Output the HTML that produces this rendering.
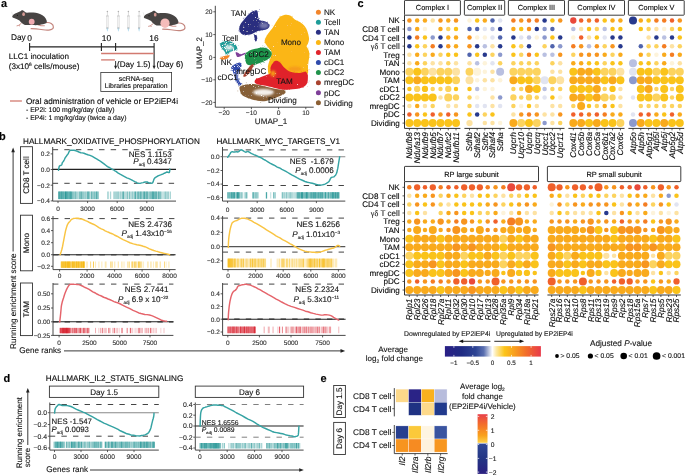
<!DOCTYPE html>
<html><head><meta charset="utf-8"><title>Figure</title>
<style>
html,body{margin:0;padding:0;background:#fff;width:685px;height:475px;overflow:hidden}
svg{display:block;will-change:transform}
text{font-family:"Liberation Sans",sans-serif;text-rendering:geometricPrecision;stroke:#222;stroke-width:0.12px}
</style></head><body>
<svg width="685" height="475" viewBox="0 0 685 475">
<rect width="685" height="475" fill="#fff"/>
<text x="1" y="6.8" font-size="11" font-weight="bold" fill="#000">a</text>
<g transform="translate(0 0)"><path d="M46 22.6 C50 22 53.6 24 53.4 27.2 C53.2 30.2 48 30.5 43 29.8 C38 29.1 33.5 28.6 30.6 28.7" fill="none" stroke="#c4867e" stroke-width="1.15"/><path d="M21.5 23.2 L18.6 25.4 L16.6 25.9 M18.6 25.4 L20 26" fill="none" stroke="#d1978f" stroke-width="1"/><path d="M37.5 24.6 L41 25.6 L44.8 25.8" fill="none" stroke="#d1978f" stroke-width="1.1"/><path d="M12.4 15.9 C13 14.6 14.6 13.6 16.5 12.9 C18 12.2 19.5 11.6 20.5 11.2 C21.3 10.2 22.6 10.1 23.5 10.8 C24.5 11.6 25.5 12.6 27 12.8 C31 12.3 36 12.4 40 14.1 C43.5 15.5 46 18 46.8 21 C47.3 22.8 45.5 23.8 43 24.3 C40 25 37 25.3 33 25.1 C29 25 27 25.3 25 24.9 C23 24.3 21 22.6 19.5 20.6 C17.5 19.4 15.5 18.7 14 18.1 C12.6 17.5 11.8 16.8 12.4 15.9 Z" fill="#474443"/><ellipse cx="23.6" cy="14.2" rx="1.35" ry="1.9" fill="#d49a94"/><circle cx="17.4" cy="15.2" r="0.55" fill="#111"/><ellipse cx="31.7" cy="21.7" rx="2.9" ry="3.0" fill="#efaab0"/><path d="M11.6 11.8 L12.6 15.2" stroke="#cfcfcf" stroke-width="0.4"/></g>
<g transform="translate(131.6 0.5)"><path d="M46 22.6 C50 22 53.6 24 53.4 27.2 C53.2 30.2 48 30.5 43 29.8 C38 29.1 33.5 28.6 30.6 28.7" fill="none" stroke="#c4867e" stroke-width="1.15"/><path d="M21.5 23.2 L18.6 25.4 L16.6 25.9 M18.6 25.4 L20 26" fill="none" stroke="#d1978f" stroke-width="1"/><path d="M37.5 24.6 L41 25.6 L44.8 25.8" fill="none" stroke="#d1978f" stroke-width="1.1"/><path d="M12.4 15.9 C13 14.6 14.6 13.6 16.5 12.9 C18 12.2 19.5 11.6 20.5 11.2 C21.3 10.2 22.6 10.1 23.5 10.8 C24.5 11.6 25.5 12.6 27 12.8 C31 12.3 36 12.4 40 14.1 C43.5 15.5 46 18 46.8 21 C47.3 22.8 45.5 23.8 43 24.3 C40 25 37 25.3 33 25.1 C29 25 27 25.3 25 24.9 C23 24.3 21 22.6 19.5 20.6 C17.5 19.4 15.5 18.7 14 18.1 C12.6 17.5 11.8 16.8 12.4 15.9 Z" fill="#474443"/><ellipse cx="23.6" cy="14.2" rx="1.35" ry="1.9" fill="#d49a94"/><circle cx="17.4" cy="15.2" r="0.55" fill="#111"/><ellipse cx="33.4" cy="22.7" rx="4.6" ry="4.8" fill="#f5bcba"/><path d="M11.6 11.8 L12.6 15.2" stroke="#cfcfcf" stroke-width="0.4"/></g>
<line x1="107.4" y1="11.5" x2="107.4" y2="16" stroke="#b8b8b8" stroke-width="0.5"/>
<circle cx="107.4" cy="11.6" r="0.75" fill="#b0b0b0"/>
<line x1="106" y1="16" x2="108.8" y2="16" stroke="#bdbdbd" stroke-width="0.8"/>
<rect x="106.5" y="16.4" width="1.8" height="11.6" fill="#f1f1f1" stroke="#cdcdcd" stroke-width="0.4"/>
<rect x="106.5" y="27.7" width="1.8" height="0.9" fill="#7d8a92" stroke="none" stroke-width="0"/>
<path d="M106.5 28.6 L108.3 28.6 L107.75 31 L107.4 31.8 L107.05 31 Z" fill="#b8def0" stroke="none" stroke-width="1"/>
<line x1="118.4" y1="11.5" x2="118.4" y2="16" stroke="#b8b8b8" stroke-width="0.5"/>
<circle cx="118.4" cy="11.6" r="0.75" fill="#b0b0b0"/>
<line x1="117" y1="16" x2="119.8" y2="16" stroke="#bdbdbd" stroke-width="0.8"/>
<rect x="117.5" y="16.4" width="1.8" height="11.6" fill="#f1f1f1" stroke="#cdcdcd" stroke-width="0.4"/>
<rect x="117.5" y="27.7" width="1.8" height="0.9" fill="#7d8a92" stroke="none" stroke-width="0"/>
<path d="M117.5 28.6 L119.3 28.6 L118.75 31 L118.4 31.8 L118.05 31 Z" fill="#b8def0" stroke="none" stroke-width="1"/>
<line x1="128.4" y1="11.5" x2="128.4" y2="16" stroke="#b8b8b8" stroke-width="0.5"/>
<circle cx="128.4" cy="11.6" r="0.75" fill="#b0b0b0"/>
<line x1="127" y1="16" x2="129.8" y2="16" stroke="#bdbdbd" stroke-width="0.8"/>
<rect x="127.5" y="16.4" width="1.8" height="11.6" fill="#f1f1f1" stroke="#cdcdcd" stroke-width="0.4"/>
<rect x="127.5" y="27.7" width="1.8" height="0.9" fill="#7d8a92" stroke="none" stroke-width="0"/>
<path d="M127.5 28.6 L129.3 28.6 L128.75 31 L128.4 31.8 L128.05 31 Z" fill="#b8def0" stroke="none" stroke-width="1"/>
<line x1="139.1" y1="11.5" x2="139.1" y2="16" stroke="#b8b8b8" stroke-width="0.5"/>
<circle cx="139.1" cy="11.6" r="0.75" fill="#b0b0b0"/>
<line x1="137.7" y1="16" x2="140.5" y2="16" stroke="#bdbdbd" stroke-width="0.8"/>
<rect x="138.2" y="16.4" width="1.8" height="11.6" fill="#f1f1f1" stroke="#cdcdcd" stroke-width="0.4"/>
<rect x="138.2" y="27.7" width="1.8" height="0.9" fill="#7d8a92" stroke="none" stroke-width="0"/>
<path d="M138.2 28.6 L140 28.6 L139.45 31 L139.1 31.8 L138.75 31 Z" fill="#b8def0" stroke="none" stroke-width="1"/>
<text x="11" y="40.2" font-size="8.3">Day</text>
<text x="29.7" y="41" font-size="8.4" text-anchor="middle">0</text>
<text x="106.4" y="41" font-size="8.4" text-anchor="middle">10</text>
<text x="153.9" y="41" font-size="8.4" text-anchor="middle">16</text>
<line x1="29.3" y1="46.9" x2="154.1" y2="46.9" stroke="#222" stroke-width="1.2"/>
<line x1="29.6" y1="43.1" x2="29.6" y2="51" stroke="#222" stroke-width="1.1"/>
<line x1="101.4" y1="43.1" x2="101.4" y2="51" stroke="#222" stroke-width="1.1"/>
<line x1="115.6" y1="43.1" x2="115.6" y2="51" stroke="#222" stroke-width="1.1"/>
<line x1="154.1" y1="43.1" x2="154.1" y2="66.5" stroke="#222" stroke-width="1.1"/>
<line x1="115.6" y1="61" x2="115.6" y2="66.5" stroke="#222" stroke-width="0.9"/>
<path d="M114.1 65.8 L117.1 65.8 L115.6 69.3 Z" fill="#222" stroke="none" stroke-width="1"/>
<path d="M152.6 65.8 L155.6 65.8 L154.1 69.3 Z" fill="#222" stroke="none" stroke-width="1"/>
<line x1="101.1" y1="53.5" x2="153.8" y2="53.5" stroke="#d27a70" stroke-width="1.3"/>
<line x1="101.1" y1="59.9" x2="114.9" y2="59.9" stroke="#d27a70" stroke-width="1.3"/>
<text x="117" y="66.8" font-size="8.15">(Day 1.5)</text>
<text x="156.5" y="66.8" font-size="8.15">(Day 6)</text>
<text x="8.8" y="59.1" font-size="8.1">LLC1 inoculation</text>
<text x="8.8" y="68.8" font-size="8.1">(3x10<tspan font-size="4.8" dy="-2.8">6</tspan><tspan dy="2.8"> cells/mouse)</tspan></text>
<rect x="100.8" y="72.5" width="70.8" height="18.9" fill="none" stroke="#333" stroke-width="0.8"/>
<text x="136.2" y="80.7" font-size="6.9" text-anchor="middle">scRNA-seq</text>
<text x="136.2" y="88.1" font-size="6.85" text-anchor="middle">Libraries preparation</text>
<line x1="10" y1="101" x2="21.9" y2="101" stroke="#d27a70" stroke-width="1.3"/>
<text x="26" y="104.1" font-size="8.2">Oral administration of vehicle or EP2iEP4i</text>
<text x="26" y="112.3" font-size="6.9">- EP2i: 100 mg/kg/day (daily)</text>
<text x="26" y="120.1" font-size="6.85">- EP4i: 1 mg/kg/day (twice a day)</text>
<line x1="215.3" y1="5.8" x2="215.3" y2="107.2" stroke="#333" stroke-width="0.9"/>
<line x1="215.3" y1="107.2" x2="313.7" y2="107.2" stroke="#333" stroke-width="0.9"/>
<line x1="213.3" y1="11.8" x2="215.3" y2="11.8" stroke="#333" stroke-width="0.8"/>
<text x="212.5" y="14.2" font-size="6.6" text-anchor="end" fill="#333">20</text>
<line x1="213.3" y1="34.6" x2="215.3" y2="34.6" stroke="#333" stroke-width="0.8"/>
<text x="212.5" y="37" font-size="6.6" text-anchor="end" fill="#333">10</text>
<line x1="213.3" y1="57.4" x2="215.3" y2="57.4" stroke="#333" stroke-width="0.8"/>
<text x="212.5" y="59.8" font-size="6.6" text-anchor="end" fill="#333">0</text>
<line x1="213.3" y1="79.8" x2="215.3" y2="79.8" stroke="#333" stroke-width="0.8"/>
<text x="212.5" y="82.2" font-size="6.6" text-anchor="end" fill="#333">−10</text>
<line x1="213.3" y1="102.4" x2="215.3" y2="102.4" stroke="#333" stroke-width="0.8"/>
<text x="212.5" y="104.8" font-size="6.6" text-anchor="end" fill="#333">−20</text>
<line x1="224.2" y1="107.2" x2="224.2" y2="109.2" stroke="#333" stroke-width="0.8"/>
<text x="224.2" y="114.8" font-size="6.6" text-anchor="middle" fill="#333">−20</text>
<line x1="251.4" y1="107.2" x2="251.4" y2="109.2" stroke="#333" stroke-width="0.8"/>
<text x="251.4" y="114.8" font-size="6.6" text-anchor="middle" fill="#333">−10</text>
<line x1="278.6" y1="107.2" x2="278.6" y2="109.2" stroke="#333" stroke-width="0.8"/>
<text x="278.6" y="114.8" font-size="6.6" text-anchor="middle" fill="#333">0</text>
<line x1="305.8" y1="107.2" x2="305.8" y2="109.2" stroke="#333" stroke-width="0.8"/>
<text x="305.8" y="114.8" font-size="6.6" text-anchor="middle" fill="#333">10</text>
<text x="271" y="124" font-size="8.1" text-anchor="middle" fill="#222">UMAP_1</text>
<text x="201.8" y="52.9" font-size="7.95" text-anchor="middle" fill="#222" transform="rotate(-90 201.8 52.9)">UMAP_2</text>
<defs><filter id="fz" x="-10%" y="-10%" width="120%" height="120%"><feGaussianBlur stdDeviation="0.3"/></filter><filter id="fz2" x="-50%" y="-50%" width="200%" height="200%"><feGaussianBlur stdDeviation="1.3"/></filter><filter id="spA" x="0" y="0" width="100%" height="100%"><feTurbulence type="fractalNoise" baseFrequency="0.9" numOctaves="2" seed="4" result="n"/><feColorMatrix in="n" type="matrix" values="0 0 0 0 1  0 0 0 0 1  0 0 0 0 1  6 0 0 0 -4.1" result="w"/><feComposite in="w" in2="SourceGraphic" operator="in" result="ws"/><feMerge><feMergeNode in="SourceGraphic"/><feMergeNode in="ws"/></feMerge></filter><filter id="spM" x="0" y="0" width="100%" height="100%"><feTurbulence type="fractalNoise" baseFrequency="0.9" numOctaves="2" seed="5" result="n"/><feColorMatrix in="n" type="matrix" values="0 0 0 0 1  0 0 0 0 1  0 0 0 0 1  6 0 0 0 -4.6" result="w"/><feComposite in="w" in2="SourceGraphic" operator="in" result="ws"/><feMerge><feMergeNode in="SourceGraphic"/><feMergeNode in="ws"/></feMerge></filter><filter id="spB" x="0" y="0" width="100%" height="100%"><feTurbulence type="fractalNoise" baseFrequency="0.9" numOctaves="2" seed="6" result="n"/><feColorMatrix in="n" type="matrix" values="0 0 0 0 1  0 0 0 0 1  0 0 0 0 1  6 0 0 0 -3.4" result="w"/><feComposite in="w" in2="SourceGraphic" operator="in" result="ws"/><feMerge><feMergeNode in="SourceGraphic"/><feMergeNode in="ws"/></feMerge></filter><filter id="spC" x="0" y="0" width="100%" height="100%"><feTurbulence type="fractalNoise" baseFrequency="0.9" numOctaves="2" seed="7" result="n"/><feColorMatrix in="n" type="matrix" values="0 0 0 0 1  0 0 0 0 1  0 0 0 0 1  6 0 0 0 -2.8" result="w"/><feComposite in="w" in2="SourceGraphic" operator="in" result="ws"/><feMerge><feMergeNode in="SourceGraphic"/><feMergeNode in="ws"/></feMerge></filter></defs>
<g filter="url(#fz)">
<g filter="url(#spA)">
<path d="M256.9 10.5 L257.07 10.83 L257.32 11.29 L257.59 11.88 L257.8 12.6 L257.91 13.52 L257.98 14.62 L258.05 15.76 L258.2 16.8 L258.39 17.77 L258.61 18.71 L258.95 19.55 L259.5 20.2 L260.35 20.56 L261.42 20.71 L262.58 20.8 L263.7 21 L264.81 21.34 L265.96 21.74 L267.03 22.2 L267.9 22.7 L268.56 23.27 L269.07 23.9 L269.42 24.56 L269.6 25.2 L269.6 25.84 L269.41 26.5 L269.1 27.13 L268.7 27.7 L268.23 28.2 L267.66 28.65 L266.98 29.05 L266.2 29.4 L265.27 29.68 L264.21 29.91 L263.09 30.1 L262 30.3 L260.93 30.49 L259.85 30.65 L258.79 30.84 L257.8 31.1 L256.91 31.46 L256.1 31.89 L255.29 32.35 L254.4 32.8 L253.42 33.26 L252.4 33.73 L251.33 34.17 L250.2 34.5 L248.97 34.72 L247.65 34.86 L246.36 34.92 L245.2 34.9 L244.21 34.81 L243.32 34.66 L242.52 34.4 L241.8 34 L241.14 33.43 L240.56 32.71 L240.08 31.91 L239.7 31.1 L239.43 30.3 L239.27 29.48 L239.22 28.62 L239.3 27.7 L239.52 26.71 L239.86 25.65 L240.33 24.57 L240.9 23.5 L241.6 22.47 L242.44 21.45 L243.35 20.41 L244.3 19.3 L245.31 18.05 L246.4 16.7 L247.49 15.4 L248.5 14.3 L249.41 13.45 L250.25 12.76 L251.07 12.2 L251.9 11.7 L252.79 11.27 L253.71 10.94 L254.58 10.68 L255.3 10.5 L255.84 10.37 L256.26 10.29 L256.59 10.32 L256.9 10.5 L257.2 10.93 L257.45 11.55 L257.65 12.17 L257.8 12.6 Z" fill="#2b2f7f" stroke="none" stroke-width="1"/>
</g>
<circle cx="267.26" cy="28.39" r="0.43" fill="#2b2f7f"/>
<circle cx="239.47" cy="30.86" r="0.25" fill="#2b2f7f"/>
<circle cx="239.66" cy="31.76" r="0.45" fill="#2b2f7f"/>
<circle cx="238.6" cy="30.81" r="0.33" fill="#2b2f7f"/>
<circle cx="267.08" cy="22.71" r="0.44" fill="#2b2f7f"/>
<circle cx="248.89" cy="33.38" r="0.26" fill="#2b2f7f"/>
<circle cx="249" cy="15.82" r="0.41" fill="#2b2f7f"/>
<circle cx="262.79" cy="30.15" r="0.43" fill="#2b2f7f"/>
<circle cx="257.88" cy="11.25" r="0.4" fill="#2b2f7f"/>
<circle cx="243.33" cy="18.77" r="0.43" fill="#2b2f7f"/>
<circle cx="260.53" cy="20.44" r="0.3" fill="#2b2f7f"/>
<circle cx="255.09" cy="10.79" r="0.31" fill="#2b2f7f"/>
<circle cx="239.89" cy="26.68" r="0.36" fill="#2b2f7f"/>
<circle cx="243.52" cy="33.92" r="0.39" fill="#2b2f7f"/>
<circle cx="259.3" cy="9.71" r="0.38" fill="#2b2f7f"/>
<circle cx="267.65" cy="21.94" r="0.36" fill="#2b2f7f"/>
<circle cx="244.02" cy="17.45" r="0.29" fill="#2b2f7f"/>
<circle cx="245.26" cy="18.51" r="0.35" fill="#2b2f7f"/>
<circle cx="253.18" cy="11.25" r="0.41" fill="#2b2f7f"/>
<circle cx="245.34" cy="34.79" r="0.34" fill="#2b2f7f"/>
<circle cx="244.4" cy="34.62" r="0.37" fill="#2b2f7f"/>
<circle cx="257.05" cy="14.35" r="0.36" fill="#2b2f7f"/>
<circle cx="259.84" cy="29.99" r="0.31" fill="#2b2f7f"/>
<circle cx="259.26" cy="18.47" r="0.44" fill="#2b2f7f"/>
<circle cx="245.02" cy="35.58" r="0.39" fill="#2b2f7f"/>
<circle cx="254.4" cy="34.45" r="0.43" fill="#2b2f7f"/>
<circle cx="248.9" cy="35.77" r="0.33" fill="#2b2f7f"/>
<circle cx="248.32" cy="13.92" r="0.44" fill="#2b2f7f"/>
<circle cx="239.13" cy="28.97" r="0.39" fill="#2b2f7f"/>
<circle cx="259.21" cy="30.92" r="0.31" fill="#2b2f7f"/>
<circle cx="256.22" cy="32.42" r="0.37" fill="#2b2f7f"/>
<circle cx="256.47" cy="12.13" r="0.28" fill="#2b2f7f"/>
<circle cx="252.09" cy="10.55" r="0.39" fill="#2b2f7f"/>
<circle cx="252.86" cy="32.8" r="0.35" fill="#2b2f7f"/>
<circle cx="248.74" cy="15.9" r="0.44" fill="#2b2f7f"/>
<circle cx="265.67" cy="28.85" r="0.37" fill="#2b2f7f"/>
<circle cx="268.56" cy="24.49" r="0.32" fill="#2b2f7f"/>
<circle cx="248.36" cy="15.88" r="0.27" fill="#2b2f7f"/>
<circle cx="258.93" cy="11.63" r="0.28" fill="#2b2f7f"/>
<circle cx="239.58" cy="29.3" r="0.3" fill="#2b2f7f"/>
<path d="M254.2 35 L254.66 34.97 L255.32 34.92 L256 34.96 L256.5 35.2 L256.78 35.71 L256.93 36.43 L256.99 37.23 L257 38 L256.96 38.8 L256.86 39.66 L256.7 40.44 L256.5 41 L256.24 41.33 L255.92 41.49 L255.59 41.45 L255.3 41.2 L255.06 40.63 L254.84 39.8 L254.66 38.87 L254.5 38 L254.33 37.16 L254.16 36.29 L254.08 35.52 L254.2 35 L254.65 34.83 L255.33 34.91 L256.03 35.09 L256.5 35.2 Z" fill="#2b2f7f" stroke="none" stroke-width="1"/>
<circle cx="256.4" cy="34.93" r="0.27" fill="#2b2f7f"/>
<circle cx="254.42" cy="39.35" r="0.42" fill="#2b2f7f"/>
<circle cx="256.48" cy="40.07" r="0.27" fill="#2b2f7f"/>
<circle cx="253.35" cy="34.51" r="0.34" fill="#2b2f7f"/>
<circle cx="257.02" cy="37.07" r="0.44" fill="#2b2f7f"/>
<circle cx="257.26" cy="38.59" r="0.29" fill="#2b2f7f"/>
<g filter="url(#spA)">
<path d="M240 86.6 L241.11 86.19 L242.69 85.58 L244.5 84.96 L246.3 84.5 L248.08 84.22 L249.94 84.03 L251.83 83.95 L253.7 84 L255.5 84.22 L257.28 84.59 L259.09 85.04 L261 85.5 L263.04 85.99 L265.18 86.54 L267.35 87.09 L269.5 87.6 L271.66 88.07 L273.84 88.52 L275.95 88.94 L277.9 89.3 L279.74 89.54 L281.51 89.69 L283.04 89.87 L284.2 90.2 L284.99 90.74 L285.48 91.41 L285.6 92.15 L285.3 92.9 L284.5 93.64 L283.24 94.42 L281.69 95.21 L280 96 L278.09 96.82 L275.93 97.66 L273.7 98.47 L271.6 99.2 L269.7 99.88 L267.9 100.51 L266.1 101.02 L264.2 101.3 L262.15 101.29 L260 101.06 L257.85 100.7 L255.8 100.3 L253.85 99.88 L251.97 99.39 L250.15 98.83 L248.4 98.2 L246.65 97.5 L244.92 96.73 L243.35 95.9 L242.1 95 L241.23 94.02 L240.66 92.96 L240.28 91.87 L240 90.8 L239.7 89.7 L239.47 88.57 L239.51 87.5 L240 86.6 L241.28 85.88 L243.15 85.29 L245.02 84.83 L246.3 84.5 Z" fill="#876038" stroke="none" stroke-width="1"/>
</g>
<circle cx="272.8" cy="99.9" r="0.27" fill="#876038"/>
<circle cx="255" cy="99.8" r="0.35" fill="#876038"/>
<circle cx="274.69" cy="97.94" r="0.31" fill="#876038"/>
<circle cx="243.01" cy="95.21" r="0.29" fill="#876038"/>
<circle cx="243.02" cy="85.23" r="0.45" fill="#876038"/>
<circle cx="237.83" cy="90.92" r="0.39" fill="#876038"/>
<circle cx="246.25" cy="82.79" r="0.38" fill="#876038"/>
<circle cx="269.78" cy="98.69" r="0.42" fill="#876038"/>
<circle cx="272.09" cy="99.66" r="0.26" fill="#876038"/>
<circle cx="286.53" cy="89.57" r="0.37" fill="#876038"/>
<circle cx="240.65" cy="86.24" r="0.35" fill="#876038"/>
<circle cx="282.67" cy="93.48" r="0.33" fill="#876038"/>
<circle cx="264.81" cy="87.11" r="0.42" fill="#876038"/>
<circle cx="241.4" cy="85.58" r="0.29" fill="#876038"/>
<circle cx="265.73" cy="86.73" r="0.28" fill="#876038"/>
<circle cx="275.14" cy="97.71" r="0.41" fill="#876038"/>
<circle cx="238.83" cy="86.69" r="0.33" fill="#876038"/>
<circle cx="275.94" cy="98.91" r="0.35" fill="#876038"/>
<circle cx="248.4" cy="84.29" r="0.25" fill="#876038"/>
<circle cx="251.87" cy="83.67" r="0.26" fill="#876038"/>
<circle cx="243.02" cy="85.6" r="0.27" fill="#876038"/>
<circle cx="245.77" cy="84.53" r="0.26" fill="#876038"/>
<circle cx="245.93" cy="96.55" r="0.32" fill="#876038"/>
<circle cx="285.15" cy="90.13" r="0.28" fill="#876038"/>
<circle cx="239.81" cy="85.74" r="0.27" fill="#876038"/>
<circle cx="282.47" cy="89.95" r="0.38" fill="#876038"/>
<circle cx="248.22" cy="98" r="0.43" fill="#876038"/>
<circle cx="249.2" cy="84.78" r="0.39" fill="#876038"/>
<circle cx="242.12" cy="93.73" r="0.25" fill="#876038"/>
<circle cx="284.24" cy="91.84" r="0.26" fill="#876038"/>
<circle cx="240.73" cy="93.43" r="0.26" fill="#876038"/>
<circle cx="260.79" cy="102.66" r="0.41" fill="#876038"/>
<circle cx="279.09" cy="97.77" r="0.44" fill="#876038"/>
<circle cx="247.68" cy="96.93" r="0.36" fill="#876038"/>
<circle cx="263.58" cy="84.67" r="0.34" fill="#876038"/>
<circle cx="283.28" cy="94.15" r="0.27" fill="#876038"/>
<circle cx="260.53" cy="84.76" r="0.41" fill="#876038"/>
<circle cx="258.1" cy="100.32" r="0.42" fill="#876038"/>
<circle cx="242.42" cy="83.97" r="0.37" fill="#876038"/>
<circle cx="260.59" cy="85.38" r="0.35" fill="#876038"/>
<g filter="url(#spM)">
<path d="M281.1 16.3 L281.83 15.95 L282.87 15.43 L284.07 14.95 L285.3 14.7 L286.57 14.72 L287.95 14.92 L289.33 15.28 L290.6 15.8 L291.7 16.57 L292.71 17.56 L293.71 18.59 L294.8 19.5 L296.05 20.2 L297.39 20.8 L298.74 21.4 L300 22.1 L301.18 22.94 L302.31 23.85 L303.37 24.81 L304.3 25.8 L305.09 26.79 L305.77 27.8 L306.36 28.86 L306.9 30 L307.4 31.27 L307.83 32.65 L308.2 34.03 L308.5 35.3 L308.74 36.43 L308.92 37.47 L309.01 38.48 L309 39.5 L308.84 40.59 L308.56 41.69 L308.23 42.76 L307.9 43.7 L307.51 44.46 L307.06 45.09 L306.7 45.7 L306.6 46.4 L306.87 47.22 L307.41 48.1 L308.02 49.03 L308.5 50 L308.83 51.02 L309.1 52.08 L309.3 53.18 L309.4 54.3 L309.38 55.39 L309.26 56.48 L309.09 57.65 L308.9 59 L308.69 60.56 L308.45 62.29 L308.21 64.13 L308 66 L308.01 68.07 L308.16 70.31 L308.11 72.4 L307.5 74 L306.29 74.99 L304.66 75.56 L302.57 75.85 L300 76 L296.66 75.91 L292.66 75.56 L288.57 75.18 L285 75 L282.05 75.16 L279.44 75.5 L277.1 75.84 L275 76 L273.1 76.08 L271.44 76.12 L270.05 75.86 L269 75 L268.32 73.29 L267.97 70.94 L267.89 68.37 L268 66 L268.41 63.88 L269.12 61.8 L269.89 59.82 L270.5 58 L270.95 56.33 L271.34 54.8 L271.58 53.42 L271.6 52.2 L271.33 51.24 L270.82 50.5 L270.18 49.81 L269.5 49 L268.74 48 L267.87 46.9 L267.01 45.8 L266.3 44.8 L265.74 43.93 L265.26 43.13 L264.91 42.37 L264.7 41.6 L264.64 40.87 L264.71 40.18 L264.92 39.43 L265.3 38.5 L265.87 37.33 L266.62 35.99 L267.49 34.58 L268.4 33.2 L269.4 31.88 L270.49 30.55 L271.59 29.23 L272.6 27.9 L273.47 26.56 L274.26 25.21 L275.02 23.88 L275.8 22.6 L276.63 21.31 L277.47 20.02 L278.28 18.84 L279 17.9 L279.55 17.28 L279.99 16.91 L280.45 16.63 L281.1 16.3 L282.1 15.86 L283.33 15.4 L284.5 14.99 L285.3 14.7 Z" fill="#fbb612" stroke="none" stroke-width="1"/>
</g>
<circle cx="307.33" cy="75.82" r="0.44" fill="#fbb612"/>
<circle cx="297.2" cy="20.9" r="0.29" fill="#fbb612"/>
<circle cx="303.39" cy="25.32" r="0.3" fill="#fbb612"/>
<circle cx="264.68" cy="42.68" r="0.44" fill="#fbb612"/>
<circle cx="268.25" cy="34.41" r="0.3" fill="#fbb612"/>
<circle cx="267.03" cy="35.59" r="0.33" fill="#fbb612"/>
<circle cx="280.9" cy="17.3" r="0.43" fill="#fbb612"/>
<circle cx="307.97" cy="47.97" r="0.43" fill="#fbb612"/>
<circle cx="272.12" cy="25.74" r="0.28" fill="#fbb612"/>
<circle cx="309.85" cy="57.25" r="0.44" fill="#fbb612"/>
<circle cx="269.31" cy="74.47" r="0.37" fill="#fbb612"/>
<circle cx="285.53" cy="74.56" r="0.3" fill="#fbb612"/>
<circle cx="266.05" cy="44.92" r="0.3" fill="#fbb612"/>
<circle cx="280.52" cy="16.19" r="0.45" fill="#fbb612"/>
<circle cx="279.82" cy="16.39" r="0.37" fill="#fbb612"/>
<circle cx="288.06" cy="15.43" r="0.42" fill="#fbb612"/>
<circle cx="265.05" cy="38.56" r="0.26" fill="#fbb612"/>
<circle cx="309.06" cy="69.58" r="0.41" fill="#fbb612"/>
<circle cx="302.69" cy="22.53" r="0.3" fill="#fbb612"/>
<circle cx="309.47" cy="53.87" r="0.37" fill="#fbb612"/>
<circle cx="292.2" cy="16.21" r="0.42" fill="#fbb612"/>
<circle cx="268.14" cy="66.32" r="0.41" fill="#fbb612"/>
<circle cx="310.19" cy="38.3" r="0.31" fill="#fbb612"/>
<circle cx="268.93" cy="50.19" r="0.32" fill="#fbb612"/>
<circle cx="288.89" cy="16.02" r="0.35" fill="#fbb612"/>
<circle cx="307.88" cy="59.53" r="0.35" fill="#fbb612"/>
<circle cx="308.61" cy="39.39" r="0.3" fill="#fbb612"/>
<circle cx="271.76" cy="31.64" r="0.43" fill="#fbb612"/>
<circle cx="305.68" cy="29.78" r="0.39" fill="#fbb612"/>
<circle cx="267.9" cy="46.23" r="0.39" fill="#fbb612"/>
<g filter="url(#spM)">
<path d="M255.8 79.2 L256.73 78.82 L258.07 78.28 L259.57 77.67 L261 77.1 L262.34 76.57 L263.71 76.05 L265.05 75.52 L266.3 75 L267.53 74.55 L268.73 74.15 L269.77 73.65 L270.5 72.9 L270.75 71.77 L270.63 70.38 L270.45 68.92 L270.5 67.6 L270.85 66.44 L271.35 65.33 L271.95 64.31 L272.6 63.4 L273.3 62.54 L274.07 61.74 L274.9 61.12 L275.8 60.8 L276.78 60.82 L277.84 61.11 L278.93 61.65 L280 62.4 L281 63.47 L281.97 64.84 L283 66.29 L284.2 67.6 L285.58 68.79 L287.08 69.96 L288.72 70.99 L290.5 71.8 L292.52 72.34 L294.75 72.68 L296.98 72.85 L299 72.9 L300.83 72.7 L302.55 72.28 L304.07 71.89 L305.3 71.8 L306.16 72.12 L306.71 72.71 L307.09 73.39 L307.4 74 L307.66 74.41 L307.81 74.74 L307.88 75.2 L307.9 76 L307.91 77.34 L307.88 79.06 L307.74 80.85 L307.4 82.4 L306.86 83.65 L306.16 84.77 L305.28 85.75 L304.2 86.6 L302.94 87.3 L301.51 87.85 L299.84 88.3 L297.9 88.7 L295.5 89.06 L292.72 89.36 L289.91 89.58 L287.4 89.7 L285.36 89.72 L283.57 89.64 L281.85 89.47 L280 89.2 L277.95 88.78 L275.8 88.22 L273.65 87.63 L271.6 87.1 L269.65 86.65 L267.77 86.23 L265.95 85.85 L264.2 85.5 L262.47 85.23 L260.79 85.03 L259.23 84.81 L257.9 84.5 L256.78 84.08 L255.84 83.59 L255.12 83.03 L254.7 82.4 L254.58 81.65 L254.72 80.8 L255.14 79.95 L255.8 79.2 L256.93 78.55 L258.47 77.95 L259.97 77.45 L261 77.1 Z" fill="#e0232b" stroke="none" stroke-width="1"/>
</g>
<circle cx="260.79" cy="84.24" r="0.27" fill="#e0232b"/>
<circle cx="303.55" cy="70.91" r="0.27" fill="#e0232b"/>
<circle cx="299.53" cy="88.28" r="0.31" fill="#e0232b"/>
<circle cx="256.41" cy="78.32" r="0.38" fill="#e0232b"/>
<circle cx="264.71" cy="86.2" r="0.43" fill="#e0232b"/>
<circle cx="307.65" cy="86.23" r="0.28" fill="#e0232b"/>
<circle cx="301.75" cy="71.25" r="0.33" fill="#e0232b"/>
<circle cx="294.15" cy="71.89" r="0.31" fill="#e0232b"/>
<circle cx="273.95" cy="61.33" r="0.29" fill="#e0232b"/>
<circle cx="282.15" cy="89.25" r="0.32" fill="#e0232b"/>
<circle cx="287.04" cy="70.25" r="0.28" fill="#e0232b"/>
<circle cx="302.26" cy="87.28" r="0.4" fill="#e0232b"/>
<circle cx="307.69" cy="70.59" r="0.34" fill="#e0232b"/>
<circle cx="265.25" cy="76.39" r="0.27" fill="#e0232b"/>
<circle cx="285.93" cy="69.23" r="0.36" fill="#e0232b"/>
<circle cx="258" cy="79.45" r="0.36" fill="#e0232b"/>
<circle cx="256.71" cy="82.42" r="0.4" fill="#e0232b"/>
<circle cx="272.26" cy="86.51" r="0.41" fill="#e0232b"/>
<circle cx="284.21" cy="89.52" r="0.29" fill="#e0232b"/>
<circle cx="283.69" cy="68.15" r="0.42" fill="#e0232b"/>
<circle cx="309.1" cy="81.01" r="0.33" fill="#e0232b"/>
<circle cx="284.21" cy="89.21" r="0.35" fill="#e0232b"/>
<circle cx="289.61" cy="88.88" r="0.42" fill="#e0232b"/>
<circle cx="303.52" cy="87.41" r="0.38" fill="#e0232b"/>
<circle cx="270.92" cy="70.46" r="0.35" fill="#e0232b"/>
<circle cx="289.48" cy="89.16" r="0.41" fill="#e0232b"/>
<circle cx="279.96" cy="61.89" r="0.38" fill="#e0232b"/>
<circle cx="307.96" cy="82.87" r="0.38" fill="#e0232b"/>
<circle cx="273" cy="65.51" r="0.37" fill="#e0232b"/>
<circle cx="264.95" cy="76.25" r="0.35" fill="#e0232b"/>
<circle cx="297.83" cy="87.8" r="0.31" fill="#e0232b"/>
<circle cx="305.14" cy="71.35" r="0.42" fill="#e0232b"/>
<circle cx="271.64" cy="86.87" r="0.27" fill="#e0232b"/>
<circle cx="304.68" cy="71.89" r="0.26" fill="#e0232b"/>
<circle cx="275.38" cy="61.4" r="0.35" fill="#e0232b"/>
<circle cx="270.96" cy="70.88" r="0.42" fill="#e0232b"/>
<circle cx="255.29" cy="81.69" r="0.39" fill="#e0232b"/>
<circle cx="287.77" cy="89.21" r="0.35" fill="#e0232b"/>
<circle cx="256.59" cy="78.62" r="0.33" fill="#e0232b"/>
<circle cx="274.67" cy="61.19" r="0.3" fill="#e0232b"/>
<g filter="url(#spA)">
<path d="M245.5 53.7 L246.18 53.1 L247.14 52.23 L248.33 51.3 L249.7 50.5 L251.35 49.87 L253.27 49.31 L255.25 48.82 L257.1 48.4 L258.78 48 L260.38 47.64 L261.92 47.41 L263.4 47.4 L264.85 47.66 L266.25 48.12 L267.55 48.75 L268.7 49.5 L269.75 50.4 L270.71 51.47 L271.44 52.6 L271.8 53.7 L271.71 54.77 L271.27 55.86 L270.56 56.92 L269.7 57.9 L268.62 58.8 L267.3 59.63 L265.88 60.4 L264.5 61.1 L263.21 61.7 L261.92 62.22 L260.6 62.7 L259.2 63.2 L257.67 63.79 L256.05 64.42 L254.43 64.96 L252.9 65.3 L251.43 65.41 L249.99 65.36 L248.68 65.12 L247.6 64.7 L246.81 64.03 L246.25 63.13 L245.84 62.12 L245.5 61.1 L245.24 60.05 L245.09 58.92 L245.02 57.81 L245 56.8 L244.97 55.94 L244.96 55.18 L245.09 54.45 L245.5 53.7 L246.39 52.83 L247.63 51.91 L248.86 51.08 L249.7 50.5 Z" fill="#1f9149" stroke="none" stroke-width="1"/>
</g>
<circle cx="246.87" cy="52.71" r="0.37" fill="#1f9149"/>
<circle cx="267.85" cy="47.82" r="0.3" fill="#1f9149"/>
<circle cx="271.18" cy="57.7" r="0.29" fill="#1f9149"/>
<circle cx="266.03" cy="47.82" r="0.35" fill="#1f9149"/>
<circle cx="248.03" cy="64.77" r="0.28" fill="#1f9149"/>
<circle cx="261.29" cy="64.29" r="0.33" fill="#1f9149"/>
<circle cx="270.63" cy="54.47" r="0.26" fill="#1f9149"/>
<circle cx="269.64" cy="59.05" r="0.43" fill="#1f9149"/>
<circle cx="249.78" cy="50.89" r="0.34" fill="#1f9149"/>
<circle cx="260.16" cy="48.03" r="0.43" fill="#1f9149"/>
<circle cx="251.36" cy="65.82" r="0.31" fill="#1f9149"/>
<circle cx="246.44" cy="54.62" r="0.44" fill="#1f9149"/>
<circle cx="260.6" cy="63.41" r="0.41" fill="#1f9149"/>
<circle cx="248.39" cy="64.66" r="0.26" fill="#1f9149"/>
<circle cx="267.06" cy="60.17" r="0.25" fill="#1f9149"/>
<circle cx="246.11" cy="52.94" r="0.35" fill="#1f9149"/>
<circle cx="263.16" cy="62.65" r="0.43" fill="#1f9149"/>
<circle cx="264.62" cy="46.51" r="0.32" fill="#1f9149"/>
<circle cx="263.77" cy="61.16" r="0.26" fill="#1f9149"/>
<circle cx="271.45" cy="51.33" r="0.33" fill="#1f9149"/>
<circle cx="271.09" cy="52.32" r="0.35" fill="#1f9149"/>
<circle cx="253.74" cy="66.14" r="0.44" fill="#1f9149"/>
<circle cx="262.86" cy="45.87" r="0.33" fill="#1f9149"/>
<circle cx="254.06" cy="65.41" r="0.41" fill="#1f9149"/>
<circle cx="264.7" cy="62.65" r="0.35" fill="#1f9149"/>
<circle cx="270.21" cy="49.44" r="0.4" fill="#1f9149"/>
<circle cx="244.52" cy="57.97" r="0.26" fill="#1f9149"/>
<circle cx="260.33" cy="47.45" r="0.34" fill="#1f9149"/>
<circle cx="244.53" cy="55.56" r="0.31" fill="#1f9149"/>
<circle cx="250.7" cy="64.28" r="0.43" fill="#1f9149"/>
<g filter="url(#spA)">
<path d="M243.2 76 L243.73 75.07 L244.49 73.73 L245.38 72.23 L246.3 70.8 L247.3 69.38 L248.39 67.89 L249.49 66.52 L250.5 65.5 L251.49 64.8 L252.49 64.34 L253.3 64.21 L253.7 64.5 L253.57 65.39 L253.05 66.77 L252.33 68.33 L251.6 69.7 L250.88 70.86 L250.06 71.96 L249.22 72.98 L248.4 73.9 L247.59 74.76 L246.78 75.55 L246 76.19 L245.3 76.6 L244.58 76.79 L243.86 76.79 L243.34 76.55 L243.2 76 L243.68 74.9 L244.62 73.36 L245.62 71.84 L246.3 70.8 Z" fill="#a6402d" stroke="none" stroke-width="1"/>
</g>
<circle cx="244.16" cy="72.62" r="0.4" fill="#a6402d"/>
<circle cx="247.63" cy="74.76" r="0.29" fill="#a6402d"/>
<circle cx="248.12" cy="68.33" r="0.34" fill="#a6402d"/>
<circle cx="253.58" cy="65.58" r="0.28" fill="#a6402d"/>
<circle cx="251.42" cy="64.76" r="0.3" fill="#a6402d"/>
<circle cx="253.72" cy="66.15" r="0.33" fill="#a6402d"/>
<circle cx="248.58" cy="73.18" r="0.29" fill="#a6402d"/>
<circle cx="253.17" cy="64.09" r="0.41" fill="#a6402d"/>
<circle cx="243.91" cy="74.85" r="0.44" fill="#a6402d"/>
<circle cx="252.18" cy="70.04" r="0.29" fill="#a6402d"/>
<g filter="url(#spB)">
<path d="M231.8 66.3 L232.55 65.8 L233.63 65.07 L234.84 64.31 L236 63.7 L237.15 63.21 L238.35 62.76 L239.45 62.5 L240.3 62.6 L240.85 63.15 L241.2 64.05 L241.35 65.15 L241.3 66.3 L240.97 67.51 L240.38 68.86 L239.72 70.24 L239.2 71.6 L238.83 72.93 L238.51 74.27 L238.28 75.57 L238.2 76.8 L238.28 77.94 L238.51 79.03 L238.83 80.04 L239.2 81 L239.75 81.92 L240.44 82.79 L241.04 83.57 L241.3 84.2 L241.1 84.72 L240.58 85.15 L239.9 85.38 L239.2 85.3 L238.44 84.85 L237.56 84.1 L236.71 83.15 L236 82.1 L235.51 80.92 L235.15 79.58 L234.84 78.17 L234.5 76.8 L234.11 75.45 L233.71 74.07 L233.3 72.76 L232.9 71.6 L232.45 70.63 L231.97 69.81 L231.55 69.08 L231.3 68.4 L231.19 67.81 L231.19 67.31 L231.37 66.83 L231.8 66.3 L232.69 65.62 L233.93 64.87 L235.16 64.18 L236 63.7 Z" fill="#2e47aa" stroke="none" stroke-width="1"/>
</g>
<circle cx="232.51" cy="65.23" r="0.35" fill="#2e47aa"/>
<circle cx="234.28" cy="73.47" r="0.37" fill="#2e47aa"/>
<circle cx="241.43" cy="83.46" r="0.44" fill="#2e47aa"/>
<circle cx="241.54" cy="83.64" r="0.36" fill="#2e47aa"/>
<circle cx="240.7" cy="85.95" r="0.32" fill="#2e47aa"/>
<circle cx="240.95" cy="66.33" r="0.36" fill="#2e47aa"/>
<circle cx="230.51" cy="70.26" r="0.26" fill="#2e47aa"/>
<circle cx="238.62" cy="85.67" r="0.45" fill="#2e47aa"/>
<circle cx="238.37" cy="78.91" r="0.3" fill="#2e47aa"/>
<circle cx="239.26" cy="78.59" r="0.4" fill="#2e47aa"/>
<circle cx="236.2" cy="63.14" r="0.34" fill="#2e47aa"/>
<circle cx="231.54" cy="70.42" r="0.44" fill="#2e47aa"/>
<circle cx="235.83" cy="77.84" r="0.4" fill="#2e47aa"/>
<circle cx="239.27" cy="83.02" r="0.26" fill="#2e47aa"/>
<circle cx="232.71" cy="66.17" r="0.39" fill="#2e47aa"/>
<circle cx="238.19" cy="74.26" r="0.34" fill="#2e47aa"/>
<circle cx="241.28" cy="65.58" r="0.34" fill="#2e47aa"/>
<circle cx="237.92" cy="79.14" r="0.41" fill="#2e47aa"/>
<circle cx="241.46" cy="63.61" r="0.33" fill="#2e47aa"/>
<circle cx="236.29" cy="64.7" r="0.41" fill="#2e47aa"/>
<circle cx="240.99" cy="73.9" r="0.43" fill="#2e47aa"/>
<circle cx="239.72" cy="79.71" r="0.44" fill="#2e47aa"/>
<circle cx="239.47" cy="84.97" r="0.32" fill="#2e47aa"/>
<circle cx="233.88" cy="65.08" r="0.32" fill="#2e47aa"/>
<circle cx="238.77" cy="78.32" r="0.3" fill="#2e47aa"/>
<g filter="url(#spA)">
<path d="M220.3 57.9 L220.83 57.6 L221.59 57.16 L222.48 56.7 L223.4 56.3 L224.42 55.97 L225.56 55.67 L226.67 55.43 L227.6 55.3 L228.37 55.27 L229.04 55.32 L229.52 55.49 L229.7 55.8 L229.49 56.34 L228.97 57.06 L228.29 57.81 L227.6 58.4 L226.9 58.81 L226.12 59.11 L225.31 59.34 L224.5 59.5 L223.66 59.61 L222.77 59.67 L221.95 59.64 L221.3 59.5 L220.8 59.21 L220.41 58.8 L220.21 58.34 L220.3 57.9 L220.86 57.46 L221.79 57 L222.75 56.59 L223.4 56.3 Z" fill="#f2852b" stroke="none" stroke-width="1"/>
</g>
<circle cx="221" cy="57.96" r="0.28" fill="#f2852b"/>
<circle cx="220.91" cy="57.74" r="0.29" fill="#f2852b"/>
<circle cx="220.06" cy="58.49" r="0.32" fill="#f2852b"/>
<circle cx="221.22" cy="57.19" r="0.31" fill="#f2852b"/>
<circle cx="224" cy="59.03" r="0.41" fill="#f2852b"/>
<circle cx="220.16" cy="58.25" r="0.41" fill="#f2852b"/>
<circle cx="220.33" cy="58.35" r="0.26" fill="#f2852b"/>
<circle cx="221.07" cy="56.62" r="0.43" fill="#f2852b"/>
<g filter="url(#spB)">
<path d="M220.3 43.2 L221.21 42.75 L222.51 42.09 L224 41.46 L225.5 41.1 L227.05 41.08 L228.71 41.27 L230.35 41.62 L231.8 42.1 L233.07 42.75 L234.23 43.57 L235.22 44.46 L236 45.3 L236.57 46.11 L236.94 46.92 L237.12 47.7 L237.1 48.4 L236.85 49.02 L236.38 49.58 L235.75 50.07 L235 50.5 L234.05 50.82 L232.9 51.05 L231.75 51.28 L230.8 51.6 L230.13 52.08 L229.62 52.66 L229.18 53.23 L228.7 53.7 L228.17 54.12 L227.65 54.52 L227.12 54.76 L226.6 54.7 L226.1 54.24 L225.62 53.48 L225.1 52.55 L224.5 51.6 L223.74 50.6 L222.87 49.51 L222.01 48.41 L221.3 47.4 L220.74 46.48 L220.26 45.6 L219.91 44.82 L219.7 44.2 L219.59 43.82 L219.57 43.63 L219.77 43.48 L220.3 43.2 L221.4 42.7 L222.94 42.09 L224.46 41.5 L225.5 41.1 Z" fill="#1e9c98" stroke="none" stroke-width="1"/>
</g>
<circle cx="222.86" cy="40.83" r="0.4" fill="#1e9c98"/>
<circle cx="221.94" cy="42.7" r="0.32" fill="#1e9c98"/>
<circle cx="231.72" cy="42.52" r="0.25" fill="#1e9c98"/>
<circle cx="221.93" cy="46.96" r="0.34" fill="#1e9c98"/>
<circle cx="225.29" cy="52.85" r="0.41" fill="#1e9c98"/>
<circle cx="222.2" cy="49.44" r="0.38" fill="#1e9c98"/>
<circle cx="236.82" cy="50.54" r="0.45" fill="#1e9c98"/>
<circle cx="226.07" cy="53.27" r="0.34" fill="#1e9c98"/>
<circle cx="237.1" cy="48.29" r="0.44" fill="#1e9c98"/>
<circle cx="232.73" cy="42.57" r="0.26" fill="#1e9c98"/>
<circle cx="227.9" cy="53.71" r="0.44" fill="#1e9c98"/>
<circle cx="221.92" cy="49.01" r="0.37" fill="#1e9c98"/>
<circle cx="229.78" cy="41.67" r="0.39" fill="#1e9c98"/>
<circle cx="237.68" cy="49.64" r="0.32" fill="#1e9c98"/>
<circle cx="225.43" cy="54.8" r="0.42" fill="#1e9c98"/>
<circle cx="229.23" cy="55.18" r="0.29" fill="#1e9c98"/>
<circle cx="231.46" cy="51.35" r="0.26" fill="#1e9c98"/>
<circle cx="238.17" cy="45.59" r="0.31" fill="#1e9c98"/>
<circle cx="229.95" cy="52.02" r="0.33" fill="#1e9c98"/>
<circle cx="229.9" cy="52.62" r="0.3" fill="#1e9c98"/>
<circle cx="235.91" cy="44.22" r="0.27" fill="#1e9c98"/>
<circle cx="221.82" cy="46.56" r="0.41" fill="#1e9c98"/>
<circle cx="222.07" cy="42.53" r="0.39" fill="#1e9c98"/>
<circle cx="229.09" cy="54.03" r="0.3" fill="#1e9c98"/>
<circle cx="225.22" cy="53.32" r="0.35" fill="#1e9c98"/>
<path d="M235.6 52.6 L235.85 52.52 L236.19 52.39 L236.64 52.31 L237.2 52.4 L237.92 52.77 L238.79 53.34 L239.69 53.89 L240.5 54.2 L241.18 54.18 L241.8 53.95 L242.39 53.65 L243 53.4 L243.69 53.19 L244.42 52.98 L245.07 52.82 L245.5 52.8 L245.69 52.96 L245.71 53.26 L245.54 53.63 L245.2 54 L244.61 54.38 L243.8 54.79 L242.89 55.2 L242 55.6 L241.1 56.01 L240.16 56.44 L239.26 56.8 L238.5 57 L237.94 57.07 L237.51 57.03 L237.15 56.82 L236.8 56.4 L236.4 55.59 L235.99 54.47 L235.69 53.37 L235.6 52.6 L235.84 52.29 L236.32 52.26 L236.85 52.35 L237.2 52.4 Z" fill="#7e3f98" stroke="none" stroke-width="1"/>
<circle cx="242.34" cy="54.63" r="0.29" fill="#7e3f98"/>
<circle cx="237.67" cy="56.55" r="0.28" fill="#7e3f98"/>
<circle cx="236.88" cy="52.82" r="0.31" fill="#7e3f98"/>
<circle cx="240.59" cy="54.11" r="0.44" fill="#7e3f98"/>
</g>
<g filter="url(#fz2)">
<ellipse cx="263.5" cy="92.3" rx="10.5" ry="3.4" fill="#fff" fill-opacity="0.9"/>
<ellipse cx="229" cy="47.5" rx="4.2" ry="2.6" fill="#fff" fill-opacity="0.8"/>
<ellipse cx="264" cy="25.5" rx="4.5" ry="3" fill="#fff" fill-opacity="0.35"/>
<ellipse cx="237.5" cy="76" rx="1.5" ry="5" fill="#fff" fill-opacity="0.4"/>
<ellipse cx="295" cy="69" rx="7" ry="2.5" fill="#f28a1c" fill-opacity="0.6"/>
<ellipse cx="273" cy="73.5" rx="2.5" ry="3" fill="#fbb612" fill-opacity="0.8"/>
</g>
<text x="238.5" y="15.8" font-size="8.1" text-anchor="middle" fill="#111">TAN</text>
<text x="230" y="40.7" font-size="8.1" text-anchor="middle" fill="#111">Tcell</text>
<text x="291" y="44.7" font-size="8.1" text-anchor="middle" fill="#111">Mono</text>
<text x="258.7" y="57.2" font-size="8.1" text-anchor="middle" fill="#111">cDC2</text>
<text x="226.3" y="65" font-size="8.1" text-anchor="middle" fill="#111">NK</text>
<text x="251.2" y="73.8" font-size="8.1" text-anchor="middle" fill="#111">mregDC</text>
<text x="227.7" y="79.8" font-size="8.1" text-anchor="middle" fill="#111">cDC1</text>
<text x="284.5" y="84.2" font-size="8.1" text-anchor="middle" fill="#111">TAM</text>
<text x="282.3" y="102.7" font-size="8.1" text-anchor="middle" fill="#111">Dividing</text>
<circle cx="318.4" cy="12.2" r="2.5" fill="#f2852b"/>
<text x="324" y="15" font-size="8.1" fill="#111">NK</text>
<circle cx="318.4" cy="22.27" r="2.5" fill="#1d9c98"/>
<text x="324" y="25.07" font-size="8.1" fill="#111">Tcell</text>
<circle cx="318.4" cy="32.34" r="2.5" fill="#2b3183"/>
<text x="324" y="35.14" font-size="8.1" fill="#111">TAN</text>
<circle cx="318.4" cy="42.41" r="2.5" fill="#fbb614"/>
<text x="324" y="45.21" font-size="8.1" fill="#111">Mono</text>
<circle cx="318.4" cy="52.48" r="2.5" fill="#e1242b"/>
<text x="324" y="55.28" font-size="8.1" fill="#111">TAM</text>
<circle cx="318.4" cy="62.55" r="2.5" fill="#2f4aab"/>
<text x="324" y="65.35" font-size="8.1" fill="#111">cDC1</text>
<circle cx="318.4" cy="72.62" r="2.5" fill="#20924a"/>
<text x="324" y="75.42" font-size="8.1" fill="#111">cDC2</text>
<circle cx="318.4" cy="82.69" r="2.5" fill="#a9432f"/>
<text x="324" y="85.49" font-size="8.1" fill="#111">mregDC</text>
<circle cx="318.4" cy="92.76" r="2.5" fill="#7e3f98"/>
<text x="324" y="95.56" font-size="8.1" fill="#111">pDC</text>
<circle cx="318.4" cy="102.83" r="2.5" fill="#8b5f33"/>
<text x="324" y="105.63" font-size="8.1" fill="#111">Dividing</text>
<text x="-1" y="139.7" font-size="11" font-weight="bold" fill="#000">b</text>
<text x="23" y="144" font-size="8.17">HALLMARK_OXIDATIVE_PHOSPHORYLATION</text>
<text x="216.4" y="143.9" font-size="8.16">HALLMARK_MYC_TARGETS_V1</text>
<line x1="13.1" y1="150" x2="13.1" y2="251.5" stroke="#222" stroke-width="0.9"/>
<path d="M11.3 152.2 L14.9 152.2 L13.1 147.6 Z" fill="#222" stroke="none" stroke-width="1"/>
<text x="15.9" y="301.2" font-size="8.2" text-anchor="middle" fill="#111" transform="rotate(-90 15.9 301.2)">Running enrichment score</text>
<text x="19.3" y="353" font-size="8.1" fill="#111">Gene ranks</text>
<line x1="64" y1="350.9" x2="341" y2="350.9" stroke="#222" stroke-width="0.9"/>
<path d="M340.5 349.1 L340.5 352.7 L345.2 350.9 Z" fill="#222" stroke="none" stroke-width="1"/>
<rect x="20.5" y="146.7" width="12" height="56.7" fill="#fff" stroke="#333" stroke-width="0.9"/>
<text x="29.3" y="175.05" font-size="8.1" text-anchor="middle" fill="#111" transform="rotate(-90 29.3 175.05)">CD8 T cell</text>
<rect x="20.5" y="215.2" width="12" height="55.6" fill="#fff" stroke="#333" stroke-width="0.9"/>
<text x="29.3" y="243" font-size="8.1" text-anchor="middle" fill="#111" transform="rotate(-90 29.3 243)">Mono</text>
<rect x="20.5" y="283" width="12" height="52.6" fill="#fff" stroke="#333" stroke-width="0.9"/>
<text x="29.3" y="309.3" font-size="8.1" text-anchor="middle" fill="#111" transform="rotate(-90 29.3 309.3)">TAM</text>
<line x1="52.7" y1="147" x2="52.7" y2="201.1" stroke="#333" stroke-width="0.9"/>
<line x1="52.7" y1="201.1" x2="176" y2="201.1" stroke="#333" stroke-width="0.9"/>
<line x1="50.7" y1="153.9" x2="52.7" y2="153.9" stroke="#333" stroke-width="0.8"/>
<text x="49.9" y="156.24" font-size="6.5" text-anchor="end" fill="#333">0.2</text>
<line x1="50.7" y1="169.5" x2="52.7" y2="169.5" stroke="#333" stroke-width="0.8"/>
<text x="49.9" y="171.84" font-size="6.5" text-anchor="end" fill="#333">0.0</text>
<line x1="50.7" y1="185.2" x2="52.7" y2="185.2" stroke="#333" stroke-width="0.8"/>
<text x="49.9" y="187.54" font-size="6.5" text-anchor="end" fill="#333">−0.2</text>
<line x1="50.7" y1="200.9" x2="52.7" y2="200.9" stroke="#333" stroke-width="0.8"/>
<text x="49.9" y="203.24" font-size="6.5" text-anchor="end" fill="#333">−0.4</text>
<line x1="58" y1="201.1" x2="58" y2="203.1" stroke="#333" stroke-width="0.8"/>
<text x="58" y="210.5" font-size="6.5" text-anchor="middle" fill="#333">0</text>
<line x1="87.6" y1="201.1" x2="87.6" y2="203.1" stroke="#333" stroke-width="0.8"/>
<text x="87.6" y="210.5" font-size="6.5" text-anchor="middle" fill="#333">3000</text>
<line x1="117.2" y1="201.1" x2="117.2" y2="203.1" stroke="#333" stroke-width="0.8"/>
<text x="117.2" y="210.5" font-size="6.5" text-anchor="middle" fill="#333">6000</text>
<line x1="146.8" y1="201.1" x2="146.8" y2="203.1" stroke="#333" stroke-width="0.8"/>
<text x="146.8" y="210.5" font-size="6.5" text-anchor="middle" fill="#333">9000</text>
<line x1="58.71" y1="191.5" x2="58.71" y2="199.1" stroke="#1a9090" stroke-width="0.9" stroke-opacity="0.82"/>
<line x1="59.16" y1="191.5" x2="59.16" y2="199.1" stroke="#1a9090" stroke-width="0.6" stroke-opacity="0.94"/>
<line x1="59.52" y1="191.5" x2="59.52" y2="199.1" stroke="#1a9090" stroke-width="0.6" stroke-opacity="0.80"/>
<line x1="59.93" y1="191.5" x2="59.93" y2="199.1" stroke="#1a9090" stroke-width="0.5" stroke-opacity="0.72"/>
<line x1="60.55" y1="191.5" x2="60.55" y2="199.1" stroke="#1a9090" stroke-width="0.5" stroke-opacity="0.96"/>
<line x1="61.02" y1="191.5" x2="61.02" y2="199.1" stroke="#1a9090" stroke-width="0.9" stroke-opacity="0.76"/>
<line x1="61.49" y1="191.5" x2="61.49" y2="199.1" stroke="#1a9090" stroke-width="0.6" stroke-opacity="0.85"/>
<line x1="61.93" y1="191.5" x2="61.93" y2="199.1" stroke="#1a9090" stroke-width="0.5" stroke-opacity="0.93"/>
<line x1="62.18" y1="191.5" x2="62.18" y2="199.1" stroke="#1a9090" stroke-width="0.6" stroke-opacity="0.68"/>
<line x1="62.83" y1="191.5" x2="62.83" y2="199.1" stroke="#1a9090" stroke-width="0.7" stroke-opacity="0.91"/>
<line x1="63.22" y1="191.5" x2="63.22" y2="199.1" stroke="#1a9090" stroke-width="0.6" stroke-opacity="0.94"/>
<line x1="63.75" y1="191.5" x2="63.75" y2="199.1" stroke="#1a9090" stroke-width="0.5" stroke-opacity="0.80"/>
<line x1="64.13" y1="191.5" x2="64.13" y2="199.1" stroke="#1a9090" stroke-width="0.5" stroke-opacity="0.71"/>
<line x1="64.67" y1="191.5" x2="64.67" y2="199.1" stroke="#1a9090" stroke-width="0.6" stroke-opacity="0.73"/>
<line x1="65.05" y1="191.5" x2="65.05" y2="199.1" stroke="#1a9090" stroke-width="0.5" stroke-opacity="0.61"/>
<line x1="65.47" y1="191.5" x2="65.47" y2="199.1" stroke="#1a9090" stroke-width="0.9" stroke-opacity="0.94"/>
<line x1="65.8" y1="191.5" x2="65.8" y2="199.1" stroke="#1a9090" stroke-width="0.5" stroke-opacity="0.61"/>
<line x1="66.3" y1="191.5" x2="66.3" y2="199.1" stroke="#1a9090" stroke-width="0.5" stroke-opacity="0.97"/>
<line x1="66.85" y1="191.5" x2="66.85" y2="199.1" stroke="#1a9090" stroke-width="0.9" stroke-opacity="0.99"/>
<line x1="67.28" y1="191.5" x2="67.28" y2="199.1" stroke="#1a9090" stroke-width="0.6" stroke-opacity="0.83"/>
<line x1="67.86" y1="191.5" x2="67.86" y2="199.1" stroke="#1a9090" stroke-width="0.5" stroke-opacity="0.71"/>
<line x1="68.14" y1="191.5" x2="68.14" y2="199.1" stroke="#1a9090" stroke-width="0.9" stroke-opacity="0.61"/>
<line x1="68.76" y1="191.5" x2="68.76" y2="199.1" stroke="#1a9090" stroke-width="0.6" stroke-opacity="0.65"/>
<line x1="69.19" y1="191.5" x2="69.19" y2="199.1" stroke="#1a9090" stroke-width="0.9" stroke-opacity="0.60"/>
<line x1="69.67" y1="191.5" x2="69.67" y2="199.1" stroke="#1a9090" stroke-width="0.6" stroke-opacity="0.67"/>
<line x1="70" y1="191.5" x2="70" y2="199.1" stroke="#1a9090" stroke-width="0.6" stroke-opacity="0.68"/>
<line x1="70.44" y1="191.5" x2="70.44" y2="199.1" stroke="#1a9090" stroke-width="0.9" stroke-opacity="0.75"/>
<line x1="70.89" y1="191.5" x2="70.89" y2="199.1" stroke="#1a9090" stroke-width="0.7" stroke-opacity="0.69"/>
<line x1="71.51" y1="191.5" x2="71.51" y2="199.1" stroke="#1a9090" stroke-width="0.7" stroke-opacity="0.99"/>
<line x1="72.2" y1="191.5" x2="72.2" y2="199.1" stroke="#1a9090" stroke-width="0.6" stroke-opacity="0.31"/>
<line x1="72.54" y1="191.5" x2="72.54" y2="199.1" stroke="#1a9090" stroke-width="0.5" stroke-opacity="0.81"/>
<line x1="73.02" y1="191.5" x2="73.02" y2="199.1" stroke="#1a9090" stroke-width="0.9" stroke-opacity="0.39"/>
<line x1="73.79" y1="191.5" x2="73.79" y2="199.1" stroke="#1a9090" stroke-width="0.7" stroke-opacity="0.76"/>
<line x1="74.76" y1="191.5" x2="74.76" y2="199.1" stroke="#1a9090" stroke-width="0.5" stroke-opacity="0.53"/>
<line x1="75.03" y1="191.5" x2="75.03" y2="199.1" stroke="#1a9090" stroke-width="0.6" stroke-opacity="0.65"/>
<line x1="75.66" y1="191.5" x2="75.66" y2="199.1" stroke="#1a9090" stroke-width="0.9" stroke-opacity="0.52"/>
<line x1="76.38" y1="191.5" x2="76.38" y2="199.1" stroke="#1a9090" stroke-width="0.6" stroke-opacity="0.65"/>
<line x1="77.43" y1="191.5" x2="77.43" y2="199.1" stroke="#1a9090" stroke-width="0.6" stroke-opacity="0.41"/>
<line x1="77.8" y1="191.5" x2="77.8" y2="199.1" stroke="#1a9090" stroke-width="0.6" stroke-opacity="0.44"/>
<line x1="78.69" y1="191.5" x2="78.69" y2="199.1" stroke="#1a9090" stroke-width="0.6" stroke-opacity="0.40"/>
<line x1="79.33" y1="191.5" x2="79.33" y2="199.1" stroke="#1a9090" stroke-width="0.9" stroke-opacity="0.53"/>
<line x1="79.95" y1="191.5" x2="79.95" y2="199.1" stroke="#1a9090" stroke-width="0.5" stroke-opacity="0.55"/>
<line x1="80.35" y1="191.5" x2="80.35" y2="199.1" stroke="#1a9090" stroke-width="0.7" stroke-opacity="0.61"/>
<line x1="81.08" y1="191.5" x2="81.08" y2="199.1" stroke="#1a9090" stroke-width="0.7" stroke-opacity="0.72"/>
<line x1="81.84" y1="191.5" x2="81.84" y2="199.1" stroke="#1a9090" stroke-width="0.9" stroke-opacity="0.84"/>
<line x1="82.44" y1="191.5" x2="82.44" y2="199.1" stroke="#1a9090" stroke-width="0.5" stroke-opacity="0.41"/>
<line x1="83.01" y1="191.5" x2="83.01" y2="199.1" stroke="#1a9090" stroke-width="0.5" stroke-opacity="0.59"/>
<line x1="83.76" y1="191.5" x2="83.76" y2="199.1" stroke="#1a9090" stroke-width="0.6" stroke-opacity="0.85"/>
<line x1="84.67" y1="191.5" x2="84.67" y2="199.1" stroke="#1a9090" stroke-width="0.9" stroke-opacity="0.34"/>
<line x1="85.17" y1="191.5" x2="85.17" y2="199.1" stroke="#1a9090" stroke-width="0.6" stroke-opacity="0.34"/>
<line x1="85.75" y1="191.5" x2="85.75" y2="199.1" stroke="#1a9090" stroke-width="0.6" stroke-opacity="0.62"/>
<line x1="86.31" y1="191.5" x2="86.31" y2="199.1" stroke="#1a9090" stroke-width="0.9" stroke-opacity="0.38"/>
<line x1="87.45" y1="191.5" x2="87.45" y2="199.1" stroke="#1a9090" stroke-width="0.6" stroke-opacity="0.69"/>
<line x1="87.9" y1="191.5" x2="87.9" y2="199.1" stroke="#1a9090" stroke-width="0.9" stroke-opacity="0.85"/>
<line x1="88.73" y1="191.5" x2="88.73" y2="199.1" stroke="#1a9090" stroke-width="0.5" stroke-opacity="0.72"/>
<line x1="88.93" y1="191.5" x2="88.93" y2="199.1" stroke="#1a9090" stroke-width="0.9" stroke-opacity="0.68"/>
<line x1="89.61" y1="191.5" x2="89.61" y2="199.1" stroke="#1a9090" stroke-width="0.6" stroke-opacity="0.49"/>
<line x1="90.77" y1="191.5" x2="90.77" y2="199.1" stroke="#1a9090" stroke-width="0.7" stroke-opacity="0.35"/>
<line x1="91.3" y1="191.5" x2="91.3" y2="199.1" stroke="#1a9090" stroke-width="0.6" stroke-opacity="0.84"/>
<line x1="91.99" y1="191.5" x2="91.99" y2="199.1" stroke="#1a9090" stroke-width="0.7" stroke-opacity="0.85"/>
<line x1="92.28" y1="191.5" x2="92.28" y2="199.1" stroke="#1a9090" stroke-width="0.5" stroke-opacity="0.58"/>
<line x1="93.36" y1="191.5" x2="93.36" y2="199.1" stroke="#1a9090" stroke-width="0.5" stroke-opacity="0.55"/>
<line x1="94.02" y1="191.5" x2="94.02" y2="199.1" stroke="#1a9090" stroke-width="0.9" stroke-opacity="0.64"/>
<line x1="94.42" y1="191.5" x2="94.42" y2="199.1" stroke="#1a9090" stroke-width="0.5" stroke-opacity="0.31"/>
<line x1="94.93" y1="191.5" x2="94.93" y2="199.1" stroke="#1a9090" stroke-width="0.7" stroke-opacity="0.68"/>
<line x1="96.02" y1="191.5" x2="96.02" y2="199.1" stroke="#1a9090" stroke-width="0.9" stroke-opacity="0.74"/>
<line x1="96.71" y1="191.5" x2="96.71" y2="199.1" stroke="#1a9090" stroke-width="0.9" stroke-opacity="0.72"/>
<line x1="97.11" y1="191.5" x2="97.11" y2="199.1" stroke="#1a9090" stroke-width="0.5" stroke-opacity="0.80"/>
<line x1="97.81" y1="191.5" x2="97.81" y2="199.1" stroke="#1a9090" stroke-width="0.7" stroke-opacity="0.61"/>
<line x1="98.52" y1="191.5" x2="98.52" y2="199.1" stroke="#1a9090" stroke-width="0.6" stroke-opacity="0.59"/>
<line x1="107.71" y1="191.5" x2="107.71" y2="199.1" stroke="#1a9090" stroke-width="0.9" stroke-opacity="0.46"/>
<line x1="108.67" y1="191.5" x2="108.67" y2="199.1" stroke="#1a9090" stroke-width="0.7" stroke-opacity="0.41"/>
<line x1="110.67" y1="191.5" x2="110.67" y2="199.1" stroke="#1a9090" stroke-width="0.6" stroke-opacity="0.71"/>
<line x1="113.95" y1="191.5" x2="113.95" y2="199.1" stroke="#1a9090" stroke-width="0.9" stroke-opacity="0.57"/>
<line x1="115.05" y1="191.5" x2="115.05" y2="199.1" stroke="#1a9090" stroke-width="0.9" stroke-opacity="0.48"/>
<line x1="116.08" y1="191.5" x2="116.08" y2="199.1" stroke="#1a9090" stroke-width="0.9" stroke-opacity="0.46"/>
<line x1="117.09" y1="191.5" x2="117.09" y2="199.1" stroke="#1a9090" stroke-width="0.6" stroke-opacity="0.77"/>
<line x1="118.05" y1="191.5" x2="118.05" y2="199.1" stroke="#1a9090" stroke-width="0.7" stroke-opacity="0.56"/>
<line x1="118.48" y1="191.5" x2="118.48" y2="199.1" stroke="#1a9090" stroke-width="0.7" stroke-opacity="0.42"/>
<line x1="119.84" y1="191.5" x2="119.84" y2="199.1" stroke="#1a9090" stroke-width="0.5" stroke-opacity="0.82"/>
<line x1="120.83" y1="191.5" x2="120.83" y2="199.1" stroke="#1a9090" stroke-width="0.6" stroke-opacity="0.50"/>
<line x1="121.13" y1="191.5" x2="121.13" y2="199.1" stroke="#1a9090" stroke-width="0.6" stroke-opacity="0.61"/>
<line x1="122.56" y1="191.5" x2="122.56" y2="199.1" stroke="#1a9090" stroke-width="0.9" stroke-opacity="0.56"/>
<line x1="123.35" y1="191.5" x2="123.35" y2="199.1" stroke="#1a9090" stroke-width="0.9" stroke-opacity="0.74"/>
<line x1="124" y1="191.5" x2="124" y2="199.1" stroke="#1a9090" stroke-width="0.7" stroke-opacity="0.81"/>
<line x1="125.31" y1="191.5" x2="125.31" y2="199.1" stroke="#1a9090" stroke-width="0.7" stroke-opacity="0.37"/>
<line x1="126" y1="191.5" x2="126" y2="199.1" stroke="#1a9090" stroke-width="0.5" stroke-opacity="0.52"/>
<line x1="126.96" y1="191.5" x2="126.96" y2="199.1" stroke="#1a9090" stroke-width="0.6" stroke-opacity="0.57"/>
<line x1="127.42" y1="191.5" x2="127.42" y2="199.1" stroke="#1a9090" stroke-width="0.6" stroke-opacity="0.81"/>
<line x1="128.88" y1="191.5" x2="128.88" y2="199.1" stroke="#1a9090" stroke-width="0.5" stroke-opacity="0.79"/>
<line x1="129.54" y1="191.5" x2="129.54" y2="199.1" stroke="#1a9090" stroke-width="0.7" stroke-opacity="0.70"/>
<line x1="130.82" y1="191.5" x2="130.82" y2="199.1" stroke="#1a9090" stroke-width="0.6" stroke-opacity="0.73"/>
<line x1="131.63" y1="191.5" x2="131.63" y2="199.1" stroke="#1a9090" stroke-width="0.5" stroke-opacity="0.49"/>
<line x1="132.49" y1="191.5" x2="132.49" y2="199.1" stroke="#1a9090" stroke-width="0.5" stroke-opacity="0.64"/>
<line x1="132.98" y1="191.5" x2="132.98" y2="199.1" stroke="#1a9090" stroke-width="0.7" stroke-opacity="0.50"/>
<line x1="134.15" y1="191.5" x2="134.15" y2="199.1" stroke="#1a9090" stroke-width="0.6" stroke-opacity="0.87"/>
<line x1="134.95" y1="191.5" x2="134.95" y2="199.1" stroke="#1a9090" stroke-width="0.6" stroke-opacity="0.79"/>
<line x1="135.64" y1="191.5" x2="135.64" y2="199.1" stroke="#1a9090" stroke-width="0.9" stroke-opacity="0.86"/>
<line x1="136.58" y1="191.5" x2="136.58" y2="199.1" stroke="#1a9090" stroke-width="0.5" stroke-opacity="0.60"/>
<line x1="137.55" y1="191.5" x2="137.55" y2="199.1" stroke="#1a9090" stroke-width="0.7" stroke-opacity="0.76"/>
<line x1="138.23" y1="191.5" x2="138.23" y2="199.1" stroke="#1a9090" stroke-width="0.6" stroke-opacity="0.81"/>
<line x1="138.67" y1="191.5" x2="138.67" y2="199.1" stroke="#1a9090" stroke-width="0.5" stroke-opacity="0.93"/>
<line x1="139.36" y1="191.5" x2="139.36" y2="199.1" stroke="#1a9090" stroke-width="0.5" stroke-opacity="0.94"/>
<line x1="140.38" y1="191.5" x2="140.38" y2="199.1" stroke="#1a9090" stroke-width="0.7" stroke-opacity="0.75"/>
<line x1="140.65" y1="191.5" x2="140.65" y2="199.1" stroke="#1a9090" stroke-width="0.5" stroke-opacity="0.85"/>
<line x1="141.32" y1="191.5" x2="141.32" y2="199.1" stroke="#1a9090" stroke-width="0.9" stroke-opacity="0.50"/>
<line x1="141.95" y1="191.5" x2="141.95" y2="199.1" stroke="#1a9090" stroke-width="0.7" stroke-opacity="0.68"/>
<line x1="142.65" y1="191.5" x2="142.65" y2="199.1" stroke="#1a9090" stroke-width="0.5" stroke-opacity="0.47"/>
<line x1="143.25" y1="191.5" x2="143.25" y2="199.1" stroke="#1a9090" stroke-width="0.7" stroke-opacity="0.47"/>
<line x1="144.01" y1="191.5" x2="144.01" y2="199.1" stroke="#1a9090" stroke-width="0.9" stroke-opacity="0.95"/>
<line x1="144.37" y1="191.5" x2="144.37" y2="199.1" stroke="#1a9090" stroke-width="0.9" stroke-opacity="0.73"/>
<line x1="145.41" y1="191.5" x2="145.41" y2="199.1" stroke="#1a9090" stroke-width="0.5" stroke-opacity="0.72"/>
<line x1="145.94" y1="191.5" x2="145.94" y2="199.1" stroke="#1a9090" stroke-width="0.7" stroke-opacity="0.69"/>
<line x1="146.61" y1="191.5" x2="146.61" y2="199.1" stroke="#1a9090" stroke-width="0.6" stroke-opacity="0.76"/>
<line x1="147.09" y1="191.5" x2="147.09" y2="199.1" stroke="#1a9090" stroke-width="0.7" stroke-opacity="0.91"/>
<line x1="147.61" y1="191.5" x2="147.61" y2="199.1" stroke="#1a9090" stroke-width="0.6" stroke-opacity="0.66"/>
<line x1="148.24" y1="191.5" x2="148.24" y2="199.1" stroke="#1a9090" stroke-width="0.7" stroke-opacity="0.53"/>
<line x1="149" y1="191.5" x2="149" y2="199.1" stroke="#1a9090" stroke-width="0.5" stroke-opacity="0.56"/>
<line x1="149.6" y1="191.5" x2="149.6" y2="199.1" stroke="#1a9090" stroke-width="0.5" stroke-opacity="0.78"/>
<line x1="150.25" y1="191.5" x2="150.25" y2="199.1" stroke="#1a9090" stroke-width="0.9" stroke-opacity="0.47"/>
<line x1="150.88" y1="191.5" x2="150.88" y2="199.1" stroke="#1a9090" stroke-width="0.5" stroke-opacity="0.99"/>
<line x1="151.48" y1="191.5" x2="151.48" y2="199.1" stroke="#1a9090" stroke-width="0.5" stroke-opacity="0.83"/>
<line x1="152.34" y1="191.5" x2="152.34" y2="199.1" stroke="#1a9090" stroke-width="0.9" stroke-opacity="0.70"/>
<line x1="152.63" y1="191.5" x2="152.63" y2="199.1" stroke="#1a9090" stroke-width="0.6" stroke-opacity="0.71"/>
<line x1="153.3" y1="191.5" x2="153.3" y2="199.1" stroke="#1a9090" stroke-width="0.9" stroke-opacity="0.95"/>
<line x1="154.02" y1="191.5" x2="154.02" y2="199.1" stroke="#1a9090" stroke-width="0.9" stroke-opacity="0.51"/>
<line x1="154.7" y1="191.5" x2="154.7" y2="199.1" stroke="#1a9090" stroke-width="0.6" stroke-opacity="0.96"/>
<line x1="155.37" y1="191.5" x2="155.37" y2="199.1" stroke="#1a9090" stroke-width="0.5" stroke-opacity="0.99"/>
<line x1="155.75" y1="191.5" x2="155.75" y2="199.1" stroke="#1a9090" stroke-width="0.7" stroke-opacity="0.57"/>
<line x1="156.44" y1="191.5" x2="156.44" y2="199.1" stroke="#1a9090" stroke-width="0.9" stroke-opacity="0.65"/>
<line x1="156.96" y1="191.5" x2="156.96" y2="199.1" stroke="#1a9090" stroke-width="0.5" stroke-opacity="0.85"/>
<line x1="157.97" y1="191.5" x2="157.97" y2="199.1" stroke="#1a9090" stroke-width="0.6" stroke-opacity="0.79"/>
<line x1="158.53" y1="191.5" x2="158.53" y2="199.1" stroke="#1a9090" stroke-width="0.5" stroke-opacity="0.93"/>
<line x1="158.99" y1="191.5" x2="158.99" y2="199.1" stroke="#1a9090" stroke-width="0.6" stroke-opacity="0.68"/>
<line x1="159.7" y1="191.5" x2="159.7" y2="199.1" stroke="#1a9090" stroke-width="0.6" stroke-opacity="0.93"/>
<line x1="160.5" y1="191.5" x2="160.5" y2="199.1" stroke="#1a9090" stroke-width="0.6" stroke-opacity="0.73"/>
<line x1="161.24" y1="191.5" x2="161.24" y2="199.1" stroke="#1a9090" stroke-width="0.7" stroke-opacity="0.67"/>
<line x1="162.72" y1="191.5" x2="162.72" y2="199.1" stroke="#1a9090" stroke-width="0.7" stroke-opacity="0.46"/>
<line x1="163.67" y1="191.5" x2="163.67" y2="199.1" stroke="#1a9090" stroke-width="0.6" stroke-opacity="0.40"/>
<line x1="164.64" y1="191.5" x2="164.64" y2="199.1" stroke="#1a9090" stroke-width="0.6" stroke-opacity="0.37"/>
<line x1="165.02" y1="191.5" x2="165.02" y2="199.1" stroke="#1a9090" stroke-width="0.9" stroke-opacity="0.34"/>
<line x1="165.95" y1="191.5" x2="165.95" y2="199.1" stroke="#1a9090" stroke-width="0.9" stroke-opacity="0.72"/>
<line x1="167.26" y1="191.5" x2="167.26" y2="199.1" stroke="#1a9090" stroke-width="0.6" stroke-opacity="0.65"/>
<line x1="168.12" y1="191.5" x2="168.12" y2="199.1" stroke="#1a9090" stroke-width="0.5" stroke-opacity="0.64"/>
<line x1="168.84" y1="191.5" x2="168.84" y2="199.1" stroke="#1a9090" stroke-width="0.7" stroke-opacity="0.58"/>
<line x1="170.44" y1="191.5" x2="170.44" y2="199.1" stroke="#1a9090" stroke-width="0.5" stroke-opacity="0.78"/>
<line x1="52.7" y1="169.4" x2="176" y2="169.4" stroke="#222" stroke-width="1.1"/>
<line x1="52.7" y1="149.7" x2="176" y2="149.7" stroke="#444" stroke-width="1.0" stroke-dasharray="5.4 6.2"/>
<line x1="52.7" y1="183.3" x2="176" y2="183.3" stroke="#444" stroke-width="1.0" stroke-dasharray="5.4 6.2"/>
<path d="M58.5 170.3 L58.69 168.9 L58.97 167.44 L59.4 166 L60.09 165.49 L60.92 165.44 L61.6 165 L61.95 164.23 L62.14 163.34 L62.4 162.42 L62.81 161.98 L63.29 161.44 L63.8 160.77 L64.31 159.7 L64.86 158.45 L65.5 157.36 L66.31 156.25 L67.23 154.92 L68.1 153.89 L68.73 152.43 L69.32 151.26 L70.3 150.22 L72.02 150.12 L74.13 150.3 L76 150.81 L77.3 151.28 L78.35 151.73 L79.5 152.28 L80.84 152.7 L82.27 152.85 L83.9 153.22 L85.77 154.02 L87.84 154.75 L90 155.36 L92.33 156.43 L94.76 157.82 L97 159.13 L98.9 160.26 L100.6 161.35 L102.3 162.57 L104.04 163.83 L105.76 165.22 L107.5 166.61 L109.34 167.49 L111.19 168.67 L112.8 169.57 L113.91 170.07 L114.78 170.81 L116 171.4 L117.86 172.82 L120.06 174.15 L122.3 175.39 L124.54 176.59 L126.83 177.8 L129 178.66 L131.04 179.61 L132.98 180.71 L134.7 181.62 L136.07 182.2 L137.24 183.09 L138.5 183.37 L140.07 183.36 L141.73 182.88 L143.2 182.64 L144.27 182.2 L145.14 182.03 L146.1 181.94 L147.3 182 L148.6 182.76 L149.8 183.08 L150.86 183.09 L151.84 183.27 L152.7 182.73 L153.3 181.39 L153.8 179.63 L154.6 178.16 L155.99 177.2 L157.7 176.04 L159.3 175.43 L160.63 174.93 L161.87 174.34 L163.1 173.97 L164.42 173.24 L165.74 172.55 L166.9 171.99 L167.87 172.27 L168.69 172.5 L169.3 172.41 L169.63 171.45 L169.74 170.12 L169.8 169.09" fill="none" stroke="#35a3a3" stroke-width="1.45" stroke-linejoin="round" stroke-linecap="round"/>
<text x="171.8" y="156.8" font-size="8.1" text-anchor="end" fill="#111">NES 1.1153</text>
<text x="171.8" y="164.1" font-size="8.1" text-anchor="end" fill="#111"><tspan font-style="italic">P</tspan><tspan font-size="4.6" dy="2">adj</tspan><tspan dy="-2"> 0.4347</tspan></text>
<line x1="53" y1="216" x2="53" y2="269.6" stroke="#333" stroke-width="0.9"/>
<line x1="53" y1="269.6" x2="175.6" y2="269.6" stroke="#333" stroke-width="0.9"/>
<line x1="51" y1="218.6" x2="53" y2="218.6" stroke="#333" stroke-width="0.8"/>
<text x="50.2" y="220.94" font-size="6.5" text-anchor="end" fill="#333">0.6</text>
<line x1="51" y1="230.6" x2="53" y2="230.6" stroke="#333" stroke-width="0.8"/>
<text x="50.2" y="232.94" font-size="6.5" text-anchor="end" fill="#333">0.4</text>
<line x1="51" y1="242.7" x2="53" y2="242.7" stroke="#333" stroke-width="0.8"/>
<text x="50.2" y="245.04" font-size="6.5" text-anchor="end" fill="#333">0.2</text>
<line x1="51" y1="254.7" x2="53" y2="254.7" stroke="#333" stroke-width="0.8"/>
<text x="50.2" y="257.04" font-size="6.5" text-anchor="end" fill="#333">0.0</text>
<line x1="51" y1="266.3" x2="53" y2="266.3" stroke="#333" stroke-width="0.8"/>
<text x="50.2" y="268.64" font-size="6.5" text-anchor="end" fill="#333">−0.2</text>
<line x1="59.6" y1="269.6" x2="59.6" y2="271.6" stroke="#333" stroke-width="0.8"/>
<text x="59.6" y="278.4" font-size="6.5" text-anchor="middle" fill="#333">0</text>
<line x1="87.1" y1="269.6" x2="87.1" y2="271.6" stroke="#333" stroke-width="0.8"/>
<text x="87.1" y="278.4" font-size="6.5" text-anchor="middle" fill="#333">2000</text>
<line x1="114.6" y1="269.6" x2="114.6" y2="271.6" stroke="#333" stroke-width="0.8"/>
<text x="114.6" y="278.4" font-size="6.5" text-anchor="middle" fill="#333">4000</text>
<line x1="142.1" y1="269.6" x2="142.1" y2="271.6" stroke="#333" stroke-width="0.8"/>
<text x="142.1" y="278.4" font-size="6.5" text-anchor="middle" fill="#333">6000</text>
<line x1="169.6" y1="269.6" x2="169.6" y2="271.6" stroke="#333" stroke-width="0.8"/>
<text x="169.6" y="278.4" font-size="6.5" text-anchor="middle" fill="#333">8000</text>
<line x1="61.2" y1="261.5" x2="61.2" y2="267.8" stroke="#f7b500" stroke-width="0.7" stroke-opacity="0.86"/>
<line x1="61.51" y1="261.5" x2="61.51" y2="267.8" stroke="#f7b500" stroke-width="0.7" stroke-opacity="0.60"/>
<line x1="62.04" y1="261.5" x2="62.04" y2="267.8" stroke="#f7b500" stroke-width="0.9" stroke-opacity="0.86"/>
<line x1="62.53" y1="261.5" x2="62.53" y2="267.8" stroke="#f7b500" stroke-width="0.5" stroke-opacity="0.84"/>
<line x1="62.93" y1="261.5" x2="62.93" y2="267.8" stroke="#f7b500" stroke-width="0.9" stroke-opacity="0.66"/>
<line x1="63.25" y1="261.5" x2="63.25" y2="267.8" stroke="#f7b500" stroke-width="0.6" stroke-opacity="0.74"/>
<line x1="63.57" y1="261.5" x2="63.57" y2="267.8" stroke="#f7b500" stroke-width="0.5" stroke-opacity="0.93"/>
<line x1="64.14" y1="261.5" x2="64.14" y2="267.8" stroke="#f7b500" stroke-width="0.9" stroke-opacity="0.93"/>
<line x1="64.65" y1="261.5" x2="64.65" y2="267.8" stroke="#f7b500" stroke-width="0.5" stroke-opacity="0.63"/>
<line x1="65.07" y1="261.5" x2="65.07" y2="267.8" stroke="#f7b500" stroke-width="0.6" stroke-opacity="0.86"/>
<line x1="65.25" y1="261.5" x2="65.25" y2="267.8" stroke="#f7b500" stroke-width="0.9" stroke-opacity="0.99"/>
<line x1="65.67" y1="261.5" x2="65.67" y2="267.8" stroke="#f7b500" stroke-width="0.6" stroke-opacity="0.77"/>
<line x1="66.23" y1="261.5" x2="66.23" y2="267.8" stroke="#f7b500" stroke-width="0.6" stroke-opacity="0.95"/>
<line x1="66.8" y1="261.5" x2="66.8" y2="267.8" stroke="#f7b500" stroke-width="0.6" stroke-opacity="0.95"/>
<line x1="67.06" y1="261.5" x2="67.06" y2="267.8" stroke="#f7b500" stroke-width="0.9" stroke-opacity="0.63"/>
<line x1="67.53" y1="261.5" x2="67.53" y2="267.8" stroke="#f7b500" stroke-width="0.9" stroke-opacity="0.79"/>
<line x1="67.9" y1="261.5" x2="67.9" y2="267.8" stroke="#f7b500" stroke-width="0.5" stroke-opacity="0.86"/>
<line x1="68.46" y1="261.5" x2="68.46" y2="267.8" stroke="#f7b500" stroke-width="0.7" stroke-opacity="0.99"/>
<line x1="68.68" y1="261.5" x2="68.68" y2="267.8" stroke="#f7b500" stroke-width="0.9" stroke-opacity="0.75"/>
<line x1="69.2" y1="261.5" x2="69.2" y2="267.8" stroke="#f7b500" stroke-width="0.6" stroke-opacity="0.65"/>
<line x1="69.5" y1="261.5" x2="69.5" y2="267.8" stroke="#f7b500" stroke-width="0.6" stroke-opacity="0.75"/>
<line x1="69.82" y1="261.5" x2="69.82" y2="267.8" stroke="#f7b500" stroke-width="0.9" stroke-opacity="0.93"/>
<line x1="70.24" y1="261.5" x2="70.24" y2="267.8" stroke="#f7b500" stroke-width="0.9" stroke-opacity="0.61"/>
<line x1="70.66" y1="261.5" x2="70.66" y2="267.8" stroke="#f7b500" stroke-width="0.5" stroke-opacity="0.68"/>
<line x1="71.31" y1="261.5" x2="71.31" y2="267.8" stroke="#f7b500" stroke-width="0.5" stroke-opacity="0.69"/>
<line x1="71.71" y1="261.5" x2="71.71" y2="267.8" stroke="#f7b500" stroke-width="0.7" stroke-opacity="0.61"/>
<line x1="72.06" y1="261.5" x2="72.06" y2="267.8" stroke="#f7b500" stroke-width="0.5" stroke-opacity="0.84"/>
<line x1="72.49" y1="261.5" x2="72.49" y2="267.8" stroke="#f7b500" stroke-width="0.7" stroke-opacity="0.75"/>
<line x1="72.83" y1="261.5" x2="72.83" y2="267.8" stroke="#f7b500" stroke-width="0.9" stroke-opacity="0.79"/>
<line x1="73.23" y1="261.5" x2="73.23" y2="267.8" stroke="#f7b500" stroke-width="0.9" stroke-opacity="1.00"/>
<line x1="73.88" y1="261.5" x2="73.88" y2="267.8" stroke="#f7b500" stroke-width="0.6" stroke-opacity="0.75"/>
<line x1="74.24" y1="261.5" x2="74.24" y2="267.8" stroke="#f7b500" stroke-width="0.5" stroke-opacity="0.69"/>
<line x1="74.72" y1="261.5" x2="74.72" y2="267.8" stroke="#f7b500" stroke-width="0.7" stroke-opacity="0.97"/>
<line x1="74.88" y1="261.5" x2="74.88" y2="267.8" stroke="#f7b500" stroke-width="0.5" stroke-opacity="0.92"/>
<line x1="75.32" y1="261.5" x2="75.32" y2="267.8" stroke="#f7b500" stroke-width="0.7" stroke-opacity="0.65"/>
<line x1="75.99" y1="261.5" x2="75.99" y2="267.8" stroke="#f7b500" stroke-width="0.5" stroke-opacity="0.80"/>
<line x1="76.38" y1="261.5" x2="76.38" y2="267.8" stroke="#f7b500" stroke-width="0.7" stroke-opacity="0.95"/>
<line x1="76.7" y1="261.5" x2="76.7" y2="267.8" stroke="#f7b500" stroke-width="0.9" stroke-opacity="0.69"/>
<line x1="77.07" y1="261.5" x2="77.07" y2="267.8" stroke="#f7b500" stroke-width="0.9" stroke-opacity="0.74"/>
<line x1="77.62" y1="261.5" x2="77.62" y2="267.8" stroke="#f7b500" stroke-width="0.7" stroke-opacity="0.66"/>
<line x1="77.95" y1="261.5" x2="77.95" y2="267.8" stroke="#f7b500" stroke-width="0.7" stroke-opacity="0.62"/>
<line x1="78.48" y1="261.5" x2="78.48" y2="267.8" stroke="#f7b500" stroke-width="0.9" stroke-opacity="0.81"/>
<line x1="78.81" y1="261.5" x2="78.81" y2="267.8" stroke="#f7b500" stroke-width="0.7" stroke-opacity="0.69"/>
<line x1="79.17" y1="261.5" x2="79.17" y2="267.8" stroke="#f7b500" stroke-width="0.5" stroke-opacity="0.61"/>
<line x1="79.65" y1="261.5" x2="79.65" y2="267.8" stroke="#f7b500" stroke-width="0.7" stroke-opacity="0.65"/>
<line x1="79.97" y1="261.5" x2="79.97" y2="267.8" stroke="#f7b500" stroke-width="0.9" stroke-opacity="0.70"/>
<line x1="80.41" y1="261.5" x2="80.41" y2="267.8" stroke="#f7b500" stroke-width="0.7" stroke-opacity="0.62"/>
<line x1="80.92" y1="261.5" x2="80.92" y2="267.8" stroke="#f7b500" stroke-width="0.5" stroke-opacity="0.77"/>
<line x1="81.38" y1="261.5" x2="81.38" y2="267.8" stroke="#f7b500" stroke-width="0.7" stroke-opacity="0.92"/>
<line x1="81.83" y1="261.5" x2="81.83" y2="267.8" stroke="#f7b500" stroke-width="0.9" stroke-opacity="0.86"/>
<line x1="82.11" y1="261.5" x2="82.11" y2="267.8" stroke="#f7b500" stroke-width="0.6" stroke-opacity="0.61"/>
<line x1="82.64" y1="261.5" x2="82.64" y2="267.8" stroke="#f7b500" stroke-width="0.5" stroke-opacity="0.92"/>
<line x1="83.06" y1="261.5" x2="83.06" y2="267.8" stroke="#f7b500" stroke-width="0.9" stroke-opacity="0.81"/>
<line x1="83.44" y1="261.5" x2="83.44" y2="267.8" stroke="#f7b500" stroke-width="0.6" stroke-opacity="0.88"/>
<line x1="83.69" y1="261.5" x2="83.69" y2="267.8" stroke="#f7b500" stroke-width="0.9" stroke-opacity="0.97"/>
<line x1="84.21" y1="261.5" x2="84.21" y2="267.8" stroke="#f7b500" stroke-width="0.9" stroke-opacity="0.65"/>
<line x1="84.62" y1="261.5" x2="84.62" y2="267.8" stroke="#f7b500" stroke-width="0.7" stroke-opacity="0.63"/>
<line x1="87.01" y1="261.5" x2="87.01" y2="267.8" stroke="#f7b500" stroke-width="0.6" stroke-opacity="0.71"/>
<line x1="90.64" y1="261.5" x2="90.64" y2="267.8" stroke="#f7b500" stroke-width="0.7" stroke-opacity="0.73"/>
<line x1="93.47" y1="261.5" x2="93.47" y2="267.8" stroke="#f7b500" stroke-width="0.9" stroke-opacity="0.76"/>
<line x1="95.54" y1="261.5" x2="95.54" y2="267.8" stroke="#f7b500" stroke-width="0.9" stroke-opacity="0.32"/>
<line x1="98.93" y1="261.5" x2="98.93" y2="267.8" stroke="#f7b500" stroke-width="0.5" stroke-opacity="0.59"/>
<line x1="101.85" y1="261.5" x2="101.85" y2="267.8" stroke="#f7b500" stroke-width="0.6" stroke-opacity="0.50"/>
<line x1="105.15" y1="261.5" x2="105.15" y2="267.8" stroke="#f7b500" stroke-width="0.6" stroke-opacity="0.36"/>
<line x1="105.99" y1="261.5" x2="105.99" y2="267.8" stroke="#f7b500" stroke-width="0.7" stroke-opacity="0.52"/>
<line x1="110.69" y1="261.5" x2="110.69" y2="267.8" stroke="#f7b500" stroke-width="0.7" stroke-opacity="0.71"/>
<line x1="112.09" y1="261.5" x2="112.09" y2="267.8" stroke="#f7b500" stroke-width="0.7" stroke-opacity="0.85"/>
<line x1="114.77" y1="261.5" x2="114.77" y2="267.8" stroke="#f7b500" stroke-width="0.6" stroke-opacity="0.58"/>
<line x1="118.25" y1="261.5" x2="118.25" y2="267.8" stroke="#f7b500" stroke-width="0.5" stroke-opacity="0.77"/>
<line x1="121.9" y1="261.5" x2="121.9" y2="267.8" stroke="#f7b500" stroke-width="0.9" stroke-opacity="0.44"/>
<line x1="124.02" y1="261.5" x2="124.02" y2="267.8" stroke="#f7b500" stroke-width="0.5" stroke-opacity="0.56"/>
<line x1="127.84" y1="261.5" x2="127.84" y2="267.8" stroke="#f7b500" stroke-width="0.7" stroke-opacity="0.63"/>
<line x1="129.26" y1="261.5" x2="129.26" y2="267.8" stroke="#f7b500" stroke-width="0.7" stroke-opacity="0.74"/>
<line x1="131.95" y1="261.5" x2="131.95" y2="267.8" stroke="#f7b500" stroke-width="0.7" stroke-opacity="0.94"/>
<line x1="132.48" y1="261.5" x2="132.48" y2="267.8" stroke="#f7b500" stroke-width="0.6" stroke-opacity="0.69"/>
<line x1="133.59" y1="261.5" x2="133.59" y2="267.8" stroke="#f7b500" stroke-width="0.7" stroke-opacity="0.43"/>
<line x1="134.65" y1="261.5" x2="134.65" y2="267.8" stroke="#f7b500" stroke-width="0.7" stroke-opacity="0.96"/>
<line x1="135.77" y1="261.5" x2="135.77" y2="267.8" stroke="#f7b500" stroke-width="0.7" stroke-opacity="0.92"/>
<line x1="136.61" y1="261.5" x2="136.61" y2="267.8" stroke="#f7b500" stroke-width="0.5" stroke-opacity="0.56"/>
<line x1="138.22" y1="261.5" x2="138.22" y2="267.8" stroke="#f7b500" stroke-width="0.9" stroke-opacity="0.77"/>
<line x1="138.9" y1="261.5" x2="138.9" y2="267.8" stroke="#f7b500" stroke-width="0.7" stroke-opacity="0.77"/>
<line x1="139.88" y1="261.5" x2="139.88" y2="267.8" stroke="#f7b500" stroke-width="0.9" stroke-opacity="0.86"/>
<line x1="140.95" y1="261.5" x2="140.95" y2="267.8" stroke="#f7b500" stroke-width="0.6" stroke-opacity="0.64"/>
<line x1="141.81" y1="261.5" x2="141.81" y2="267.8" stroke="#f7b500" stroke-width="0.7" stroke-opacity="0.52"/>
<line x1="143.52" y1="261.5" x2="143.52" y2="267.8" stroke="#f7b500" stroke-width="0.5" stroke-opacity="0.43"/>
<line x1="147.95" y1="261.5" x2="147.95" y2="267.8" stroke="#f7b500" stroke-width="0.7" stroke-opacity="0.63"/>
<line x1="150.96" y1="261.5" x2="150.96" y2="267.8" stroke="#f7b500" stroke-width="0.6" stroke-opacity="0.76"/>
<line x1="153.45" y1="261.5" x2="153.45" y2="267.8" stroke="#f7b500" stroke-width="0.6" stroke-opacity="0.46"/>
<line x1="155.97" y1="261.5" x2="155.97" y2="267.8" stroke="#f7b500" stroke-width="0.7" stroke-opacity="0.73"/>
<line x1="157.17" y1="261.5" x2="157.17" y2="267.8" stroke="#f7b500" stroke-width="0.6" stroke-opacity="0.71"/>
<line x1="160.2" y1="261.5" x2="160.2" y2="267.8" stroke="#f7b500" stroke-width="0.7" stroke-opacity="0.66"/>
<line x1="164.64" y1="261.5" x2="164.64" y2="267.8" stroke="#f7b500" stroke-width="0.7" stroke-opacity="0.79"/>
<line x1="166.56" y1="261.5" x2="166.56" y2="267.8" stroke="#f7b500" stroke-width="0.5" stroke-opacity="0.31"/>
<line x1="168.92" y1="261.5" x2="168.92" y2="267.8" stroke="#f7b500" stroke-width="0.6" stroke-opacity="0.55"/>
<line x1="53" y1="254.7" x2="175.6" y2="254.7" stroke="#222" stroke-width="1.1"/>
<line x1="53" y1="254.7" x2="175.6" y2="254.7" stroke="#333" stroke-width="1.2" stroke-dasharray="5.4 6.2"/>
<line x1="53" y1="218.6" x2="175.6" y2="218.6" stroke="#444" stroke-width="1.0" stroke-dasharray="5.4 6.2"/>
<line x1="53" y1="254.7" x2="175.6" y2="254.7" stroke="#444" stroke-width="1.0" stroke-dasharray="5.4 6.2"/>
<path d="M60.1 254.69 L60.56 253.46 L61.23 251.55 L61.9 249.26 L62.53 246.5 L63.17 243.21 L63.8 239.8 L64.4 236.63 L65 233.52 L65.6 230.67 L66.21 228.47 L66.83 226.37 L67.5 224.59 L68.24 223.24 L69.02 222.21 L69.8 221.43 L70.5 220.64 L71.19 219.63 L72.1 219.09 L73.31 218.58 L74.73 218.35 L76.3 218.13 L78.07 218.18 L79.99 218.68 L81.9 219.04 L83.7 219.77 L85.5 220.64 L87.4 221.42 L89.46 222.49 L91.63 223.52 L93.9 224.47 L96.37 225.9 L98.93 227.52 L101.3 228.79 L103.32 229.71 L105.14 230.86 L106.9 231.64 L108.53 232.29 L110.11 232.96 L112 233.7 L114.35 234.98 L117.01 236.22 L119.9 237.85 L123.08 239.62 L126.5 241.2 L129.9 242.73 L133.39 243.88 L136.87 244.75 L139.8 245.2 L141.76 245.79 L143.17 246.26 L144.8 246.7 L146.99 247.57 L149.4 248.82 L151.7 249.74 L153.77 250.48 L155.74 251.12 L157.7 251.58 L159.67 252.23 L161.63 252.71 L163.6 253.2 L165.81 253.65 L168.04 254.18 L169.6 254.7" fill="none" stroke="#f9c443" stroke-width="1.45" stroke-linejoin="round" stroke-linecap="round"/>
<text x="171.9" y="226.9" font-size="8.1" text-anchor="end" fill="#111">NES 2.4736</text>
<text x="171.9" y="235.7" font-size="8.1" text-anchor="end" fill="#111"><tspan font-style="italic">P</tspan><tspan font-size="4.6" dy="2">adj</tspan><tspan dy="-2"> 1.43x10</tspan><tspan font-size="4.6" dy="-2.9">−16</tspan></text>
<line x1="53" y1="283" x2="53" y2="335.4" stroke="#333" stroke-width="0.9"/>
<line x1="53" y1="335.4" x2="173.4" y2="335.4" stroke="#333" stroke-width="0.9"/>
<line x1="51" y1="293.8" x2="53" y2="293.8" stroke="#333" stroke-width="0.8"/>
<text x="50.2" y="296.14" font-size="6.5" text-anchor="end" fill="#333">0.50</text>
<line x1="51" y1="308" x2="53" y2="308" stroke="#333" stroke-width="0.8"/>
<text x="50.2" y="310.34" font-size="6.5" text-anchor="end" fill="#333">0.25</text>
<line x1="51" y1="321.8" x2="53" y2="321.8" stroke="#333" stroke-width="0.8"/>
<text x="50.2" y="324.14" font-size="6.5" text-anchor="end" fill="#333">0.00</text>
<line x1="51" y1="335.4" x2="53" y2="335.4" stroke="#333" stroke-width="0.8"/>
<text x="50.2" y="337.74" font-size="6.5" text-anchor="end" fill="#333">−0.25</text>
<line x1="59.1" y1="335.4" x2="59.1" y2="337.4" stroke="#333" stroke-width="0.8"/>
<text x="59.1" y="344.8" font-size="6.5" text-anchor="middle" fill="#333">0</text>
<line x1="89.4" y1="335.4" x2="89.4" y2="337.4" stroke="#333" stroke-width="0.8"/>
<text x="89.4" y="344.8" font-size="6.5" text-anchor="middle" fill="#333">2500</text>
<line x1="119.7" y1="335.4" x2="119.7" y2="337.4" stroke="#333" stroke-width="0.8"/>
<text x="119.7" y="344.8" font-size="6.5" text-anchor="middle" fill="#333">5000</text>
<line x1="150" y1="335.4" x2="150" y2="337.4" stroke="#333" stroke-width="0.8"/>
<text x="150" y="344.8" font-size="6.5" text-anchor="middle" fill="#333">7500</text>
<line x1="60" y1="327.9" x2="60" y2="333.2" stroke="#d8202e" stroke-width="0.6" stroke-opacity="0.94"/>
<line x1="60.44" y1="327.9" x2="60.44" y2="333.2" stroke="#d8202e" stroke-width="0.6" stroke-opacity="0.93"/>
<line x1="60.77" y1="327.9" x2="60.77" y2="333.2" stroke="#d8202e" stroke-width="0.5" stroke-opacity="0.84"/>
<line x1="61.08" y1="327.9" x2="61.08" y2="333.2" stroke="#d8202e" stroke-width="0.7" stroke-opacity="0.84"/>
<line x1="61.27" y1="327.9" x2="61.27" y2="333.2" stroke="#d8202e" stroke-width="0.5" stroke-opacity="0.83"/>
<line x1="61.86" y1="327.9" x2="61.86" y2="333.2" stroke="#d8202e" stroke-width="0.5" stroke-opacity="0.97"/>
<line x1="62.17" y1="327.9" x2="62.17" y2="333.2" stroke="#d8202e" stroke-width="0.7" stroke-opacity="0.96"/>
<line x1="62.49" y1="327.9" x2="62.49" y2="333.2" stroke="#d8202e" stroke-width="0.6" stroke-opacity="0.95"/>
<line x1="62.81" y1="327.9" x2="62.81" y2="333.2" stroke="#d8202e" stroke-width="0.6" stroke-opacity="0.85"/>
<line x1="63.06" y1="327.9" x2="63.06" y2="333.2" stroke="#d8202e" stroke-width="0.9" stroke-opacity="0.95"/>
<line x1="63.45" y1="327.9" x2="63.45" y2="333.2" stroke="#d8202e" stroke-width="0.7" stroke-opacity="0.98"/>
<line x1="63.77" y1="327.9" x2="63.77" y2="333.2" stroke="#d8202e" stroke-width="0.7" stroke-opacity="0.87"/>
<line x1="64.12" y1="327.9" x2="64.12" y2="333.2" stroke="#d8202e" stroke-width="0.6" stroke-opacity="0.91"/>
<line x1="64.38" y1="327.9" x2="64.38" y2="333.2" stroke="#d8202e" stroke-width="0.6" stroke-opacity="0.95"/>
<line x1="64.68" y1="327.9" x2="64.68" y2="333.2" stroke="#d8202e" stroke-width="0.7" stroke-opacity="0.84"/>
<line x1="65" y1="327.9" x2="65" y2="333.2" stroke="#d8202e" stroke-width="0.7" stroke-opacity="0.89"/>
<line x1="65.37" y1="327.9" x2="65.37" y2="333.2" stroke="#d8202e" stroke-width="0.9" stroke-opacity="0.83"/>
<line x1="65.75" y1="327.9" x2="65.75" y2="333.2" stroke="#d8202e" stroke-width="0.6" stroke-opacity="0.91"/>
<line x1="66.12" y1="327.9" x2="66.12" y2="333.2" stroke="#d8202e" stroke-width="0.9" stroke-opacity="0.83"/>
<line x1="66.44" y1="327.9" x2="66.44" y2="333.2" stroke="#d8202e" stroke-width="0.9" stroke-opacity="0.99"/>
<line x1="66.6" y1="327.9" x2="66.6" y2="333.2" stroke="#d8202e" stroke-width="0.5" stroke-opacity="0.88"/>
<line x1="66.99" y1="327.9" x2="66.99" y2="333.2" stroke="#d8202e" stroke-width="0.9" stroke-opacity="0.90"/>
<line x1="67.44" y1="327.9" x2="67.44" y2="333.2" stroke="#d8202e" stroke-width="0.9" stroke-opacity="0.83"/>
<line x1="67.8" y1="327.9" x2="67.8" y2="333.2" stroke="#d8202e" stroke-width="0.7" stroke-opacity="0.85"/>
<line x1="67.99" y1="327.9" x2="67.99" y2="333.2" stroke="#d8202e" stroke-width="0.7" stroke-opacity="0.97"/>
<line x1="68.41" y1="327.9" x2="68.41" y2="333.2" stroke="#d8202e" stroke-width="0.6" stroke-opacity="0.93"/>
<line x1="68.79" y1="327.9" x2="68.79" y2="333.2" stroke="#d8202e" stroke-width="0.5" stroke-opacity="0.84"/>
<line x1="69.09" y1="327.9" x2="69.09" y2="333.2" stroke="#d8202e" stroke-width="0.7" stroke-opacity="0.92"/>
<line x1="69.42" y1="327.9" x2="69.42" y2="333.2" stroke="#d8202e" stroke-width="0.6" stroke-opacity="0.91"/>
<line x1="69.68" y1="327.9" x2="69.68" y2="333.2" stroke="#d8202e" stroke-width="0.5" stroke-opacity="0.83"/>
<line x1="70.53" y1="327.9" x2="70.53" y2="333.2" stroke="#d8202e" stroke-width="0.9" stroke-opacity="0.58"/>
<line x1="71.15" y1="327.9" x2="71.15" y2="333.2" stroke="#d8202e" stroke-width="0.5" stroke-opacity="0.78"/>
<line x1="72.12" y1="327.9" x2="72.12" y2="333.2" stroke="#d8202e" stroke-width="0.5" stroke-opacity="0.91"/>
<line x1="72.62" y1="327.9" x2="72.62" y2="333.2" stroke="#d8202e" stroke-width="0.7" stroke-opacity="0.56"/>
<line x1="73.14" y1="327.9" x2="73.14" y2="333.2" stroke="#d8202e" stroke-width="0.7" stroke-opacity="0.65"/>
<line x1="74.19" y1="327.9" x2="74.19" y2="333.2" stroke="#d8202e" stroke-width="0.9" stroke-opacity="0.85"/>
<line x1="74.93" y1="327.9" x2="74.93" y2="333.2" stroke="#d8202e" stroke-width="0.5" stroke-opacity="0.93"/>
<line x1="75.38" y1="327.9" x2="75.38" y2="333.2" stroke="#d8202e" stroke-width="0.9" stroke-opacity="0.67"/>
<line x1="76.5" y1="327.9" x2="76.5" y2="333.2" stroke="#d8202e" stroke-width="0.9" stroke-opacity="0.77"/>
<line x1="77.06" y1="327.9" x2="77.06" y2="333.2" stroke="#d8202e" stroke-width="0.5" stroke-opacity="0.60"/>
<line x1="77.93" y1="327.9" x2="77.93" y2="333.2" stroke="#d8202e" stroke-width="0.6" stroke-opacity="0.86"/>
<line x1="78.93" y1="327.9" x2="78.93" y2="333.2" stroke="#d8202e" stroke-width="0.6" stroke-opacity="0.63"/>
<line x1="79.4" y1="327.9" x2="79.4" y2="333.2" stroke="#d8202e" stroke-width="0.7" stroke-opacity="0.79"/>
<line x1="80.49" y1="327.9" x2="80.49" y2="333.2" stroke="#d8202e" stroke-width="0.9" stroke-opacity="0.80"/>
<line x1="80.91" y1="327.9" x2="80.91" y2="333.2" stroke="#d8202e" stroke-width="0.5" stroke-opacity="0.68"/>
<line x1="81.75" y1="327.9" x2="81.75" y2="333.2" stroke="#d8202e" stroke-width="0.5" stroke-opacity="0.73"/>
<line x1="82.8" y1="327.9" x2="82.8" y2="333.2" stroke="#d8202e" stroke-width="0.5" stroke-opacity="0.80"/>
<line x1="83.5" y1="327.9" x2="83.5" y2="333.2" stroke="#d8202e" stroke-width="0.9" stroke-opacity="0.65"/>
<line x1="84.17" y1="327.9" x2="84.17" y2="333.2" stroke="#d8202e" stroke-width="0.7" stroke-opacity="0.78"/>
<line x1="84.68" y1="327.9" x2="84.68" y2="333.2" stroke="#d8202e" stroke-width="0.6" stroke-opacity="0.76"/>
<line x1="85.51" y1="327.9" x2="85.51" y2="333.2" stroke="#d8202e" stroke-width="0.7" stroke-opacity="0.53"/>
<line x1="86.7" y1="327.9" x2="86.7" y2="333.2" stroke="#d8202e" stroke-width="0.7" stroke-opacity="0.61"/>
<line x1="87.33" y1="327.9" x2="87.33" y2="333.2" stroke="#d8202e" stroke-width="0.7" stroke-opacity="0.65"/>
<line x1="87.81" y1="327.9" x2="87.81" y2="333.2" stroke="#d8202e" stroke-width="0.9" stroke-opacity="0.68"/>
<line x1="88.87" y1="327.9" x2="88.87" y2="333.2" stroke="#d8202e" stroke-width="0.9" stroke-opacity="0.79"/>
<line x1="95.54" y1="327.9" x2="95.54" y2="333.2" stroke="#d8202e" stroke-width="0.6" stroke-opacity="0.62"/>
<line x1="98.69" y1="327.9" x2="98.69" y2="333.2" stroke="#d8202e" stroke-width="0.6" stroke-opacity="0.33"/>
<line x1="100.38" y1="327.9" x2="100.38" y2="333.2" stroke="#d8202e" stroke-width="0.6" stroke-opacity="0.63"/>
<line x1="102.2" y1="327.9" x2="102.2" y2="333.2" stroke="#d8202e" stroke-width="0.6" stroke-opacity="0.84"/>
<line x1="102.84" y1="327.9" x2="102.84" y2="333.2" stroke="#d8202e" stroke-width="0.5" stroke-opacity="0.86"/>
<line x1="105.01" y1="327.9" x2="105.01" y2="333.2" stroke="#d8202e" stroke-width="0.6" stroke-opacity="0.78"/>
<line x1="106.39" y1="327.9" x2="106.39" y2="333.2" stroke="#d8202e" stroke-width="0.6" stroke-opacity="0.44"/>
<line x1="108.88" y1="327.9" x2="108.88" y2="333.2" stroke="#d8202e" stroke-width="0.9" stroke-opacity="0.85"/>
<line x1="110.22" y1="327.9" x2="110.22" y2="333.2" stroke="#d8202e" stroke-width="0.5" stroke-opacity="0.54"/>
<line x1="112.95" y1="327.9" x2="112.95" y2="333.2" stroke="#d8202e" stroke-width="0.5" stroke-opacity="0.84"/>
<line x1="114.43" y1="327.9" x2="114.43" y2="333.2" stroke="#d8202e" stroke-width="0.7" stroke-opacity="0.87"/>
<line x1="116.13" y1="327.9" x2="116.13" y2="333.2" stroke="#d8202e" stroke-width="0.7" stroke-opacity="0.48"/>
<line x1="117.54" y1="327.9" x2="117.54" y2="333.2" stroke="#d8202e" stroke-width="0.5" stroke-opacity="0.52"/>
<line x1="119.21" y1="327.9" x2="119.21" y2="333.2" stroke="#d8202e" stroke-width="0.7" stroke-opacity="0.31"/>
<line x1="122.03" y1="327.9" x2="122.03" y2="333.2" stroke="#d8202e" stroke-width="0.9" stroke-opacity="0.90"/>
<line x1="127.18" y1="327.9" x2="127.18" y2="333.2" stroke="#d8202e" stroke-width="0.7" stroke-opacity="0.89"/>
<line x1="129.84" y1="327.9" x2="129.84" y2="333.2" stroke="#d8202e" stroke-width="0.5" stroke-opacity="0.32"/>
<line x1="130.69" y1="327.9" x2="130.69" y2="333.2" stroke="#d8202e" stroke-width="0.9" stroke-opacity="0.90"/>
<line x1="132.45" y1="327.9" x2="132.45" y2="333.2" stroke="#d8202e" stroke-width="0.6" stroke-opacity="0.39"/>
<line x1="134.18" y1="327.9" x2="134.18" y2="333.2" stroke="#d8202e" stroke-width="0.5" stroke-opacity="0.30"/>
<line x1="135.95" y1="327.9" x2="135.95" y2="333.2" stroke="#d8202e" stroke-width="0.6" stroke-opacity="0.47"/>
<line x1="138.14" y1="327.9" x2="138.14" y2="333.2" stroke="#d8202e" stroke-width="0.7" stroke-opacity="0.45"/>
<line x1="139.11" y1="327.9" x2="139.11" y2="333.2" stroke="#d8202e" stroke-width="0.9" stroke-opacity="0.90"/>
<line x1="140.75" y1="327.9" x2="140.75" y2="333.2" stroke="#d8202e" stroke-width="0.9" stroke-opacity="0.39"/>
<line x1="142.12" y1="327.9" x2="142.12" y2="333.2" stroke="#d8202e" stroke-width="0.9" stroke-opacity="0.53"/>
<line x1="144.62" y1="327.9" x2="144.62" y2="333.2" stroke="#d8202e" stroke-width="0.5" stroke-opacity="0.32"/>
<line x1="145.81" y1="327.9" x2="145.81" y2="333.2" stroke="#d8202e" stroke-width="0.6" stroke-opacity="0.60"/>
<line x1="146.97" y1="327.9" x2="146.97" y2="333.2" stroke="#d8202e" stroke-width="0.7" stroke-opacity="0.65"/>
<line x1="148.59" y1="327.9" x2="148.59" y2="333.2" stroke="#d8202e" stroke-width="0.5" stroke-opacity="0.84"/>
<line x1="150.43" y1="327.9" x2="150.43" y2="333.2" stroke="#d8202e" stroke-width="0.9" stroke-opacity="0.75"/>
<line x1="151.83" y1="327.9" x2="151.83" y2="333.2" stroke="#d8202e" stroke-width="0.6" stroke-opacity="0.62"/>
<line x1="153.85" y1="327.9" x2="153.85" y2="333.2" stroke="#d8202e" stroke-width="0.5" stroke-opacity="0.67"/>
<line x1="156.08" y1="327.9" x2="156.08" y2="333.2" stroke="#d8202e" stroke-width="0.7" stroke-opacity="0.56"/>
<line x1="160.87" y1="327.9" x2="160.87" y2="333.2" stroke="#d8202e" stroke-width="0.5" stroke-opacity="0.41"/>
<line x1="164.01" y1="327.9" x2="164.01" y2="333.2" stroke="#d8202e" stroke-width="0.5" stroke-opacity="0.56"/>
<line x1="53" y1="321.8" x2="173.4" y2="321.8" stroke="#222" stroke-width="1.1"/>
<line x1="53" y1="321.8" x2="173.4" y2="321.8" stroke="#333" stroke-width="1.2" stroke-dasharray="5.4 6.2"/>
<line x1="53" y1="284.1" x2="173.4" y2="284.1" stroke="#444" stroke-width="1.0" stroke-dasharray="5.4 6.2"/>
<path d="M59.7 322.06 L59.96 319.96 L60.34 316.57 L60.7 313.06 L60.97 310.24 L61.23 307.23 L61.6 304.71 L62.16 302.32 L62.83 300 L63.5 298.03 L64.11 296.01 L64.73 294.06 L65.4 292.28 L66.16 290.41 L66.98 288.63 L67.8 287.24 L68.55 285.95 L69.3 284.8 L70.2 284.26 L71.33 284.22 L72.61 284.24 L74 284.33 L75.5 284.39 L77.1 284.5 L78.7 284.6 L80.23 285.16 L81.76 285.77 L83.4 286.51 L85.23 287.53 L87.16 288.33 L89.1 289.4 L90.97 290.63 L92.83 291.8 L94.8 292.74 L96.93 294.02 L99.16 295.13 L101.4 296 L103.66 297.24 L105.92 297.98 L108.1 298.99 L110.13 299.75 L112.06 300.57 L114 301.55 L115.81 302.28 L117.63 302.72 L119.9 303.75 L122.97 305.34 L126.5 307.14 L129.9 308.69 L133.06 310.36 L136.09 311.57 L138.8 312.93 L140.98 313.54 L142.84 313.96 L144.8 314.43 L147.1 314.64 L149.51 315.03 L151.7 315.64 L153.51 316.34 L155.11 317.07 L156.7 317.79 L158.34 318.59 L159.96 319.42 L161.6 320.29 L163.44 320.72 L165.3 321.11 L166.6 321.28" fill="none" stroke="#e5646b" stroke-width="1.45" stroke-linejoin="round" stroke-linecap="round"/>
<text x="168.4" y="291.6" font-size="8.1" text-anchor="end" fill="#111">NES 2.7441</text>
<text x="168.4" y="301.6" font-size="8.1" text-anchor="end" fill="#111"><tspan font-style="italic">P</tspan><tspan font-size="4.6" dy="2">adj</tspan><tspan dy="-2"> 6.9 x 10</tspan><tspan font-size="4.6" dy="-2.9">−22</tspan></text>
<line x1="222.5" y1="147" x2="222.5" y2="201.1" stroke="#333" stroke-width="0.9"/>
<line x1="222.5" y1="201.1" x2="345.3" y2="201.1" stroke="#333" stroke-width="0.9"/>
<line x1="220.5" y1="156.7" x2="222.5" y2="156.7" stroke="#333" stroke-width="0.8"/>
<text x="219.7" y="159.04" font-size="6.5" text-anchor="end" fill="#333">0.0</text>
<line x1="220.5" y1="170.5" x2="222.5" y2="170.5" stroke="#333" stroke-width="0.8"/>
<text x="219.7" y="172.84" font-size="6.5" text-anchor="end" fill="#333">−0.2</text>
<line x1="220.5" y1="184.1" x2="222.5" y2="184.1" stroke="#333" stroke-width="0.8"/>
<text x="219.7" y="186.44" font-size="6.5" text-anchor="end" fill="#333">−0.4</text>
<line x1="220.5" y1="197.6" x2="222.5" y2="197.6" stroke="#333" stroke-width="0.8"/>
<text x="219.7" y="199.94" font-size="6.5" text-anchor="end" fill="#333">−0.6</text>
<line x1="227.6" y1="201.1" x2="227.6" y2="203.1" stroke="#333" stroke-width="0.8"/>
<text x="227.6" y="211.7" font-size="6.5" text-anchor="middle" fill="#333">0</text>
<line x1="257.2" y1="201.1" x2="257.2" y2="203.1" stroke="#333" stroke-width="0.8"/>
<text x="257.2" y="211.7" font-size="6.5" text-anchor="middle" fill="#333">3000</text>
<line x1="286.8" y1="201.1" x2="286.8" y2="203.1" stroke="#333" stroke-width="0.8"/>
<text x="286.8" y="211.7" font-size="6.5" text-anchor="middle" fill="#333">6000</text>
<line x1="316.4" y1="201.1" x2="316.4" y2="203.1" stroke="#333" stroke-width="0.8"/>
<text x="316.4" y="211.7" font-size="6.5" text-anchor="middle" fill="#333">9000</text>
<line x1="227.64" y1="192.2" x2="227.64" y2="198.5" stroke="#1a9090" stroke-width="0.7" stroke-opacity="0.84"/>
<line x1="228.42" y1="192.2" x2="228.42" y2="198.5" stroke="#1a9090" stroke-width="0.9" stroke-opacity="0.61"/>
<line x1="229.2" y1="192.2" x2="229.2" y2="198.5" stroke="#1a9090" stroke-width="0.6" stroke-opacity="0.76"/>
<line x1="229.82" y1="192.2" x2="229.82" y2="198.5" stroke="#1a9090" stroke-width="0.9" stroke-opacity="0.51"/>
<line x1="230.08" y1="192.2" x2="230.08" y2="198.5" stroke="#1a9090" stroke-width="0.6" stroke-opacity="0.90"/>
<line x1="231.12" y1="192.2" x2="231.12" y2="198.5" stroke="#1a9090" stroke-width="0.9" stroke-opacity="0.85"/>
<line x1="231.78" y1="192.2" x2="231.78" y2="198.5" stroke="#1a9090" stroke-width="0.9" stroke-opacity="0.87"/>
<line x1="232.21" y1="192.2" x2="232.21" y2="198.5" stroke="#1a9090" stroke-width="0.7" stroke-opacity="0.52"/>
<line x1="232.8" y1="192.2" x2="232.8" y2="198.5" stroke="#1a9090" stroke-width="0.7" stroke-opacity="0.85"/>
<line x1="233.16" y1="192.2" x2="233.16" y2="198.5" stroke="#1a9090" stroke-width="0.5" stroke-opacity="0.87"/>
<line x1="233.83" y1="192.2" x2="233.83" y2="198.5" stroke="#1a9090" stroke-width="0.9" stroke-opacity="0.96"/>
<line x1="234.47" y1="192.2" x2="234.47" y2="198.5" stroke="#1a9090" stroke-width="0.9" stroke-opacity="0.86"/>
<line x1="235.25" y1="192.2" x2="235.25" y2="198.5" stroke="#1a9090" stroke-width="0.5" stroke-opacity="0.59"/>
<line x1="235.87" y1="192.2" x2="235.87" y2="198.5" stroke="#1a9090" stroke-width="0.5" stroke-opacity="0.91"/>
<line x1="236.64" y1="192.2" x2="236.64" y2="198.5" stroke="#1a9090" stroke-width="0.5" stroke-opacity="0.60"/>
<line x1="236.94" y1="192.2" x2="236.94" y2="198.5" stroke="#1a9090" stroke-width="0.9" stroke-opacity="0.74"/>
<line x1="237.6" y1="192.2" x2="237.6" y2="198.5" stroke="#1a9090" stroke-width="0.9" stroke-opacity="0.96"/>
<line x1="238.26" y1="192.2" x2="238.26" y2="198.5" stroke="#1a9090" stroke-width="0.9" stroke-opacity="0.98"/>
<line x1="238.89" y1="192.2" x2="238.89" y2="198.5" stroke="#1a9090" stroke-width="0.7" stroke-opacity="0.74"/>
<line x1="239.37" y1="192.2" x2="239.37" y2="198.5" stroke="#1a9090" stroke-width="0.9" stroke-opacity="0.55"/>
<line x1="239.98" y1="192.2" x2="239.98" y2="198.5" stroke="#1a9090" stroke-width="0.6" stroke-opacity="0.54"/>
<line x1="240.88" y1="192.2" x2="240.88" y2="198.5" stroke="#1a9090" stroke-width="0.5" stroke-opacity="0.66"/>
<line x1="241.31" y1="192.2" x2="241.31" y2="198.5" stroke="#1a9090" stroke-width="0.7" stroke-opacity="0.59"/>
<line x1="242.26" y1="192.2" x2="242.26" y2="198.5" stroke="#1a9090" stroke-width="0.7" stroke-opacity="0.67"/>
<line x1="244.26" y1="192.2" x2="244.26" y2="198.5" stroke="#1a9090" stroke-width="0.6" stroke-opacity="0.58"/>
<line x1="245.51" y1="192.2" x2="245.51" y2="198.5" stroke="#1a9090" stroke-width="0.5" stroke-opacity="0.69"/>
<line x1="246.31" y1="192.2" x2="246.31" y2="198.5" stroke="#1a9090" stroke-width="0.6" stroke-opacity="0.95"/>
<line x1="247" y1="192.2" x2="247" y2="198.5" stroke="#1a9090" stroke-width="0.5" stroke-opacity="0.99"/>
<line x1="252.81" y1="192.2" x2="252.81" y2="198.5" stroke="#1a9090" stroke-width="0.9" stroke-opacity="0.75"/>
<line x1="253.63" y1="192.2" x2="253.63" y2="198.5" stroke="#1a9090" stroke-width="0.6" stroke-opacity="0.97"/>
<line x1="254.23" y1="192.2" x2="254.23" y2="198.5" stroke="#1a9090" stroke-width="0.9" stroke-opacity="0.53"/>
<line x1="255.72" y1="192.2" x2="255.72" y2="198.5" stroke="#1a9090" stroke-width="0.7" stroke-opacity="0.74"/>
<line x1="256.14" y1="192.2" x2="256.14" y2="198.5" stroke="#1a9090" stroke-width="0.7" stroke-opacity="0.63"/>
<line x1="257.13" y1="192.2" x2="257.13" y2="198.5" stroke="#1a9090" stroke-width="0.9" stroke-opacity="0.62"/>
<line x1="258.16" y1="192.2" x2="258.16" y2="198.5" stroke="#1a9090" stroke-width="0.6" stroke-opacity="0.67"/>
<line x1="266.33" y1="192.2" x2="266.33" y2="198.5" stroke="#1a9090" stroke-width="0.9" stroke-opacity="0.87"/>
<line x1="266.71" y1="192.2" x2="266.71" y2="198.5" stroke="#1a9090" stroke-width="0.9" stroke-opacity="0.57"/>
<line x1="270.72" y1="192.2" x2="270.72" y2="198.5" stroke="#1a9090" stroke-width="0.7" stroke-opacity="0.41"/>
<line x1="273.68" y1="192.2" x2="273.68" y2="198.5" stroke="#1a9090" stroke-width="0.9" stroke-opacity="0.74"/>
<line x1="275.06" y1="192.2" x2="275.06" y2="198.5" stroke="#1a9090" stroke-width="0.9" stroke-opacity="0.75"/>
<line x1="282.09" y1="192.2" x2="282.09" y2="198.5" stroke="#1a9090" stroke-width="0.7" stroke-opacity="0.57"/>
<line x1="282.82" y1="192.2" x2="282.82" y2="198.5" stroke="#1a9090" stroke-width="0.9" stroke-opacity="0.66"/>
<line x1="284.04" y1="192.2" x2="284.04" y2="198.5" stroke="#1a9090" stroke-width="0.5" stroke-opacity="0.78"/>
<line x1="284.6" y1="192.2" x2="284.6" y2="198.5" stroke="#1a9090" stroke-width="0.6" stroke-opacity="0.46"/>
<line x1="285.84" y1="192.2" x2="285.84" y2="198.5" stroke="#1a9090" stroke-width="0.7" stroke-opacity="0.59"/>
<line x1="286.57" y1="192.2" x2="286.57" y2="198.5" stroke="#1a9090" stroke-width="0.6" stroke-opacity="0.68"/>
<line x1="287.04" y1="192.2" x2="287.04" y2="198.5" stroke="#1a9090" stroke-width="0.5" stroke-opacity="0.35"/>
<line x1="287.92" y1="192.2" x2="287.92" y2="198.5" stroke="#1a9090" stroke-width="0.6" stroke-opacity="0.62"/>
<line x1="288.69" y1="192.2" x2="288.69" y2="198.5" stroke="#1a9090" stroke-width="0.7" stroke-opacity="0.36"/>
<line x1="289.57" y1="192.2" x2="289.57" y2="198.5" stroke="#1a9090" stroke-width="0.7" stroke-opacity="0.57"/>
<line x1="290.6" y1="192.2" x2="290.6" y2="198.5" stroke="#1a9090" stroke-width="0.6" stroke-opacity="0.74"/>
<line x1="291.3" y1="192.2" x2="291.3" y2="198.5" stroke="#1a9090" stroke-width="0.6" stroke-opacity="0.73"/>
<line x1="292.5" y1="192.2" x2="292.5" y2="198.5" stroke="#1a9090" stroke-width="0.5" stroke-opacity="0.58"/>
<line x1="293.27" y1="192.2" x2="293.27" y2="198.5" stroke="#1a9090" stroke-width="0.5" stroke-opacity="0.55"/>
<line x1="294.24" y1="192.2" x2="294.24" y2="198.5" stroke="#1a9090" stroke-width="0.9" stroke-opacity="0.30"/>
<line x1="295.14" y1="192.2" x2="295.14" y2="198.5" stroke="#1a9090" stroke-width="0.6" stroke-opacity="0.50"/>
<line x1="295.97" y1="192.2" x2="295.97" y2="198.5" stroke="#1a9090" stroke-width="0.7" stroke-opacity="0.42"/>
<line x1="296.74" y1="192.2" x2="296.74" y2="198.5" stroke="#1a9090" stroke-width="0.6" stroke-opacity="0.42"/>
<line x1="297.18" y1="192.2" x2="297.18" y2="198.5" stroke="#1a9090" stroke-width="0.7" stroke-opacity="0.95"/>
<line x1="297.92" y1="192.2" x2="297.92" y2="198.5" stroke="#1a9090" stroke-width="0.9" stroke-opacity="0.89"/>
<line x1="298.5" y1="192.2" x2="298.5" y2="198.5" stroke="#1a9090" stroke-width="0.5" stroke-opacity="0.50"/>
<line x1="298.84" y1="192.2" x2="298.84" y2="198.5" stroke="#1a9090" stroke-width="0.7" stroke-opacity="0.85"/>
<line x1="299.28" y1="192.2" x2="299.28" y2="198.5" stroke="#1a9090" stroke-width="0.6" stroke-opacity="0.79"/>
<line x1="299.71" y1="192.2" x2="299.71" y2="198.5" stroke="#1a9090" stroke-width="0.6" stroke-opacity="0.90"/>
<line x1="300.36" y1="192.2" x2="300.36" y2="198.5" stroke="#1a9090" stroke-width="0.9" stroke-opacity="0.62"/>
<line x1="300.78" y1="192.2" x2="300.78" y2="198.5" stroke="#1a9090" stroke-width="0.5" stroke-opacity="0.49"/>
<line x1="301.52" y1="192.2" x2="301.52" y2="198.5" stroke="#1a9090" stroke-width="0.9" stroke-opacity="0.89"/>
<line x1="302" y1="192.2" x2="302" y2="198.5" stroke="#1a9090" stroke-width="0.9" stroke-opacity="0.97"/>
<line x1="302.51" y1="192.2" x2="302.51" y2="198.5" stroke="#1a9090" stroke-width="0.9" stroke-opacity="0.73"/>
<line x1="302.87" y1="192.2" x2="302.87" y2="198.5" stroke="#1a9090" stroke-width="0.9" stroke-opacity="0.46"/>
<line x1="303.38" y1="192.2" x2="303.38" y2="198.5" stroke="#1a9090" stroke-width="0.9" stroke-opacity="0.60"/>
<line x1="304.19" y1="192.2" x2="304.19" y2="198.5" stroke="#1a9090" stroke-width="0.6" stroke-opacity="0.70"/>
<line x1="304.58" y1="192.2" x2="304.58" y2="198.5" stroke="#1a9090" stroke-width="0.6" stroke-opacity="0.63"/>
<line x1="305.21" y1="192.2" x2="305.21" y2="198.5" stroke="#1a9090" stroke-width="0.5" stroke-opacity="0.98"/>
<line x1="305.48" y1="192.2" x2="305.48" y2="198.5" stroke="#1a9090" stroke-width="0.7" stroke-opacity="0.55"/>
<line x1="306.3" y1="192.2" x2="306.3" y2="198.5" stroke="#1a9090" stroke-width="0.9" stroke-opacity="0.94"/>
<line x1="306.78" y1="192.2" x2="306.78" y2="198.5" stroke="#1a9090" stroke-width="0.7" stroke-opacity="0.87"/>
<line x1="307.15" y1="192.2" x2="307.15" y2="198.5" stroke="#1a9090" stroke-width="0.9" stroke-opacity="0.95"/>
<line x1="307.7" y1="192.2" x2="307.7" y2="198.5" stroke="#1a9090" stroke-width="0.5" stroke-opacity="0.66"/>
<line x1="308.17" y1="192.2" x2="308.17" y2="198.5" stroke="#1a9090" stroke-width="0.9" stroke-opacity="0.56"/>
<line x1="308.92" y1="192.2" x2="308.92" y2="198.5" stroke="#1a9090" stroke-width="0.6" stroke-opacity="0.50"/>
<line x1="309.18" y1="192.2" x2="309.18" y2="198.5" stroke="#1a9090" stroke-width="0.9" stroke-opacity="0.62"/>
<line x1="309.99" y1="192.2" x2="309.99" y2="198.5" stroke="#1a9090" stroke-width="0.5" stroke-opacity="0.70"/>
<line x1="310.62" y1="192.2" x2="310.62" y2="198.5" stroke="#1a9090" stroke-width="0.9" stroke-opacity="0.54"/>
<line x1="310.81" y1="192.2" x2="310.81" y2="198.5" stroke="#1a9090" stroke-width="0.6" stroke-opacity="0.63"/>
<line x1="311.36" y1="192.2" x2="311.36" y2="198.5" stroke="#1a9090" stroke-width="0.7" stroke-opacity="0.97"/>
<line x1="312" y1="192.2" x2="312" y2="198.5" stroke="#1a9090" stroke-width="0.6" stroke-opacity="0.97"/>
<line x1="312.68" y1="192.2" x2="312.68" y2="198.5" stroke="#1a9090" stroke-width="0.6" stroke-opacity="0.73"/>
<line x1="313.08" y1="192.2" x2="313.08" y2="198.5" stroke="#1a9090" stroke-width="0.9" stroke-opacity="0.60"/>
<line x1="313.42" y1="192.2" x2="313.42" y2="198.5" stroke="#1a9090" stroke-width="0.9" stroke-opacity="0.67"/>
<line x1="314.07" y1="192.2" x2="314.07" y2="198.5" stroke="#1a9090" stroke-width="0.7" stroke-opacity="0.79"/>
<line x1="314.69" y1="192.2" x2="314.69" y2="198.5" stroke="#1a9090" stroke-width="0.7" stroke-opacity="0.82"/>
<line x1="314.98" y1="192.2" x2="314.98" y2="198.5" stroke="#1a9090" stroke-width="0.6" stroke-opacity="0.99"/>
<line x1="315.47" y1="192.2" x2="315.47" y2="198.5" stroke="#1a9090" stroke-width="0.7" stroke-opacity="0.90"/>
<line x1="315.99" y1="192.2" x2="315.99" y2="198.5" stroke="#1a9090" stroke-width="0.5" stroke-opacity="0.73"/>
<line x1="316.68" y1="192.2" x2="316.68" y2="198.5" stroke="#1a9090" stroke-width="0.9" stroke-opacity="0.69"/>
<line x1="317.14" y1="192.2" x2="317.14" y2="198.5" stroke="#1a9090" stroke-width="0.6" stroke-opacity="0.45"/>
<line x1="317.6" y1="192.2" x2="317.6" y2="198.5" stroke="#1a9090" stroke-width="0.9" stroke-opacity="0.62"/>
<line x1="318.25" y1="192.2" x2="318.25" y2="198.5" stroke="#1a9090" stroke-width="0.6" stroke-opacity="0.45"/>
<line x1="318.67" y1="192.2" x2="318.67" y2="198.5" stroke="#1a9090" stroke-width="0.9" stroke-opacity="0.89"/>
<line x1="319.36" y1="192.2" x2="319.36" y2="198.5" stroke="#1a9090" stroke-width="0.6" stroke-opacity="0.48"/>
<line x1="319.84" y1="192.2" x2="319.84" y2="198.5" stroke="#1a9090" stroke-width="0.6" stroke-opacity="0.94"/>
<line x1="320.29" y1="192.2" x2="320.29" y2="198.5" stroke="#1a9090" stroke-width="0.9" stroke-opacity="0.89"/>
<line x1="321.09" y1="192.2" x2="321.09" y2="198.5" stroke="#1a9090" stroke-width="0.5" stroke-opacity="0.46"/>
<line x1="321.28" y1="192.2" x2="321.28" y2="198.5" stroke="#1a9090" stroke-width="0.6" stroke-opacity="0.94"/>
<line x1="321.84" y1="192.2" x2="321.84" y2="198.5" stroke="#1a9090" stroke-width="0.9" stroke-opacity="0.72"/>
<line x1="322.5" y1="192.2" x2="322.5" y2="198.5" stroke="#1a9090" stroke-width="0.7" stroke-opacity="0.89"/>
<line x1="322.89" y1="192.2" x2="322.89" y2="198.5" stroke="#1a9090" stroke-width="0.7" stroke-opacity="0.53"/>
<line x1="323.47" y1="192.2" x2="323.47" y2="198.5" stroke="#1a9090" stroke-width="0.5" stroke-opacity="0.79"/>
<line x1="324.16" y1="192.2" x2="324.16" y2="198.5" stroke="#1a9090" stroke-width="0.5" stroke-opacity="0.55"/>
<line x1="324.69" y1="192.2" x2="324.69" y2="198.5" stroke="#1a9090" stroke-width="0.7" stroke-opacity="0.55"/>
<line x1="325.07" y1="192.2" x2="325.07" y2="198.5" stroke="#1a9090" stroke-width="0.9" stroke-opacity="0.54"/>
<line x1="325.57" y1="192.2" x2="325.57" y2="198.5" stroke="#1a9090" stroke-width="0.9" stroke-opacity="0.88"/>
<line x1="326.05" y1="192.2" x2="326.05" y2="198.5" stroke="#1a9090" stroke-width="0.7" stroke-opacity="0.51"/>
<line x1="326.73" y1="192.2" x2="326.73" y2="198.5" stroke="#1a9090" stroke-width="0.6" stroke-opacity="0.67"/>
<line x1="327.34" y1="192.2" x2="327.34" y2="198.5" stroke="#1a9090" stroke-width="0.5" stroke-opacity="0.74"/>
<line x1="327.69" y1="192.2" x2="327.69" y2="198.5" stroke="#1a9090" stroke-width="0.5" stroke-opacity="0.57"/>
<line x1="328.39" y1="192.2" x2="328.39" y2="198.5" stroke="#1a9090" stroke-width="0.6" stroke-opacity="0.78"/>
<line x1="328.62" y1="192.2" x2="328.62" y2="198.5" stroke="#1a9090" stroke-width="0.9" stroke-opacity="0.65"/>
<line x1="329.2" y1="192.2" x2="329.2" y2="198.5" stroke="#1a9090" stroke-width="0.5" stroke-opacity="0.92"/>
<line x1="330.04" y1="192.2" x2="330.04" y2="198.5" stroke="#1a9090" stroke-width="0.6" stroke-opacity="0.82"/>
<line x1="330.47" y1="192.2" x2="330.47" y2="198.5" stroke="#1a9090" stroke-width="0.5" stroke-opacity="0.81"/>
<line x1="331.12" y1="192.2" x2="331.12" y2="198.5" stroke="#1a9090" stroke-width="0.9" stroke-opacity="0.66"/>
<line x1="331.63" y1="192.2" x2="331.63" y2="198.5" stroke="#1a9090" stroke-width="0.5" stroke-opacity="0.89"/>
<line x1="332.15" y1="192.2" x2="332.15" y2="198.5" stroke="#1a9090" stroke-width="0.7" stroke-opacity="0.55"/>
<line x1="332.55" y1="192.2" x2="332.55" y2="198.5" stroke="#1a9090" stroke-width="0.6" stroke-opacity="0.87"/>
<line x1="332.89" y1="192.2" x2="332.89" y2="198.5" stroke="#1a9090" stroke-width="0.9" stroke-opacity="0.99"/>
<line x1="333.43" y1="192.2" x2="333.43" y2="198.5" stroke="#1a9090" stroke-width="0.7" stroke-opacity="1.00"/>
<line x1="334.19" y1="192.2" x2="334.19" y2="198.5" stroke="#1a9090" stroke-width="0.7" stroke-opacity="0.86"/>
<line x1="334.78" y1="192.2" x2="334.78" y2="198.5" stroke="#1a9090" stroke-width="0.6" stroke-opacity="0.58"/>
<line x1="335.07" y1="192.2" x2="335.07" y2="198.5" stroke="#1a9090" stroke-width="0.7" stroke-opacity="0.82"/>
<line x1="335.69" y1="192.2" x2="335.69" y2="198.5" stroke="#1a9090" stroke-width="0.9" stroke-opacity="1.00"/>
<line x1="336.37" y1="192.2" x2="336.37" y2="198.5" stroke="#1a9090" stroke-width="0.6" stroke-opacity="0.87"/>
<line x1="336.81" y1="192.2" x2="336.81" y2="198.5" stroke="#1a9090" stroke-width="0.7" stroke-opacity="0.57"/>
<line x1="337.4" y1="192.2" x2="337.4" y2="198.5" stroke="#1a9090" stroke-width="0.5" stroke-opacity="0.73"/>
<line x1="337.62" y1="192.2" x2="337.62" y2="198.5" stroke="#1a9090" stroke-width="0.9" stroke-opacity="0.81"/>
<line x1="338.4" y1="192.2" x2="338.4" y2="198.5" stroke="#1a9090" stroke-width="0.6" stroke-opacity="0.86"/>
<line x1="338.71" y1="192.2" x2="338.71" y2="198.5" stroke="#1a9090" stroke-width="0.9" stroke-opacity="0.69"/>
<line x1="339.22" y1="192.2" x2="339.22" y2="198.5" stroke="#1a9090" stroke-width="0.5" stroke-opacity="0.71"/>
<line x1="222.5" y1="156.7" x2="345.3" y2="156.7" stroke="#888" stroke-width="1.1"/>
<line x1="222.5" y1="149.9" x2="345.3" y2="149.9" stroke="#444" stroke-width="1.0" stroke-dasharray="5.4 6.2"/>
<line x1="222.5" y1="185.5" x2="345.3" y2="185.5" stroke="#444" stroke-width="1.0" stroke-dasharray="5.4 6.2"/>
<path d="M227.7 157.18 L228.19 156.6 L228.9 155.5 L229.6 154.62 L230.2 153.52 L230.8 152.48 L231.5 151.93 L232.4 151.64 L233.4 152.05 L234.3 152.08 L234.98 152.02 L235.56 151.89 L236.2 151.69 L236.97 151.73 L237.79 151.97 L238.6 151.66 L239.35 151.12 L240.09 150.33 L240.9 149.78 L241.86 149.94 L242.89 150.53 L243.8 151.15 L244.49 151.58 L245.07 151.81 L245.7 152.23 L246.36 151.97 L247.07 151.61 L248 151.5 L249.27 152.15 L250.76 153.1 L252.3 153.89 L253.83 154.6 L255.41 155.21 L257 155.97 L258.56 156.75 L260.13 157.27 L261.8 158.19 L263.57 159.41 L265.43 160.25 L267.5 161.53 L269.96 163.02 L272.62 164.5 L275 165.72 L276.82 166.81 L278.36 167.55 L280 168.15 L281.9 169.34 L283.91 170.29 L285.9 171.4 L287.76 172.5 L289.61 173.63 L291.7 174.89 L294.18 176.15 L296.9 177.71 L299.6 179.11 L302.31 180.28 L305.02 181.49 L307.4 182.31 L309.25 182.63 L310.77 182.97 L312.3 183.29 L313.97 183.78 L315.64 184.27 L317.2 184.62 L318.57 184.98 L319.84 185.03 L321.1 185.13 L322.4 184.86 L323.7 184.56 L325 184.06 L326.37 183.46 L327.74 182.51 L328.9 181.68 L329.67 180.4 L330.24 179.06 L330.9 177.86 L331.81 177.22 L332.83 177.13 L333.8 176.88 L334.7 175.94 L335.56 175.23 L336.3 173.76 L336.86 172.36 L337.3 170.45 L337.7 168.64 L338.06 166.53 L338.38 164.53 L338.7 162.5 L339.07 160.35 L339.44 158.17 L339.7 156.72" fill="none" stroke="#35a3a3" stroke-width="1.45" stroke-linejoin="round" stroke-linecap="round"/>
<text x="333.8" y="163.6" font-size="8.1" text-anchor="end" fill="#111">NES &#160;-1.679</text>
<text x="333.8" y="173.4" font-size="8.1" text-anchor="end" fill="#111"><tspan font-style="italic">P</tspan><tspan font-size="4.6" dy="2">adj</tspan><tspan dy="-2"> 0.0006</tspan></text>

<line x1="222.6" y1="216" x2="222.6" y2="269.6" stroke="#333" stroke-width="0.9"/>
<line x1="222.6" y1="269.6" x2="345.3" y2="269.6" stroke="#333" stroke-width="0.9"/>
<line x1="220.6" y1="218.1" x2="222.6" y2="218.1" stroke="#333" stroke-width="0.8"/>
<text x="219.8" y="220.44" font-size="6.5" text-anchor="end" fill="#333">0.4</text>
<line x1="220.6" y1="232.4" x2="222.6" y2="232.4" stroke="#333" stroke-width="0.8"/>
<text x="219.8" y="234.74" font-size="6.5" text-anchor="end" fill="#333">0.2</text>
<line x1="220.6" y1="246.6" x2="222.6" y2="246.6" stroke="#333" stroke-width="0.8"/>
<text x="219.8" y="248.94" font-size="6.5" text-anchor="end" fill="#333">0.0</text>
<line x1="220.6" y1="260.9" x2="222.6" y2="260.9" stroke="#333" stroke-width="0.8"/>
<text x="219.8" y="263.24" font-size="6.5" text-anchor="end" fill="#333">−0.2</text>
<line x1="228" y1="269.6" x2="228" y2="271.6" stroke="#333" stroke-width="0.8"/>
<text x="228" y="278.4" font-size="6.5" text-anchor="middle" fill="#333">0</text>
<line x1="255.6" y1="269.6" x2="255.6" y2="271.6" stroke="#333" stroke-width="0.8"/>
<text x="255.6" y="278.4" font-size="6.5" text-anchor="middle" fill="#333">2000</text>
<line x1="283.2" y1="269.6" x2="283.2" y2="271.6" stroke="#333" stroke-width="0.8"/>
<text x="283.2" y="278.4" font-size="6.5" text-anchor="middle" fill="#333">4000</text>
<line x1="310.8" y1="269.6" x2="310.8" y2="271.6" stroke="#333" stroke-width="0.8"/>
<text x="310.8" y="278.4" font-size="6.5" text-anchor="middle" fill="#333">6000</text>
<line x1="338.4" y1="269.6" x2="338.4" y2="271.6" stroke="#333" stroke-width="0.8"/>
<text x="338.4" y="278.4" font-size="6.5" text-anchor="middle" fill="#333">8000</text>
<line x1="227.83" y1="258.6" x2="227.83" y2="267.4" stroke="#f7b500" stroke-width="0.5" stroke-opacity="0.74"/>
<line x1="228.1" y1="258.6" x2="228.1" y2="267.4" stroke="#f7b500" stroke-width="0.5" stroke-opacity="0.83"/>
<line x1="228.52" y1="258.6" x2="228.52" y2="267.4" stroke="#f7b500" stroke-width="0.5" stroke-opacity="0.96"/>
<line x1="228.74" y1="258.6" x2="228.74" y2="267.4" stroke="#f7b500" stroke-width="0.7" stroke-opacity="0.99"/>
<line x1="229.35" y1="258.6" x2="229.35" y2="267.4" stroke="#f7b500" stroke-width="0.9" stroke-opacity="0.75"/>
<line x1="229.65" y1="258.6" x2="229.65" y2="267.4" stroke="#f7b500" stroke-width="0.5" stroke-opacity="0.71"/>
<line x1="229.99" y1="258.6" x2="229.99" y2="267.4" stroke="#f7b500" stroke-width="0.6" stroke-opacity="0.79"/>
<line x1="230.24" y1="258.6" x2="230.24" y2="267.4" stroke="#f7b500" stroke-width="0.5" stroke-opacity="0.73"/>
<line x1="230.78" y1="258.6" x2="230.78" y2="267.4" stroke="#f7b500" stroke-width="0.7" stroke-opacity="0.88"/>
<line x1="231" y1="258.6" x2="231" y2="267.4" stroke="#f7b500" stroke-width="0.6" stroke-opacity="0.82"/>
<line x1="231.41" y1="258.6" x2="231.41" y2="267.4" stroke="#f7b500" stroke-width="0.6" stroke-opacity="0.78"/>
<line x1="231.83" y1="258.6" x2="231.83" y2="267.4" stroke="#f7b500" stroke-width="0.5" stroke-opacity="0.80"/>
<line x1="232.21" y1="258.6" x2="232.21" y2="267.4" stroke="#f7b500" stroke-width="0.7" stroke-opacity="0.78"/>
<line x1="232.62" y1="258.6" x2="232.62" y2="267.4" stroke="#f7b500" stroke-width="0.6" stroke-opacity="0.82"/>
<line x1="233.05" y1="258.6" x2="233.05" y2="267.4" stroke="#f7b500" stroke-width="0.5" stroke-opacity="0.56"/>
<line x1="233.77" y1="258.6" x2="233.77" y2="267.4" stroke="#f7b500" stroke-width="0.9" stroke-opacity="0.68"/>
<line x1="234.75" y1="258.6" x2="234.75" y2="267.4" stroke="#f7b500" stroke-width="0.9" stroke-opacity="0.84"/>
<line x1="235.09" y1="258.6" x2="235.09" y2="267.4" stroke="#f7b500" stroke-width="0.7" stroke-opacity="0.90"/>
<line x1="235.82" y1="258.6" x2="235.82" y2="267.4" stroke="#f7b500" stroke-width="0.5" stroke-opacity="0.78"/>
<line x1="237.02" y1="258.6" x2="237.02" y2="267.4" stroke="#f7b500" stroke-width="0.6" stroke-opacity="0.87"/>
<line x1="237.43" y1="258.6" x2="237.43" y2="267.4" stroke="#f7b500" stroke-width="0.6" stroke-opacity="0.40"/>
<line x1="238.02" y1="258.6" x2="238.02" y2="267.4" stroke="#f7b500" stroke-width="0.7" stroke-opacity="0.65"/>
<line x1="238.75" y1="258.6" x2="238.75" y2="267.4" stroke="#f7b500" stroke-width="0.6" stroke-opacity="0.85"/>
<line x1="239.62" y1="258.6" x2="239.62" y2="267.4" stroke="#f7b500" stroke-width="0.6" stroke-opacity="0.38"/>
<line x1="240.55" y1="258.6" x2="240.55" y2="267.4" stroke="#f7b500" stroke-width="0.6" stroke-opacity="0.71"/>
<line x1="241.19" y1="258.6" x2="241.19" y2="267.4" stroke="#f7b500" stroke-width="0.6" stroke-opacity="0.41"/>
<line x1="241.77" y1="258.6" x2="241.77" y2="267.4" stroke="#f7b500" stroke-width="0.9" stroke-opacity="0.81"/>
<line x1="242.28" y1="258.6" x2="242.28" y2="267.4" stroke="#f7b500" stroke-width="0.6" stroke-opacity="0.42"/>
<line x1="243.31" y1="258.6" x2="243.31" y2="267.4" stroke="#f7b500" stroke-width="0.9" stroke-opacity="0.90"/>
<line x1="243.97" y1="258.6" x2="243.97" y2="267.4" stroke="#f7b500" stroke-width="0.7" stroke-opacity="0.39"/>
<line x1="244.97" y1="258.6" x2="244.97" y2="267.4" stroke="#f7b500" stroke-width="0.7" stroke-opacity="0.41"/>
<line x1="245.69" y1="258.6" x2="245.69" y2="267.4" stroke="#f7b500" stroke-width="0.7" stroke-opacity="0.36"/>
<line x1="246.23" y1="258.6" x2="246.23" y2="267.4" stroke="#f7b500" stroke-width="0.6" stroke-opacity="0.54"/>
<line x1="246.95" y1="258.6" x2="246.95" y2="267.4" stroke="#f7b500" stroke-width="0.7" stroke-opacity="0.68"/>
<line x1="247.41" y1="258.6" x2="247.41" y2="267.4" stroke="#f7b500" stroke-width="0.6" stroke-opacity="0.39"/>
<line x1="248.23" y1="258.6" x2="248.23" y2="267.4" stroke="#f7b500" stroke-width="0.6" stroke-opacity="0.41"/>
<line x1="249.06" y1="258.6" x2="249.06" y2="267.4" stroke="#f7b500" stroke-width="0.5" stroke-opacity="0.62"/>
<line x1="249.58" y1="258.6" x2="249.58" y2="267.4" stroke="#f7b500" stroke-width="0.5" stroke-opacity="0.50"/>
<line x1="250.53" y1="258.6" x2="250.53" y2="267.4" stroke="#f7b500" stroke-width="0.9" stroke-opacity="0.69"/>
<line x1="251.11" y1="258.6" x2="251.11" y2="267.4" stroke="#f7b500" stroke-width="0.6" stroke-opacity="0.75"/>
<line x1="251.66" y1="258.6" x2="251.66" y2="267.4" stroke="#f7b500" stroke-width="0.5" stroke-opacity="0.56"/>
<line x1="252.48" y1="258.6" x2="252.48" y2="267.4" stroke="#f7b500" stroke-width="0.9" stroke-opacity="0.76"/>
<line x1="253.11" y1="258.6" x2="253.11" y2="267.4" stroke="#f7b500" stroke-width="0.9" stroke-opacity="0.73"/>
<line x1="254.07" y1="258.6" x2="254.07" y2="267.4" stroke="#f7b500" stroke-width="0.6" stroke-opacity="0.49"/>
<line x1="254.59" y1="258.6" x2="254.59" y2="267.4" stroke="#f7b500" stroke-width="0.6" stroke-opacity="0.86"/>
<line x1="255.35" y1="258.6" x2="255.35" y2="267.4" stroke="#f7b500" stroke-width="0.7" stroke-opacity="0.88"/>
<line x1="256" y1="258.6" x2="256" y2="267.4" stroke="#f7b500" stroke-width="0.7" stroke-opacity="0.62"/>
<line x1="256.71" y1="258.6" x2="256.71" y2="267.4" stroke="#f7b500" stroke-width="0.5" stroke-opacity="0.62"/>
<line x1="257.57" y1="258.6" x2="257.57" y2="267.4" stroke="#f7b500" stroke-width="0.6" stroke-opacity="0.77"/>
<line x1="258.5" y1="258.6" x2="258.5" y2="267.4" stroke="#f7b500" stroke-width="0.6" stroke-opacity="0.89"/>
<line x1="259.11" y1="258.6" x2="259.11" y2="267.4" stroke="#f7b500" stroke-width="0.7" stroke-opacity="0.59"/>
<line x1="259.77" y1="258.6" x2="259.77" y2="267.4" stroke="#f7b500" stroke-width="0.5" stroke-opacity="0.83"/>
<line x1="260.7" y1="258.6" x2="260.7" y2="267.4" stroke="#f7b500" stroke-width="0.5" stroke-opacity="0.68"/>
<line x1="261.12" y1="258.6" x2="261.12" y2="267.4" stroke="#f7b500" stroke-width="0.7" stroke-opacity="0.79"/>
<line x1="261.9" y1="258.6" x2="261.9" y2="267.4" stroke="#f7b500" stroke-width="0.7" stroke-opacity="0.81"/>
<line x1="262.57" y1="258.6" x2="262.57" y2="267.4" stroke="#f7b500" stroke-width="0.6" stroke-opacity="0.50"/>
<line x1="263.39" y1="258.6" x2="263.39" y2="267.4" stroke="#f7b500" stroke-width="0.9" stroke-opacity="0.79"/>
<line x1="264.31" y1="258.6" x2="264.31" y2="267.4" stroke="#f7b500" stroke-width="0.6" stroke-opacity="0.80"/>
<line x1="264.92" y1="258.6" x2="264.92" y2="267.4" stroke="#f7b500" stroke-width="0.5" stroke-opacity="0.54"/>
<line x1="265.57" y1="258.6" x2="265.57" y2="267.4" stroke="#f7b500" stroke-width="0.6" stroke-opacity="0.71"/>
<line x1="271" y1="258.6" x2="271" y2="267.4" stroke="#f7b500" stroke-width="0.9" stroke-opacity="0.43"/>
<line x1="276.98" y1="258.6" x2="276.98" y2="267.4" stroke="#f7b500" stroke-width="0.6" stroke-opacity="0.33"/>
<line x1="277.87" y1="258.6" x2="277.87" y2="267.4" stroke="#f7b500" stroke-width="0.5" stroke-opacity="0.52"/>
<line x1="279.15" y1="258.6" x2="279.15" y2="267.4" stroke="#f7b500" stroke-width="0.5" stroke-opacity="0.76"/>
<line x1="279.83" y1="258.6" x2="279.83" y2="267.4" stroke="#f7b500" stroke-width="0.5" stroke-opacity="0.60"/>
<line x1="281.41" y1="258.6" x2="281.41" y2="267.4" stroke="#f7b500" stroke-width="0.5" stroke-opacity="0.80"/>
<line x1="282.23" y1="258.6" x2="282.23" y2="267.4" stroke="#f7b500" stroke-width="0.7" stroke-opacity="0.85"/>
<line x1="283.19" y1="258.6" x2="283.19" y2="267.4" stroke="#f7b500" stroke-width="0.9" stroke-opacity="0.86"/>
<line x1="284.26" y1="258.6" x2="284.26" y2="267.4" stroke="#f7b500" stroke-width="0.7" stroke-opacity="0.62"/>
<line x1="285.07" y1="258.6" x2="285.07" y2="267.4" stroke="#f7b500" stroke-width="0.5" stroke-opacity="0.71"/>
<line x1="286.55" y1="258.6" x2="286.55" y2="267.4" stroke="#f7b500" stroke-width="0.7" stroke-opacity="0.78"/>
<line x1="287.38" y1="258.6" x2="287.38" y2="267.4" stroke="#f7b500" stroke-width="0.6" stroke-opacity="0.30"/>
<line x1="287.89" y1="258.6" x2="287.89" y2="267.4" stroke="#f7b500" stroke-width="0.7" stroke-opacity="0.86"/>
<line x1="289.58" y1="258.6" x2="289.58" y2="267.4" stroke="#f7b500" stroke-width="0.5" stroke-opacity="0.86"/>
<line x1="289.95" y1="258.6" x2="289.95" y2="267.4" stroke="#f7b500" stroke-width="0.7" stroke-opacity="0.57"/>
<line x1="291.63" y1="258.6" x2="291.63" y2="267.4" stroke="#f7b500" stroke-width="0.7" stroke-opacity="0.40"/>
<line x1="292.23" y1="258.6" x2="292.23" y2="267.4" stroke="#f7b500" stroke-width="0.9" stroke-opacity="0.51"/>
<line x1="293.16" y1="258.6" x2="293.16" y2="267.4" stroke="#f7b500" stroke-width="0.7" stroke-opacity="0.62"/>
<line x1="294.65" y1="258.6" x2="294.65" y2="267.4" stroke="#f7b500" stroke-width="0.7" stroke-opacity="0.58"/>
<line x1="295.35" y1="258.6" x2="295.35" y2="267.4" stroke="#f7b500" stroke-width="0.6" stroke-opacity="0.43"/>
<line x1="296.61" y1="258.6" x2="296.61" y2="267.4" stroke="#f7b500" stroke-width="0.6" stroke-opacity="0.75"/>
<line x1="297.32" y1="258.6" x2="297.32" y2="267.4" stroke="#f7b500" stroke-width="0.6" stroke-opacity="0.45"/>
<line x1="298.64" y1="258.6" x2="298.64" y2="267.4" stroke="#f7b500" stroke-width="0.9" stroke-opacity="0.37"/>
<line x1="299.25" y1="258.6" x2="299.25" y2="267.4" stroke="#f7b500" stroke-width="0.9" stroke-opacity="0.40"/>
<line x1="300.05" y1="258.6" x2="300.05" y2="267.4" stroke="#f7b500" stroke-width="0.9" stroke-opacity="0.50"/>
<line x1="301.12" y1="258.6" x2="301.12" y2="267.4" stroke="#f7b500" stroke-width="0.9" stroke-opacity="0.70"/>
<line x1="302.38" y1="258.6" x2="302.38" y2="267.4" stroke="#f7b500" stroke-width="0.9" stroke-opacity="0.62"/>
<line x1="303.59" y1="258.6" x2="303.59" y2="267.4" stroke="#f7b500" stroke-width="0.9" stroke-opacity="0.78"/>
<line x1="304.34" y1="258.6" x2="304.34" y2="267.4" stroke="#f7b500" stroke-width="0.5" stroke-opacity="0.47"/>
<line x1="305.82" y1="258.6" x2="305.82" y2="267.4" stroke="#f7b500" stroke-width="0.9" stroke-opacity="0.37"/>
<line x1="306.69" y1="258.6" x2="306.69" y2="267.4" stroke="#f7b500" stroke-width="0.9" stroke-opacity="0.35"/>
<line x1="307.73" y1="258.6" x2="307.73" y2="267.4" stroke="#f7b500" stroke-width="0.6" stroke-opacity="0.46"/>
<line x1="308.07" y1="258.6" x2="308.07" y2="267.4" stroke="#f7b500" stroke-width="0.7" stroke-opacity="0.96"/>
<line x1="308.9" y1="258.6" x2="308.9" y2="267.4" stroke="#f7b500" stroke-width="0.6" stroke-opacity="0.77"/>
<line x1="309.67" y1="258.6" x2="309.67" y2="267.4" stroke="#f7b500" stroke-width="0.9" stroke-opacity="0.64"/>
<line x1="310.03" y1="258.6" x2="310.03" y2="267.4" stroke="#f7b500" stroke-width="0.9" stroke-opacity="0.84"/>
<line x1="310.71" y1="258.6" x2="310.71" y2="267.4" stroke="#f7b500" stroke-width="0.9" stroke-opacity="0.70"/>
<line x1="311.11" y1="258.6" x2="311.11" y2="267.4" stroke="#f7b500" stroke-width="0.6" stroke-opacity="0.93"/>
<line x1="311.68" y1="258.6" x2="311.68" y2="267.4" stroke="#f7b500" stroke-width="0.7" stroke-opacity="0.74"/>
<line x1="312.43" y1="258.6" x2="312.43" y2="267.4" stroke="#f7b500" stroke-width="0.6" stroke-opacity="0.78"/>
<line x1="313.03" y1="258.6" x2="313.03" y2="267.4" stroke="#f7b500" stroke-width="0.9" stroke-opacity="0.58"/>
<line x1="313.7" y1="258.6" x2="313.7" y2="267.4" stroke="#f7b500" stroke-width="0.5" stroke-opacity="0.65"/>
<line x1="314.19" y1="258.6" x2="314.19" y2="267.4" stroke="#f7b500" stroke-width="0.9" stroke-opacity="0.58"/>
<line x1="314.68" y1="258.6" x2="314.68" y2="267.4" stroke="#f7b500" stroke-width="0.6" stroke-opacity="0.98"/>
<line x1="315.11" y1="258.6" x2="315.11" y2="267.4" stroke="#f7b500" stroke-width="0.7" stroke-opacity="0.78"/>
<line x1="315.98" y1="258.6" x2="315.98" y2="267.4" stroke="#f7b500" stroke-width="0.6" stroke-opacity="0.51"/>
<line x1="316.44" y1="258.6" x2="316.44" y2="267.4" stroke="#f7b500" stroke-width="0.7" stroke-opacity="0.51"/>
<line x1="316.85" y1="258.6" x2="316.85" y2="267.4" stroke="#f7b500" stroke-width="0.7" stroke-opacity="0.54"/>
<line x1="317.5" y1="258.6" x2="317.5" y2="267.4" stroke="#f7b500" stroke-width="0.6" stroke-opacity="0.97"/>
<line x1="318.35" y1="258.6" x2="318.35" y2="267.4" stroke="#f7b500" stroke-width="0.5" stroke-opacity="0.59"/>
<line x1="318.82" y1="258.6" x2="318.82" y2="267.4" stroke="#f7b500" stroke-width="0.5" stroke-opacity="0.55"/>
<line x1="319.51" y1="258.6" x2="319.51" y2="267.4" stroke="#f7b500" stroke-width="0.9" stroke-opacity="0.82"/>
<line x1="320.02" y1="258.6" x2="320.02" y2="267.4" stroke="#f7b500" stroke-width="0.7" stroke-opacity="0.63"/>
<line x1="320.47" y1="258.6" x2="320.47" y2="267.4" stroke="#f7b500" stroke-width="0.5" stroke-opacity="0.55"/>
<line x1="321.23" y1="258.6" x2="321.23" y2="267.4" stroke="#f7b500" stroke-width="0.5" stroke-opacity="0.65"/>
<line x1="321.92" y1="258.6" x2="321.92" y2="267.4" stroke="#f7b500" stroke-width="0.9" stroke-opacity="0.75"/>
<line x1="322.41" y1="258.6" x2="322.41" y2="267.4" stroke="#f7b500" stroke-width="0.9" stroke-opacity="0.63"/>
<line x1="323.06" y1="258.6" x2="323.06" y2="267.4" stroke="#f7b500" stroke-width="0.9" stroke-opacity="0.50"/>
<line x1="323.41" y1="258.6" x2="323.41" y2="267.4" stroke="#f7b500" stroke-width="0.7" stroke-opacity="0.76"/>
<line x1="323.94" y1="258.6" x2="323.94" y2="267.4" stroke="#f7b500" stroke-width="0.9" stroke-opacity="0.95"/>
<line x1="324.7" y1="258.6" x2="324.7" y2="267.4" stroke="#f7b500" stroke-width="0.7" stroke-opacity="0.95"/>
<line x1="325.3" y1="258.6" x2="325.3" y2="267.4" stroke="#f7b500" stroke-width="0.5" stroke-opacity="0.54"/>
<line x1="325.84" y1="258.6" x2="325.84" y2="267.4" stroke="#f7b500" stroke-width="0.5" stroke-opacity="0.66"/>
<line x1="326.38" y1="258.6" x2="326.38" y2="267.4" stroke="#f7b500" stroke-width="0.9" stroke-opacity="0.47"/>
<line x1="326.98" y1="258.6" x2="326.98" y2="267.4" stroke="#f7b500" stroke-width="0.6" stroke-opacity="0.61"/>
<line x1="327.82" y1="258.6" x2="327.82" y2="267.4" stroke="#f7b500" stroke-width="0.5" stroke-opacity="1.00"/>
<line x1="327.99" y1="258.6" x2="327.99" y2="267.4" stroke="#f7b500" stroke-width="0.7" stroke-opacity="0.90"/>
<line x1="328.75" y1="258.6" x2="328.75" y2="267.4" stroke="#f7b500" stroke-width="0.6" stroke-opacity="0.55"/>
<line x1="329.22" y1="258.6" x2="329.22" y2="267.4" stroke="#f7b500" stroke-width="0.5" stroke-opacity="0.46"/>
<line x1="329.82" y1="258.6" x2="329.82" y2="267.4" stroke="#f7b500" stroke-width="0.9" stroke-opacity="0.68"/>
<line x1="330.61" y1="258.6" x2="330.61" y2="267.4" stroke="#f7b500" stroke-width="0.7" stroke-opacity="0.62"/>
<line x1="331.24" y1="258.6" x2="331.24" y2="267.4" stroke="#f7b500" stroke-width="0.5" stroke-opacity="0.65"/>
<line x1="331.75" y1="258.6" x2="331.75" y2="267.4" stroke="#f7b500" stroke-width="0.6" stroke-opacity="0.99"/>
<line x1="332.16" y1="258.6" x2="332.16" y2="267.4" stroke="#f7b500" stroke-width="0.5" stroke-opacity="0.66"/>
<line x1="333.59" y1="258.6" x2="333.59" y2="267.4" stroke="#f7b500" stroke-width="0.7" stroke-opacity="0.43"/>
<line x1="334.84" y1="258.6" x2="334.84" y2="267.4" stroke="#f7b500" stroke-width="0.9" stroke-opacity="0.20"/>
<line x1="335.94" y1="258.6" x2="335.94" y2="267.4" stroke="#f7b500" stroke-width="0.9" stroke-opacity="0.47"/>
<line x1="336.91" y1="258.6" x2="336.91" y2="267.4" stroke="#f7b500" stroke-width="0.7" stroke-opacity="0.26"/>
<line x1="222.6" y1="246.6" x2="345.3" y2="246.6" stroke="#555" stroke-width="1.1"/>
<line x1="222.6" y1="218.1" x2="345.3" y2="218.1" stroke="#444" stroke-width="1.0" stroke-dasharray="5.4 6.2"/>
<line x1="222.6" y1="252.1" x2="345.3" y2="252.1" stroke="#444" stroke-width="1.0" stroke-dasharray="5.4 6.2"/>
<path d="M228.3 247.4 L228.37 245.25 L228.49 242.04 L228.7 239.13 L229.03 236.19 L229.46 233.34 L229.9 230.69 L230.34 228.65 L230.8 226.76 L231.3 225.13 L231.8 223.67 L232.34 222.73 L233.1 222.04 L234.19 221.34 L235.5 220.9 L236.8 220.54 L238.07 219.74 L239.33 219.09 L240.5 218.68 L241.47 218.31 L242.33 218.17 L243.3 218.34 L244.43 218.27 L245.66 218.43 L247 218.67 L248.39 219.37 L249.9 220.06 L251.7 220.93 L253.97 222.33 L256.53 223.66 L259.1 225.11 L261.57 226.73 L264.03 228.19 L266.5 229.94 L269.01 231.43 L271.53 232.91 L273.9 234.39 L275.97 235.78 L277.89 236.81 L280 237.85 L282.51 239.53 L285.2 240.92 L287.8 242.34 L290.24 243.77 L292.58 245 L294.7 246.35 L296.37 247.39 L297.83 248.29 L299.6 249.19 L302.02 250.09 L304.77 251.09 L307.4 251.8 L309.81 251.9 L312.11 252.18 L314.2 252.29 L315.97 252.44 L317.54 252.41 L319.1 252.34 L320.73 251.85 L322.37 251.36 L324 250.77 L325.63 250.12 L327.27 249.76 L328.9 249.24 L330.57 248.77 L332.24 248.25 L333.8 247.93 L335.24 247.08 L336.58 246.16 L337.7 245.42 L338.58 245.47 L339.25 245.88 L339.7 246.26" fill="none" stroke="#f9c443" stroke-width="1.45" stroke-linejoin="round" stroke-linecap="round"/>
<text x="340.1" y="227.3" font-size="8.1" text-anchor="end" fill="#111">NES 1.6256</text>
<text x="340.1" y="236.7" font-size="8.1" text-anchor="end" fill="#111"><tspan font-style="italic">P</tspan><tspan font-size="4.6" dy="2">adj</tspan><tspan dy="-2"> 1.01x10</tspan><tspan font-size="4.6" dy="-2.9">−3</tspan></text>
<line x1="222.6" y1="283" x2="222.6" y2="335.4" stroke="#333" stroke-width="0.9"/>
<line x1="222.6" y1="335.4" x2="345.6" y2="335.4" stroke="#333" stroke-width="0.9"/>
<line x1="220.6" y1="293.8" x2="222.6" y2="293.8" stroke="#333" stroke-width="0.8"/>
<text x="219.8" y="296.14" font-size="6.5" text-anchor="end" fill="#333">0.4</text>
<line x1="220.6" y1="306.5" x2="222.6" y2="306.5" stroke="#333" stroke-width="0.8"/>
<text x="219.8" y="308.84" font-size="6.5" text-anchor="end" fill="#333">0.2</text>
<line x1="220.6" y1="319.2" x2="222.6" y2="319.2" stroke="#333" stroke-width="0.8"/>
<text x="219.8" y="321.54" font-size="6.5" text-anchor="end" fill="#333">0.0</text>
<line x1="220.6" y1="332" x2="222.6" y2="332" stroke="#333" stroke-width="0.8"/>
<text x="219.8" y="334.34" font-size="6.5" text-anchor="end" fill="#333">−0.2</text>
<line x1="227.8" y1="335.4" x2="227.8" y2="337.4" stroke="#333" stroke-width="0.8"/>
<text x="227.8" y="344.8" font-size="6.5" text-anchor="middle" fill="#333">0</text>
<line x1="259.4" y1="335.4" x2="259.4" y2="337.4" stroke="#333" stroke-width="0.8"/>
<text x="259.4" y="344.8" font-size="6.5" text-anchor="middle" fill="#333">2500</text>
<line x1="291" y1="335.4" x2="291" y2="337.4" stroke="#333" stroke-width="0.8"/>
<text x="291" y="344.8" font-size="6.5" text-anchor="middle" fill="#333">5000</text>
<line x1="322.6" y1="335.4" x2="322.6" y2="337.4" stroke="#333" stroke-width="0.8"/>
<text x="322.6" y="344.8" font-size="6.5" text-anchor="middle" fill="#333">7500</text>
<line x1="227.92" y1="326.6" x2="227.92" y2="333.2" stroke="#d8202e" stroke-width="0.5" stroke-opacity="0.98"/>
<line x1="228.06" y1="326.6" x2="228.06" y2="333.2" stroke="#d8202e" stroke-width="0.9" stroke-opacity="0.69"/>
<line x1="228.76" y1="326.6" x2="228.76" y2="333.2" stroke="#d8202e" stroke-width="0.6" stroke-opacity="0.61"/>
<line x1="229.16" y1="326.6" x2="229.16" y2="333.2" stroke="#d8202e" stroke-width="0.9" stroke-opacity="0.56"/>
<line x1="229.91" y1="326.6" x2="229.91" y2="333.2" stroke="#d8202e" stroke-width="0.9" stroke-opacity="0.60"/>
<line x1="230.22" y1="326.6" x2="230.22" y2="333.2" stroke="#d8202e" stroke-width="0.9" stroke-opacity="0.78"/>
<line x1="230.69" y1="326.6" x2="230.69" y2="333.2" stroke="#d8202e" stroke-width="0.5" stroke-opacity="0.58"/>
<line x1="231.29" y1="326.6" x2="231.29" y2="333.2" stroke="#d8202e" stroke-width="0.6" stroke-opacity="0.85"/>
<line x1="231.94" y1="326.6" x2="231.94" y2="333.2" stroke="#d8202e" stroke-width="0.7" stroke-opacity="0.71"/>
<line x1="232.44" y1="326.6" x2="232.44" y2="333.2" stroke="#d8202e" stroke-width="0.7" stroke-opacity="0.68"/>
<line x1="232.78" y1="326.6" x2="232.78" y2="333.2" stroke="#d8202e" stroke-width="0.6" stroke-opacity="0.92"/>
<line x1="233.34" y1="326.6" x2="233.34" y2="333.2" stroke="#d8202e" stroke-width="0.9" stroke-opacity="0.82"/>
<line x1="233.82" y1="326.6" x2="233.82" y2="333.2" stroke="#d8202e" stroke-width="0.6" stroke-opacity="0.62"/>
<line x1="234.26" y1="326.6" x2="234.26" y2="333.2" stroke="#d8202e" stroke-width="0.6" stroke-opacity="0.85"/>
<line x1="234.78" y1="326.6" x2="234.78" y2="333.2" stroke="#d8202e" stroke-width="0.9" stroke-opacity="0.59"/>
<line x1="235.07" y1="326.6" x2="235.07" y2="333.2" stroke="#d8202e" stroke-width="0.7" stroke-opacity="0.67"/>
<line x1="235.88" y1="326.6" x2="235.88" y2="333.2" stroke="#d8202e" stroke-width="0.7" stroke-opacity="0.70"/>
<line x1="236.41" y1="326.6" x2="236.41" y2="333.2" stroke="#d8202e" stroke-width="0.9" stroke-opacity="0.79"/>
<line x1="236.77" y1="326.6" x2="236.77" y2="333.2" stroke="#d8202e" stroke-width="0.5" stroke-opacity="0.67"/>
<line x1="237.3" y1="326.6" x2="237.3" y2="333.2" stroke="#d8202e" stroke-width="0.9" stroke-opacity="0.60"/>
<line x1="237.65" y1="326.6" x2="237.65" y2="333.2" stroke="#d8202e" stroke-width="0.5" stroke-opacity="0.80"/>
<line x1="238.43" y1="326.6" x2="238.43" y2="333.2" stroke="#d8202e" stroke-width="0.5" stroke-opacity="0.63"/>
<line x1="238.57" y1="326.6" x2="238.57" y2="333.2" stroke="#d8202e" stroke-width="0.5" stroke-opacity="0.74"/>
<line x1="239.12" y1="326.6" x2="239.12" y2="333.2" stroke="#d8202e" stroke-width="0.5" stroke-opacity="0.65"/>
<line x1="239.94" y1="326.6" x2="239.94" y2="333.2" stroke="#d8202e" stroke-width="0.5" stroke-opacity="0.91"/>
<line x1="240.27" y1="326.6" x2="240.27" y2="333.2" stroke="#d8202e" stroke-width="0.5" stroke-opacity="0.99"/>
<line x1="240.69" y1="326.6" x2="240.69" y2="333.2" stroke="#d8202e" stroke-width="0.9" stroke-opacity="0.99"/>
<line x1="241.25" y1="326.6" x2="241.25" y2="333.2" stroke="#d8202e" stroke-width="0.7" stroke-opacity="0.57"/>
<line x1="241.74" y1="326.6" x2="241.74" y2="333.2" stroke="#d8202e" stroke-width="0.9" stroke-opacity="0.64"/>
<line x1="242.43" y1="326.6" x2="242.43" y2="333.2" stroke="#d8202e" stroke-width="0.5" stroke-opacity="0.65"/>
<line x1="242.77" y1="326.6" x2="242.77" y2="333.2" stroke="#d8202e" stroke-width="0.6" stroke-opacity="0.84"/>
<line x1="243.15" y1="326.6" x2="243.15" y2="333.2" stroke="#d8202e" stroke-width="0.5" stroke-opacity="0.74"/>
<line x1="243.73" y1="326.6" x2="243.73" y2="333.2" stroke="#d8202e" stroke-width="0.9" stroke-opacity="0.70"/>
<line x1="244.38" y1="326.6" x2="244.38" y2="333.2" stroke="#d8202e" stroke-width="0.9" stroke-opacity="0.95"/>
<line x1="244.58" y1="326.6" x2="244.58" y2="333.2" stroke="#d8202e" stroke-width="0.6" stroke-opacity="0.98"/>
<line x1="245.27" y1="326.6" x2="245.27" y2="333.2" stroke="#d8202e" stroke-width="0.7" stroke-opacity="0.74"/>
<line x1="245.86" y1="326.6" x2="245.86" y2="333.2" stroke="#d8202e" stroke-width="0.5" stroke-opacity="0.80"/>
<line x1="246.38" y1="326.6" x2="246.38" y2="333.2" stroke="#d8202e" stroke-width="0.6" stroke-opacity="0.60"/>
<line x1="246.68" y1="326.6" x2="246.68" y2="333.2" stroke="#d8202e" stroke-width="0.9" stroke-opacity="0.80"/>
<line x1="247.15" y1="326.6" x2="247.15" y2="333.2" stroke="#d8202e" stroke-width="0.5" stroke-opacity="0.98"/>
<line x1="247.69" y1="326.6" x2="247.69" y2="333.2" stroke="#d8202e" stroke-width="0.5" stroke-opacity="0.86"/>
<line x1="248.14" y1="326.6" x2="248.14" y2="333.2" stroke="#d8202e" stroke-width="0.9" stroke-opacity="0.80"/>
<line x1="248.87" y1="326.6" x2="248.87" y2="333.2" stroke="#d8202e" stroke-width="0.7" stroke-opacity="0.99"/>
<line x1="249.05" y1="326.6" x2="249.05" y2="333.2" stroke="#d8202e" stroke-width="0.6" stroke-opacity="0.72"/>
<line x1="249.85" y1="326.6" x2="249.85" y2="333.2" stroke="#d8202e" stroke-width="0.5" stroke-opacity="0.73"/>
<line x1="250.12" y1="326.6" x2="250.12" y2="333.2" stroke="#d8202e" stroke-width="0.9" stroke-opacity="0.75"/>
<line x1="250.93" y1="326.6" x2="250.93" y2="333.2" stroke="#d8202e" stroke-width="0.7" stroke-opacity="0.74"/>
<line x1="251.24" y1="326.6" x2="251.24" y2="333.2" stroke="#d8202e" stroke-width="0.6" stroke-opacity="0.86"/>
<line x1="251.76" y1="326.6" x2="251.76" y2="333.2" stroke="#d8202e" stroke-width="0.5" stroke-opacity="0.68"/>
<line x1="252.14" y1="326.6" x2="252.14" y2="333.2" stroke="#d8202e" stroke-width="0.9" stroke-opacity="0.58"/>
<line x1="252.7" y1="326.6" x2="252.7" y2="333.2" stroke="#d8202e" stroke-width="0.9" stroke-opacity="0.56"/>
<line x1="253.29" y1="326.6" x2="253.29" y2="333.2" stroke="#d8202e" stroke-width="0.7" stroke-opacity="0.68"/>
<line x1="253.71" y1="326.6" x2="253.71" y2="333.2" stroke="#d8202e" stroke-width="0.7" stroke-opacity="0.91"/>
<line x1="254.43" y1="326.6" x2="254.43" y2="333.2" stroke="#d8202e" stroke-width="0.9" stroke-opacity="0.70"/>
<line x1="254.57" y1="326.6" x2="254.57" y2="333.2" stroke="#d8202e" stroke-width="0.9" stroke-opacity="0.95"/>
<line x1="255.35" y1="326.6" x2="255.35" y2="333.2" stroke="#d8202e" stroke-width="0.7" stroke-opacity="0.95"/>
<line x1="264.17" y1="326.6" x2="264.17" y2="333.2" stroke="#d8202e" stroke-width="0.7" stroke-opacity="0.59"/>
<line x1="268.29" y1="326.6" x2="268.29" y2="333.2" stroke="#d8202e" stroke-width="0.7" stroke-opacity="0.47"/>
<line x1="269.28" y1="326.6" x2="269.28" y2="333.2" stroke="#d8202e" stroke-width="0.5" stroke-opacity="0.63"/>
<line x1="273.06" y1="326.6" x2="273.06" y2="333.2" stroke="#d8202e" stroke-width="0.5" stroke-opacity="0.78"/>
<line x1="277.93" y1="326.6" x2="277.93" y2="333.2" stroke="#d8202e" stroke-width="0.5" stroke-opacity="0.53"/>
<line x1="279.64" y1="326.6" x2="279.64" y2="333.2" stroke="#d8202e" stroke-width="0.9" stroke-opacity="0.89"/>
<line x1="282.42" y1="326.6" x2="282.42" y2="333.2" stroke="#d8202e" stroke-width="0.7" stroke-opacity="0.80"/>
<line x1="285.56" y1="326.6" x2="285.56" y2="333.2" stroke="#d8202e" stroke-width="0.5" stroke-opacity="0.64"/>
<line x1="286.53" y1="326.6" x2="286.53" y2="333.2" stroke="#d8202e" stroke-width="0.7" stroke-opacity="0.61"/>
<line x1="287.61" y1="326.6" x2="287.61" y2="333.2" stroke="#d8202e" stroke-width="0.6" stroke-opacity="0.35"/>
<line x1="288.41" y1="326.6" x2="288.41" y2="333.2" stroke="#d8202e" stroke-width="0.6" stroke-opacity="0.37"/>
<line x1="290.15" y1="326.6" x2="290.15" y2="333.2" stroke="#d8202e" stroke-width="0.6" stroke-opacity="0.38"/>
<line x1="291.09" y1="326.6" x2="291.09" y2="333.2" stroke="#d8202e" stroke-width="0.7" stroke-opacity="0.48"/>
<line x1="291.8" y1="326.6" x2="291.8" y2="333.2" stroke="#d8202e" stroke-width="0.5" stroke-opacity="0.76"/>
<line x1="292.82" y1="326.6" x2="292.82" y2="333.2" stroke="#d8202e" stroke-width="0.7" stroke-opacity="0.65"/>
<line x1="293.35" y1="326.6" x2="293.35" y2="333.2" stroke="#d8202e" stroke-width="0.6" stroke-opacity="0.51"/>
<line x1="295" y1="326.6" x2="295" y2="333.2" stroke="#d8202e" stroke-width="0.9" stroke-opacity="0.42"/>
<line x1="296.1" y1="326.6" x2="296.1" y2="333.2" stroke="#d8202e" stroke-width="0.6" stroke-opacity="0.75"/>
<line x1="296.73" y1="326.6" x2="296.73" y2="333.2" stroke="#d8202e" stroke-width="0.9" stroke-opacity="0.82"/>
<line x1="297.82" y1="326.6" x2="297.82" y2="333.2" stroke="#d8202e" stroke-width="0.6" stroke-opacity="0.62"/>
<line x1="298.88" y1="326.6" x2="298.88" y2="333.2" stroke="#d8202e" stroke-width="0.7" stroke-opacity="0.86"/>
<line x1="299.64" y1="326.6" x2="299.64" y2="333.2" stroke="#d8202e" stroke-width="0.6" stroke-opacity="0.70"/>
<line x1="300.55" y1="326.6" x2="300.55" y2="333.2" stroke="#d8202e" stroke-width="0.7" stroke-opacity="0.89"/>
<line x1="301.92" y1="326.6" x2="301.92" y2="333.2" stroke="#d8202e" stroke-width="0.9" stroke-opacity="0.32"/>
<line x1="302.53" y1="326.6" x2="302.53" y2="333.2" stroke="#d8202e" stroke-width="0.6" stroke-opacity="0.43"/>
<line x1="303.41" y1="326.6" x2="303.41" y2="333.2" stroke="#d8202e" stroke-width="0.5" stroke-opacity="0.54"/>
<line x1="304.27" y1="326.6" x2="304.27" y2="333.2" stroke="#d8202e" stroke-width="0.9" stroke-opacity="0.74"/>
<line x1="305.88" y1="326.6" x2="305.88" y2="333.2" stroke="#d8202e" stroke-width="0.9" stroke-opacity="0.65"/>
<line x1="306.51" y1="326.6" x2="306.51" y2="333.2" stroke="#d8202e" stroke-width="0.5" stroke-opacity="0.87"/>
<line x1="307.74" y1="326.6" x2="307.74" y2="333.2" stroke="#d8202e" stroke-width="0.6" stroke-opacity="0.57"/>
<line x1="308.52" y1="326.6" x2="308.52" y2="333.2" stroke="#d8202e" stroke-width="0.9" stroke-opacity="0.52"/>
<line x1="309.96" y1="326.6" x2="309.96" y2="333.2" stroke="#d8202e" stroke-width="0.9" stroke-opacity="0.62"/>
<line x1="310.83" y1="326.6" x2="310.83" y2="333.2" stroke="#d8202e" stroke-width="0.9" stroke-opacity="0.41"/>
<line x1="311.95" y1="326.6" x2="311.95" y2="333.2" stroke="#d8202e" stroke-width="0.9" stroke-opacity="0.70"/>
<line x1="312.94" y1="326.6" x2="312.94" y2="333.2" stroke="#d8202e" stroke-width="0.5" stroke-opacity="0.57"/>
<line x1="313.47" y1="326.6" x2="313.47" y2="333.2" stroke="#d8202e" stroke-width="0.5" stroke-opacity="0.53"/>
<line x1="314.73" y1="326.6" x2="314.73" y2="333.2" stroke="#d8202e" stroke-width="0.7" stroke-opacity="0.55"/>
<line x1="315.91" y1="326.6" x2="315.91" y2="333.2" stroke="#d8202e" stroke-width="0.7" stroke-opacity="0.74"/>
<line x1="316.7" y1="326.6" x2="316.7" y2="333.2" stroke="#d8202e" stroke-width="0.5" stroke-opacity="0.39"/>
<line x1="317.72" y1="326.6" x2="317.72" y2="333.2" stroke="#d8202e" stroke-width="0.9" stroke-opacity="0.79"/>
<line x1="318.54" y1="326.6" x2="318.54" y2="333.2" stroke="#d8202e" stroke-width="0.5" stroke-opacity="0.37"/>
<line x1="319.44" y1="326.6" x2="319.44" y2="333.2" stroke="#d8202e" stroke-width="0.7" stroke-opacity="0.71"/>
<line x1="320.19" y1="326.6" x2="320.19" y2="333.2" stroke="#d8202e" stroke-width="0.6" stroke-opacity="0.31"/>
<line x1="321.51" y1="326.6" x2="321.51" y2="333.2" stroke="#d8202e" stroke-width="0.7" stroke-opacity="0.42"/>
<line x1="322.7" y1="326.6" x2="322.7" y2="333.2" stroke="#d8202e" stroke-width="0.7" stroke-opacity="0.49"/>
<line x1="323.41" y1="326.6" x2="323.41" y2="333.2" stroke="#d8202e" stroke-width="0.7" stroke-opacity="0.85"/>
<line x1="324.33" y1="326.6" x2="324.33" y2="333.2" stroke="#d8202e" stroke-width="0.6" stroke-opacity="0.74"/>
<line x1="325.68" y1="326.6" x2="325.68" y2="333.2" stroke="#d8202e" stroke-width="0.6" stroke-opacity="0.64"/>
<line x1="326.09" y1="326.6" x2="326.09" y2="333.2" stroke="#d8202e" stroke-width="0.6" stroke-opacity="0.77"/>
<line x1="327.56" y1="326.6" x2="327.56" y2="333.2" stroke="#d8202e" stroke-width="0.7" stroke-opacity="0.37"/>
<line x1="328.79" y1="326.6" x2="328.79" y2="333.2" stroke="#d8202e" stroke-width="0.5" stroke-opacity="0.37"/>
<line x1="329.67" y1="326.6" x2="329.67" y2="333.2" stroke="#d8202e" stroke-width="0.5" stroke-opacity="0.88"/>
<line x1="330.58" y1="326.6" x2="330.58" y2="333.2" stroke="#d8202e" stroke-width="0.5" stroke-opacity="0.87"/>
<line x1="338.77" y1="326.6" x2="338.77" y2="333.2" stroke="#d8202e" stroke-width="0.9" stroke-opacity="0.35"/>
<line x1="222.6" y1="319.2" x2="345.6" y2="319.2" stroke="#222" stroke-width="1.1"/>
<line x1="222.6" y1="319.2" x2="345.6" y2="319.2" stroke="#333" stroke-width="1.2" stroke-dasharray="5.4 6.2"/>
<line x1="222.6" y1="284.1" x2="345.6" y2="284.1" stroke="#444" stroke-width="1.0" stroke-dasharray="5.4 6.2"/>
<path d="M228.2 319.67 L228.28 317.74 L228.41 315.05 L228.6 312.08 L228.87 309.49 L229.21 306.29 L229.6 303.71 L230.02 301.21 L230.48 299.12 L231 296.9 L231.54 295.17 L232.14 293.6 L232.9 292.22 L233.95 291.09 L235.15 290.38 L236.2 289.38 L236.9 288.38 L237.45 287.02 L238.1 286.14 L238.89 285.68 L239.79 285.56 L240.9 285.08 L242.36 284.72 L244.03 284.55 L245.7 284.16 L247.24 284.53 L248.76 284.74 L250.4 285.13 L252.19 285.94 L254.1 286.72 L256.1 287.55 L258.16 288.82 L260.33 289.93 L262.7 291.43 L265.43 292.92 L268.36 294.62 L271.2 296.04 L273.75 297.52 L276.2 299.04 L278.8 300.4 L281.67 302.01 L284.69 303.59 L287.8 305.05 L291.08 306.37 L294.45 307.36 L297.6 308.45 L300.34 309.33 L302.87 310.12 L305.4 311.18 L308.03 311.79 L310.67 312.7 L313.3 313.42 L316.01 314.09 L318.72 314.66 L321.1 315.15 L322.95 315.12 L324.47 314.72 L326 314.69 L327.67 314.89 L329.34 315.15 L330.9 315.61 L332.27 316.32 L333.54 317.39 L334.8 318.05 L336.24 318.9 L337.69 319.55 L338.7 320.11" fill="none" stroke="#e5646b" stroke-width="1.45" stroke-linejoin="round" stroke-linecap="round"/>
<text x="339" y="291.6" font-size="8.1" text-anchor="end" fill="#111">NES 2.2324</text>
<text x="339" y="301.6" font-size="8.1" text-anchor="end" fill="#111"><tspan font-style="italic">P</tspan><tspan font-size="4.6" dy="2">adj</tspan><tspan dy="-2"> 5.3x10</tspan><tspan font-size="4.6" dy="-2.9">−11</tspan></text>
<text x="357.5" y="6.8" font-size="11" font-weight="bold" fill="#000">c</text>
<rect x="404.5" y="0.4" width="55.9" height="14.8" fill="#fff" stroke="#333" stroke-width="0.95" rx="0.6"/>
<text x="432.45" y="10.4" font-size="7.4" text-anchor="middle">Complex I</text>
<circle cx="409.4" cy="20.5" r="2.25" fill="#f7951f"/>
<circle cx="417.17" cy="20.5" r="2.25" fill="#f9aa1c"/>
<circle cx="424.94" cy="20.5" r="2.25" fill="#f9aa1c"/>
<circle cx="432.71" cy="20.5" r="2.25" fill="#fde2a2"/>
<circle cx="440.48" cy="20.5" r="2.25" fill="#f7951f"/>
<circle cx="448.25" cy="20.5" r="2.25" fill="#f9aa1c"/>
<circle cx="456.02" cy="20.5" r="2.25" fill="#f7951f"/>
<circle cx="409.4" cy="29.05" r="2.25" fill="#8c99cd"/>
<circle cx="417.17" cy="29.05" r="2.25" fill="#f9aa1c"/>
<circle cx="424.94" cy="29.05" r="2.25" fill="#fdf3da"/>
<circle cx="440.48" cy="29.05" r="2.25" fill="#f9aa1c"/>
<circle cx="448.25" cy="29.05" r="2.25" fill="#fcd35e"/>
<circle cx="456.02" cy="29.05" r="2.25" fill="#fac31a"/>
<circle cx="409.4" cy="37.6" r="2.25" fill="#27398d"/>
<circle cx="417.17" cy="37.6" r="2.25" fill="#f47d22"/>
<circle cx="424.94" cy="37.6" r="2.25" fill="#fac31a"/>
<circle cx="432.71" cy="37.6" r="2.25" fill="#8c99cd"/>
<circle cx="440.48" cy="37.6" r="2.25" fill="#27398d"/>
<circle cx="448.25" cy="37.6" r="2.25" fill="#f9aa1c"/>
<circle cx="456.02" cy="37.6" r="2.25" fill="#f9aa1c"/>
<circle cx="409.4" cy="46.15" r="2.25" fill="#27398d"/>
<circle cx="417.17" cy="46.15" r="2.25" fill="#fac31a"/>
<circle cx="424.94" cy="46.15" r="2.25" fill="#fcd35e"/>
<circle cx="432.71" cy="46.15" r="2.25" fill="#f47d22"/>
<circle cx="440.48" cy="46.15" r="2.25" fill="#27398d"/>
<circle cx="448.25" cy="46.15" r="2.25" fill="#f7951f"/>
<circle cx="456.02" cy="46.15" r="2.25" fill="#f9aa1c"/>
<circle cx="409.4" cy="54.7" r="2.25" fill="#fde2a2"/>
<circle cx="417.17" cy="54.7" r="2.25" fill="#f9aa1c"/>
<circle cx="424.94" cy="54.7" r="2.25" fill="#fcd35e"/>
<circle cx="432.71" cy="54.7" r="2.25" fill="#f9aa1c"/>
<circle cx="440.48" cy="54.7" r="2.25" fill="#fcd35e"/>
<circle cx="448.25" cy="54.7" r="2.25" fill="#fac31a"/>
<circle cx="456.02" cy="54.7" r="2.25" fill="#fac31a"/>
<circle cx="409.4" cy="63.25" r="2.25" fill="#fde2a2"/>
<circle cx="417.17" cy="63.25" r="2.25" fill="#f9aa1c"/>
<circle cx="424.94" cy="63.25" r="2.25" fill="#fcd35e"/>
<circle cx="432.71" cy="63.25" r="2.25" fill="#fde2a2"/>
<circle cx="440.48" cy="63.25" r="2.25" fill="#fde2a2"/>
<circle cx="448.25" cy="63.25" r="2.25" fill="#fcd35e"/>
<circle cx="456.02" cy="63.25" r="2.25" fill="#fde2a2"/>
<circle cx="409.4" cy="71.8" r="4" fill="#fcd35e"/>
<circle cx="417.17" cy="71.8" r="4" fill="#fac31a"/>
<circle cx="424.94" cy="71.8" r="4" fill="#fcd35e"/>
<circle cx="432.71" cy="71.8" r="4" fill="#fde2a2"/>
<circle cx="440.48" cy="71.8" r="4" fill="#fcd35e"/>
<circle cx="448.25" cy="71.8" r="4" fill="#fcd35e"/>
<circle cx="456.02" cy="71.8" r="4" fill="#fde2a2"/>
<circle cx="409.4" cy="80.35" r="4" fill="#fac31a"/>
<circle cx="417.17" cy="80.35" r="4" fill="#f9aa1c"/>
<circle cx="424.94" cy="80.35" r="4" fill="#fac31a"/>
<circle cx="432.71" cy="80.35" r="4" fill="#fac31a"/>
<circle cx="440.48" cy="80.35" r="4" fill="#fac31a"/>
<circle cx="448.25" cy="80.35" r="4" fill="#fac31a"/>
<circle cx="456.02" cy="80.35" r="4" fill="#fcd35e"/>
<circle cx="409.4" cy="88.9" r="2.25" fill="#fac31a"/>
<circle cx="417.17" cy="88.9" r="3.15" fill="#fcd35e"/>
<circle cx="424.94" cy="88.9" r="3.15" fill="#fac31a"/>
<circle cx="432.71" cy="88.9" r="2.25" fill="#fcd35e"/>
<circle cx="440.48" cy="88.9" r="2.25" fill="#fcd35e"/>
<circle cx="448.25" cy="88.9" r="3.15" fill="#fcd35e"/>
<circle cx="456.02" cy="88.9" r="2.25" fill="#fac31a"/>
<circle cx="409.4" cy="97.45" r="4" fill="#fac31a"/>
<circle cx="417.17" cy="97.45" r="4" fill="#fac31a"/>
<circle cx="424.94" cy="97.45" r="4" fill="#fac31a"/>
<circle cx="432.71" cy="97.45" r="4" fill="#fac31a"/>
<circle cx="440.48" cy="97.45" r="2.25" fill="#fde2a2"/>
<circle cx="448.25" cy="97.45" r="4" fill="#fcd35e"/>
<circle cx="456.02" cy="97.45" r="3.15" fill="#fcd35e"/>
<circle cx="409.4" cy="106" r="2.25" fill="#fde2a2"/>
<circle cx="417.17" cy="106" r="2.25" fill="#f9aa1c"/>
<circle cx="424.94" cy="106" r="2.25" fill="#fde2a2"/>
<circle cx="432.71" cy="106" r="2.25" fill="#fcd35e"/>
<circle cx="448.25" cy="106" r="2.25" fill="#fde2a2"/>
<circle cx="456.02" cy="106" r="2.25" fill="#fde2a2"/>
<circle cx="409.4" cy="114.55" r="2.25" fill="#f0602b"/>
<circle cx="417.17" cy="114.55" r="2.25" fill="#f7951f"/>
<circle cx="424.94" cy="114.55" r="2.25" fill="#fac31a"/>
<circle cx="432.71" cy="114.55" r="2.25" fill="#f0602b"/>
<circle cx="440.48" cy="114.55" r="2.25" fill="#f7951f"/>
<circle cx="448.25" cy="114.55" r="2.25" fill="#f0602b"/>
<circle cx="456.02" cy="114.55" r="2.25" fill="#f7951f"/>
<circle cx="409.4" cy="123.1" r="4" fill="#fac31a"/>
<circle cx="417.17" cy="123.1" r="4" fill="#fac31a"/>
<circle cx="424.94" cy="123.1" r="4" fill="#fac31a"/>
<circle cx="432.71" cy="123.1" r="4" fill="#fac31a"/>
<circle cx="440.48" cy="123.1" r="4" fill="#fac31a"/>
<circle cx="448.25" cy="123.1" r="4" fill="#fac31a"/>
<circle cx="456.02" cy="123.1" r="4" fill="#fac31a"/>
<line x1="404.5" y1="128.4" x2="460.4" y2="128.4" stroke="#333" stroke-width="1.0"/>
<line x1="409.4" y1="128.4" x2="409.4" y2="130.4" stroke="#333" stroke-width="0.8"/>
<text x="412.3" y="132" font-size="8.3" text-anchor="end" font-style="italic" transform="rotate(-90 412.3 132)">Ndufb8</text>
<line x1="417.17" y1="128.4" x2="417.17" y2="130.4" stroke="#333" stroke-width="0.8"/>
<text x="420.07" y="132" font-size="8.3" text-anchor="end" font-style="italic" transform="rotate(-90 420.07 132)">Ndufa13</text>
<line x1="424.94" y1="128.4" x2="424.94" y2="130.4" stroke="#333" stroke-width="0.8"/>
<text x="427.84" y="132" font-size="8.3" text-anchor="end" font-style="italic" transform="rotate(-90 427.84 132)">Ndufb9</text>
<line x1="432.71" y1="128.4" x2="432.71" y2="130.4" stroke="#333" stroke-width="0.8"/>
<text x="435.61" y="132" font-size="8.3" text-anchor="end" font-style="italic" transform="rotate(-90 435.61 132)">Ndufb5</text>
<line x1="440.48" y1="128.4" x2="440.48" y2="130.4" stroke="#333" stroke-width="0.8"/>
<text x="443.38" y="132" font-size="8.3" text-anchor="end" font-style="italic" transform="rotate(-90 443.38 132)">Ndufb7</text>
<line x1="448.25" y1="128.4" x2="448.25" y2="130.4" stroke="#333" stroke-width="0.8"/>
<text x="451.15" y="132" font-size="8.3" text-anchor="end" font-style="italic" transform="rotate(-90 451.15 132)">Ndufc2</text>
<line x1="456.02" y1="128.4" x2="456.02" y2="130.4" stroke="#333" stroke-width="0.8"/>
<text x="458.92" y="132" font-size="8.3" text-anchor="end" font-style="italic" transform="rotate(-90 458.92 132)">Ndufb11</text>
<line x1="404.5" y1="15.2" x2="404.5" y2="128.4" stroke="#333" stroke-width="1.0"/>
<line x1="402.5" y1="20.5" x2="404.5" y2="20.5" stroke="#333" stroke-width="0.8"/>
<text x="399.7" y="23.4" font-size="8.1" text-anchor="end">NK</text>
<line x1="402.5" y1="29.05" x2="404.5" y2="29.05" stroke="#333" stroke-width="0.8"/>
<text x="399.7" y="31.95" font-size="8.1" text-anchor="end">CD8 T cell</text>
<line x1="402.5" y1="37.6" x2="404.5" y2="37.6" stroke="#333" stroke-width="0.8"/>
<text x="399.7" y="40.5" font-size="8.1" text-anchor="end">CD4 T cell</text>
<line x1="402.5" y1="46.15" x2="404.5" y2="46.15" stroke="#333" stroke-width="0.8"/>
<text x="399.7" y="49.05" font-size="8.1" text-anchor="end" fill="#1a1a1a"><tspan font-family="Liberation Serif" font-size="8.1">γδ</tspan> T cell</text>
<line x1="402.5" y1="54.7" x2="404.5" y2="54.7" stroke="#333" stroke-width="0.8"/>
<text x="399.7" y="57.6" font-size="8.1" text-anchor="end">Treg</text>
<line x1="402.5" y1="63.25" x2="404.5" y2="63.25" stroke="#333" stroke-width="0.8"/>
<text x="399.7" y="66.15" font-size="8.1" text-anchor="end">TAN</text>
<line x1="402.5" y1="71.8" x2="404.5" y2="71.8" stroke="#333" stroke-width="0.8"/>
<text x="399.7" y="74.7" font-size="8.1" text-anchor="end">Mono</text>
<line x1="402.5" y1="80.35" x2="404.5" y2="80.35" stroke="#333" stroke-width="0.8"/>
<text x="399.7" y="83.25" font-size="8.1" text-anchor="end">TAM</text>
<line x1="402.5" y1="88.9" x2="404.5" y2="88.9" stroke="#333" stroke-width="0.8"/>
<text x="399.7" y="91.8" font-size="8.1" text-anchor="end">cDC1</text>
<line x1="402.5" y1="97.45" x2="404.5" y2="97.45" stroke="#333" stroke-width="0.8"/>
<text x="399.7" y="100.35" font-size="8.1" text-anchor="end">cDC2</text>
<line x1="402.5" y1="106" x2="404.5" y2="106" stroke="#333" stroke-width="0.8"/>
<text x="399.7" y="108.9" font-size="8.1" text-anchor="end">mregDC</text>
<line x1="402.5" y1="114.55" x2="404.5" y2="114.55" stroke="#333" stroke-width="0.8"/>
<text x="399.7" y="117.45" font-size="8.1" text-anchor="end">pDC</text>
<line x1="402.5" y1="123.1" x2="404.5" y2="123.1" stroke="#333" stroke-width="0.8"/>
<text x="399.7" y="126" font-size="8.1" text-anchor="end">Dividing</text>
<rect x="464.4" y="0.4" width="40.3" height="14.8" fill="#fff" stroke="#333" stroke-width="0.95" rx="0.6"/>
<text x="484.55" y="10.4" font-size="7.4" text-anchor="middle">Complex II</text>
<circle cx="469.5" cy="20.5" r="2.25" fill="#fdf3da"/>
<circle cx="477.16" cy="20.5" r="2.25" fill="#fac31a"/>
<circle cx="484.82" cy="20.5" r="2.25" fill="#f9aa1c"/>
<circle cx="492.48" cy="20.5" r="2.25" fill="#5064ad"/>
<circle cx="500.14" cy="20.5" r="2.25" fill="#e1e4f1"/>
<circle cx="469.5" cy="29.05" r="2.25" fill="#5064ad"/>
<circle cx="477.16" cy="29.05" r="2.25" fill="#5064ad"/>
<circle cx="484.82" cy="29.05" r="2.25" fill="#e1e4f1"/>
<circle cx="492.48" cy="29.05" r="2.25" fill="#b9c0e1"/>
<circle cx="500.14" cy="29.05" r="2.25" fill="#27398d"/>
<circle cx="469.5" cy="37.6" r="2.25" fill="#f7951f"/>
<circle cx="477.16" cy="37.6" r="2.25" fill="#fdf3da"/>
<circle cx="484.82" cy="37.6" r="2.25" fill="#fdf3da"/>
<circle cx="492.48" cy="37.6" r="2.25" fill="#e1e4f1"/>
<circle cx="500.14" cy="37.6" r="2.25" fill="#5064ad"/>
<circle cx="469.5" cy="46.15" r="2.25" fill="#f7951f"/>
<circle cx="477.16" cy="46.15" r="2.25" fill="#27398d"/>
<circle cx="484.82" cy="46.15" r="2.25" fill="#b9c0e1"/>
<circle cx="492.48" cy="46.15" r="2.25" fill="#fde2a2"/>
<circle cx="500.14" cy="46.15" r="2.25" fill="#27398d"/>
<circle cx="469.5" cy="54.7" r="2.25" fill="#5064ad"/>
<circle cx="477.16" cy="54.7" r="2.25" fill="#fac31a"/>
<circle cx="484.82" cy="54.7" r="2.25" fill="#27398d"/>
<circle cx="492.48" cy="54.7" r="2.25" fill="#fcd35e"/>
<circle cx="500.14" cy="54.7" r="2.25" fill="#8c99cd"/>
<circle cx="469.5" cy="63.25" r="2.25" fill="#fde2a2"/>
<circle cx="477.16" cy="63.25" r="2.25" fill="#b9c0e1"/>
<circle cx="484.82" cy="63.25" r="2.25" fill="#fdf3da"/>
<circle cx="492.48" cy="63.25" r="2.25" fill="#e1e4f1"/>
<circle cx="500.14" cy="63.25" r="2.25" fill="#fcd35e"/>
<circle cx="469.5" cy="71.8" r="4" fill="#fcd35e"/>
<circle cx="477.16" cy="71.8" r="4" fill="#fdf3da"/>
<circle cx="484.82" cy="71.8" r="2.25" fill="#fdf3da"/>
<circle cx="492.48" cy="71.8" r="2.25" fill="#fde2a2"/>
<circle cx="500.14" cy="71.8" r="4" fill="#b9c0e1"/>
<circle cx="469.5" cy="80.35" r="4" fill="#fde2a2"/>
<circle cx="477.16" cy="80.35" r="2.25" fill="#fdf3da"/>
<circle cx="484.82" cy="80.35" r="2.25" fill="#fde2a2"/>
<circle cx="492.48" cy="80.35" r="2.25" fill="#fde2a2"/>
<circle cx="500.14" cy="80.35" r="2.25" fill="#fdf3da"/>
<circle cx="469.5" cy="88.9" r="2.25" fill="#fac31a"/>
<circle cx="477.16" cy="88.9" r="2.25" fill="#b9c0e1"/>
<circle cx="484.82" cy="88.9" r="2.25" fill="#fdf3da"/>
<circle cx="492.48" cy="88.9" r="2.25" fill="#fdf3da"/>
<circle cx="469.5" cy="97.45" r="2.25" fill="#fcd35e"/>
<circle cx="477.16" cy="97.45" r="2.25" fill="#fdf3da"/>
<circle cx="492.48" cy="97.45" r="2.25" fill="#fde2a2"/>
<circle cx="500.14" cy="97.45" r="2.25" fill="#8c99cd"/>
<circle cx="469.5" cy="106" r="2.25" fill="#fcd35e"/>
<circle cx="477.16" cy="106" r="2.25" fill="#e1e4f1"/>
<circle cx="484.82" cy="106" r="2.25" fill="#e1e4f1"/>
<circle cx="492.48" cy="106" r="2.25" fill="#fde2a2"/>
<circle cx="500.14" cy="106" r="2.25" fill="#e1e4f1"/>
<circle cx="469.5" cy="114.55" r="2.25" fill="#fac31a"/>
<circle cx="477.16" cy="114.55" r="2.25" fill="#27398d"/>
<circle cx="484.82" cy="114.55" r="2.25" fill="#fcd35e"/>
<circle cx="492.48" cy="114.55" r="2.25" fill="#fac31a"/>
<circle cx="469.5" cy="123.1" r="3.15" fill="#fde2a2"/>
<circle cx="484.82" cy="123.1" r="2.25" fill="#fde2a2"/>
<circle cx="492.48" cy="123.1" r="2.25" fill="#fde2a2"/>
<circle cx="500.14" cy="123.1" r="2.25" fill="#fdf3da"/>
<line x1="464.4" y1="128.4" x2="504.7" y2="128.4" stroke="#333" stroke-width="1.0"/>
<line x1="469.5" y1="128.4" x2="469.5" y2="130.4" stroke="#333" stroke-width="0.8"/>
<text x="472.4" y="132" font-size="8.3" text-anchor="end" font-style="italic" transform="rotate(-90 472.4 132)">Sdhb</text>
<line x1="477.16" y1="128.4" x2="477.16" y2="130.4" stroke="#333" stroke-width="0.8"/>
<text x="480.06" y="132" font-size="8.3" text-anchor="end" font-style="italic" transform="rotate(-90 480.06 132)">Sdhaf2</text>
<line x1="484.82" y1="128.4" x2="484.82" y2="130.4" stroke="#333" stroke-width="0.8"/>
<text x="487.72" y="132" font-size="8.3" text-anchor="end" font-style="italic" transform="rotate(-90 487.72 132)">Sdhc</text>
<line x1="492.48" y1="128.4" x2="492.48" y2="130.4" stroke="#333" stroke-width="0.8"/>
<text x="495.38" y="132" font-size="8.3" text-anchor="end" font-style="italic" transform="rotate(-90 495.38 132)">Sdhaf4</text>
<line x1="500.14" y1="128.4" x2="500.14" y2="130.4" stroke="#333" stroke-width="0.8"/>
<text x="503.04" y="132" font-size="8.3" text-anchor="end" font-style="italic" transform="rotate(-90 503.04 132)">Sdha</text>
<rect x="508.4" y="0.4" width="56.1" height="14.8" fill="#fff" stroke="#333" stroke-width="0.95" rx="0.6"/>
<text x="536.45" y="10.4" font-size="7.4" text-anchor="middle">Complex III</text>
<circle cx="513.4" cy="20.5" r="2.25" fill="#f47d22"/>
<circle cx="521.2" cy="20.5" r="2.25" fill="#f7951f"/>
<circle cx="529" cy="20.5" r="2.25" fill="#f47d22"/>
<circle cx="536.8" cy="20.5" r="2.25" fill="#f47d22"/>
<circle cx="544.6" cy="20.5" r="2.25" fill="#27398d"/>
<circle cx="552.4" cy="20.5" r="2.25" fill="#fac31a"/>
<circle cx="560.2" cy="20.5" r="2.25" fill="#f7951f"/>
<circle cx="513.4" cy="29.05" r="2.25" fill="#f9aa1c"/>
<circle cx="521.2" cy="29.05" r="2.25" fill="#fac31a"/>
<circle cx="529" cy="29.05" r="2.25" fill="#f7951f"/>
<circle cx="536.8" cy="29.05" r="2.25" fill="#27398d"/>
<circle cx="544.6" cy="29.05" r="2.25" fill="#8c99cd"/>
<circle cx="552.4" cy="29.05" r="2.25" fill="#5064ad"/>
<circle cx="513.4" cy="37.6" r="2.25" fill="#27398d"/>
<circle cx="521.2" cy="37.6" r="2.25" fill="#e1e4f1"/>
<circle cx="529" cy="37.6" r="2.25" fill="#b9c0e1"/>
<circle cx="536.8" cy="37.6" r="2.25" fill="#fdf3da"/>
<circle cx="544.6" cy="37.6" r="2.25" fill="#8c99cd"/>
<circle cx="552.4" cy="37.6" r="2.25" fill="#fac31a"/>
<circle cx="560.2" cy="37.6" r="2.25" fill="#27398d"/>
<circle cx="513.4" cy="46.15" r="2.25" fill="#fac31a"/>
<circle cx="521.2" cy="46.15" r="2.25" fill="#fcd35e"/>
<circle cx="529" cy="46.15" r="2.25" fill="#27398d"/>
<circle cx="544.6" cy="46.15" r="2.25" fill="#fcd35e"/>
<circle cx="552.4" cy="46.15" r="2.25" fill="#5064ad"/>
<circle cx="560.2" cy="46.15" r="2.25" fill="#8c99cd"/>
<circle cx="513.4" cy="54.7" r="2.25" fill="#fac31a"/>
<circle cx="521.2" cy="54.7" r="2.25" fill="#fcd35e"/>
<circle cx="529" cy="54.7" r="2.25" fill="#f47d22"/>
<circle cx="536.8" cy="54.7" r="2.25" fill="#fac31a"/>
<circle cx="544.6" cy="54.7" r="2.25" fill="#b9c0e1"/>
<circle cx="552.4" cy="54.7" r="2.25" fill="#b9c0e1"/>
<circle cx="560.2" cy="54.7" r="2.25" fill="#f7951f"/>
<circle cx="513.4" cy="63.25" r="2.25" fill="#fcd35e"/>
<circle cx="521.2" cy="63.25" r="2.25" fill="#fcd35e"/>
<circle cx="529" cy="63.25" r="2.25" fill="#fcd35e"/>
<circle cx="536.8" cy="63.25" r="2.25" fill="#fcd35e"/>
<circle cx="552.4" cy="63.25" r="2.25" fill="#fcd35e"/>
<circle cx="560.2" cy="63.25" r="2.25" fill="#fde2a2"/>
<circle cx="513.4" cy="71.8" r="4" fill="#fcd35e"/>
<circle cx="521.2" cy="71.8" r="4" fill="#fcd35e"/>
<circle cx="529" cy="71.8" r="4" fill="#fcd35e"/>
<circle cx="536.8" cy="71.8" r="4" fill="#fcd35e"/>
<circle cx="552.4" cy="71.8" r="2.25" fill="#fde2a2"/>
<circle cx="560.2" cy="71.8" r="2.25" fill="#fde2a2"/>
<circle cx="513.4" cy="80.35" r="4" fill="#f9aa1c"/>
<circle cx="521.2" cy="80.35" r="4" fill="#fac31a"/>
<circle cx="529" cy="80.35" r="4" fill="#fac31a"/>
<circle cx="536.8" cy="80.35" r="4" fill="#fcd35e"/>
<circle cx="544.6" cy="80.35" r="4" fill="#e1e4f1"/>
<circle cx="552.4" cy="80.35" r="4" fill="#fcd35e"/>
<circle cx="560.2" cy="80.35" r="4" fill="#fde2a2"/>
<circle cx="513.4" cy="88.9" r="2.25" fill="#fcd35e"/>
<circle cx="521.2" cy="88.9" r="2.25" fill="#fcd35e"/>
<circle cx="529" cy="88.9" r="4" fill="#f9aa1c"/>
<circle cx="536.8" cy="88.9" r="4" fill="#fac31a"/>
<circle cx="544.6" cy="88.9" r="2.25" fill="#b9c0e1"/>
<circle cx="552.4" cy="88.9" r="2.25" fill="#fcd35e"/>
<circle cx="560.2" cy="88.9" r="2.25" fill="#fcd35e"/>
<circle cx="513.4" cy="97.45" r="3.15" fill="#fcd35e"/>
<circle cx="521.2" cy="97.45" r="2.25" fill="#fcd35e"/>
<circle cx="529" cy="97.45" r="3.15" fill="#fcd35e"/>
<circle cx="536.8" cy="97.45" r="2.25" fill="#fcd35e"/>
<circle cx="544.6" cy="97.45" r="2.25" fill="#e1e4f1"/>
<circle cx="552.4" cy="97.45" r="2.25" fill="#fac31a"/>
<circle cx="560.2" cy="97.45" r="2.25" fill="#fdf3da"/>
<circle cx="513.4" cy="106" r="2.25" fill="#fcd35e"/>
<circle cx="521.2" cy="106" r="2.25" fill="#fdf3da"/>
<circle cx="529" cy="106" r="2.25" fill="#fac31a"/>
<circle cx="536.8" cy="106" r="2.25" fill="#fde2a2"/>
<circle cx="552.4" cy="106" r="2.25" fill="#fde2a2"/>
<circle cx="560.2" cy="106" r="2.25" fill="#fde2a2"/>
<circle cx="513.4" cy="114.55" r="2.25" fill="#fde2a2"/>
<circle cx="521.2" cy="114.55" r="2.25" fill="#f7951f"/>
<circle cx="529" cy="114.55" r="2.25" fill="#f47d22"/>
<circle cx="536.8" cy="114.55" r="2.25" fill="#f7951f"/>
<circle cx="544.6" cy="114.55" r="2.25" fill="#fde2a2"/>
<circle cx="552.4" cy="114.55" r="2.25" fill="#fde2a2"/>
<circle cx="560.2" cy="114.55" r="2.25" fill="#f7951f"/>
<circle cx="513.4" cy="123.1" r="4" fill="#f9aa1c"/>
<circle cx="521.2" cy="123.1" r="4" fill="#fcd35e"/>
<circle cx="529" cy="123.1" r="4" fill="#fac31a"/>
<circle cx="536.8" cy="123.1" r="4" fill="#fcd35e"/>
<circle cx="544.6" cy="123.1" r="2.25" fill="#8c99cd"/>
<circle cx="552.4" cy="123.1" r="2.25" fill="#fde2a2"/>
<circle cx="560.2" cy="123.1" r="2.25" fill="#fcd35e"/>
<line x1="508.4" y1="128.4" x2="564.5" y2="128.4" stroke="#333" stroke-width="1.0"/>
<line x1="513.4" y1="128.4" x2="513.4" y2="130.4" stroke="#333" stroke-width="0.8"/>
<text x="516.3" y="132" font-size="8.3" text-anchor="end" font-style="italic" transform="rotate(-90 516.3 132)">Uqcrh</text>
<line x1="521.2" y1="128.4" x2="521.2" y2="130.4" stroke="#333" stroke-width="0.8"/>
<text x="524.1" y="132" font-size="8.3" text-anchor="end" font-style="italic" transform="rotate(-90 524.1 132)">Uqcr10</text>
<line x1="529" y1="128.4" x2="529" y2="130.4" stroke="#333" stroke-width="0.8"/>
<text x="531.9" y="132" font-size="8.3" text-anchor="end" font-style="italic" transform="rotate(-90 531.9 132)">Uqcrb</text>
<line x1="536.8" y1="128.4" x2="536.8" y2="130.4" stroke="#333" stroke-width="0.8"/>
<text x="539.7" y="132" font-size="8.3" text-anchor="end" font-style="italic" transform="rotate(-90 539.7 132)">Uqcrq</text>
<line x1="544.6" y1="128.4" x2="544.6" y2="130.4" stroke="#333" stroke-width="0.8"/>
<text x="547.5" y="132" font-size="8.3" text-anchor="end" font-style="italic" transform="rotate(-90 547.5 132)">Uqcc1</text>
<line x1="552.4" y1="128.4" x2="552.4" y2="130.4" stroke="#333" stroke-width="0.8"/>
<text x="555.3" y="132" font-size="8.3" text-anchor="end" font-style="italic" transform="rotate(-90 555.3 132)">Uqcc2</text>
<line x1="560.2" y1="128.4" x2="560.2" y2="130.4" stroke="#333" stroke-width="0.8"/>
<text x="563.1" y="132" font-size="8.3" text-anchor="end" font-style="italic" transform="rotate(-90 563.1 132)">Uqcr11</text>
<rect x="568.4" y="0.4" width="56.1" height="14.8" fill="#fff" stroke="#333" stroke-width="0.95" rx="0.6"/>
<text x="596.45" y="10.4" font-size="7.4" text-anchor="middle">Complex IV</text>
<circle cx="573.3" cy="20.5" r="3.15" fill="#e9493c"/>
<circle cx="581.15" cy="20.5" r="2.25" fill="#f0602b"/>
<circle cx="589" cy="20.5" r="2.25" fill="#f47d22"/>
<circle cx="596.85" cy="20.5" r="2.25" fill="#f0602b"/>
<circle cx="604.7" cy="20.5" r="2.25" fill="#fac31a"/>
<circle cx="612.55" cy="20.5" r="2.25" fill="#f9aa1c"/>
<circle cx="620.4" cy="20.5" r="2.25" fill="#f9aa1c"/>
<circle cx="573.3" cy="29.05" r="2.25" fill="#b9c0e1"/>
<circle cx="581.15" cy="29.05" r="2.25" fill="#fde2a2"/>
<circle cx="589" cy="29.05" r="2.25" fill="#fac31a"/>
<circle cx="596.85" cy="29.05" r="2.25" fill="#fcd35e"/>
<circle cx="604.7" cy="29.05" r="2.25" fill="#b9c0e1"/>
<circle cx="612.55" cy="29.05" r="2.25" fill="#fac31a"/>
<circle cx="620.4" cy="29.05" r="2.25" fill="#fac31a"/>
<circle cx="573.3" cy="37.6" r="2.25" fill="#fdf3da"/>
<circle cx="581.15" cy="37.6" r="2.25" fill="#f0602b"/>
<circle cx="589" cy="37.6" r="2.25" fill="#fde2a2"/>
<circle cx="596.85" cy="37.6" r="2.25" fill="#fac31a"/>
<circle cx="604.7" cy="37.6" r="2.25" fill="#e1e4f1"/>
<circle cx="612.55" cy="37.6" r="2.25" fill="#27398d"/>
<circle cx="620.4" cy="37.6" r="2.25" fill="#27398d"/>
<circle cx="573.3" cy="46.15" r="2.25" fill="#f47d22"/>
<circle cx="581.15" cy="46.15" r="2.25" fill="#f7951f"/>
<circle cx="589" cy="46.15" r="2.25" fill="#b9c0e1"/>
<circle cx="596.85" cy="46.15" r="2.25" fill="#f7951f"/>
<circle cx="604.7" cy="46.15" r="2.25" fill="#fcd35e"/>
<circle cx="612.55" cy="46.15" r="2.25" fill="#f7951f"/>
<circle cx="620.4" cy="46.15" r="2.25" fill="#27398d"/>
<circle cx="573.3" cy="54.7" r="2.25" fill="#fcd35e"/>
<circle cx="581.15" cy="54.7" r="2.25" fill="#f7951f"/>
<circle cx="589" cy="54.7" r="2.25" fill="#f7951f"/>
<circle cx="596.85" cy="54.7" r="2.25" fill="#f7951f"/>
<circle cx="604.7" cy="54.7" r="2.25" fill="#f9aa1c"/>
<circle cx="612.55" cy="54.7" r="2.25" fill="#fcd35e"/>
<circle cx="620.4" cy="54.7" r="2.25" fill="#f9aa1c"/>
<circle cx="573.3" cy="63.25" r="2.25" fill="#f9aa1c"/>
<circle cx="581.15" cy="63.25" r="2.25" fill="#f9aa1c"/>
<circle cx="589" cy="63.25" r="2.25" fill="#fac31a"/>
<circle cx="596.85" cy="63.25" r="2.25" fill="#fac31a"/>
<circle cx="604.7" cy="63.25" r="2.25" fill="#fcd35e"/>
<circle cx="612.55" cy="63.25" r="2.25" fill="#fac31a"/>
<circle cx="620.4" cy="63.25" r="2.25" fill="#fac31a"/>
<circle cx="573.3" cy="71.8" r="4" fill="#fac31a"/>
<circle cx="581.15" cy="71.8" r="4" fill="#f9aa1c"/>
<circle cx="589" cy="71.8" r="4" fill="#f9aa1c"/>
<circle cx="596.85" cy="71.8" r="4" fill="#fac31a"/>
<circle cx="604.7" cy="71.8" r="4" fill="#fcd35e"/>
<circle cx="612.55" cy="71.8" r="4" fill="#fcd35e"/>
<circle cx="620.4" cy="71.8" r="4" fill="#fde2a2"/>
<circle cx="573.3" cy="80.35" r="4" fill="#f9aa1c"/>
<circle cx="581.15" cy="80.35" r="4" fill="#f9aa1c"/>
<circle cx="589" cy="80.35" r="4" fill="#f9aa1c"/>
<circle cx="596.85" cy="80.35" r="4" fill="#f9aa1c"/>
<circle cx="604.7" cy="80.35" r="4" fill="#fac31a"/>
<circle cx="612.55" cy="80.35" r="4" fill="#f9aa1c"/>
<circle cx="620.4" cy="80.35" r="4" fill="#fac31a"/>
<circle cx="573.3" cy="88.9" r="4" fill="#fac31a"/>
<circle cx="581.15" cy="88.9" r="4" fill="#fac31a"/>
<circle cx="589" cy="88.9" r="4" fill="#fac31a"/>
<circle cx="596.85" cy="88.9" r="4" fill="#f9aa1c"/>
<circle cx="604.7" cy="88.9" r="2.25" fill="#fcd35e"/>
<circle cx="612.55" cy="88.9" r="3.15" fill="#fac31a"/>
<circle cx="620.4" cy="88.9" r="2.25" fill="#fde2a2"/>
<circle cx="573.3" cy="97.45" r="4" fill="#f9aa1c"/>
<circle cx="581.15" cy="97.45" r="4" fill="#f9aa1c"/>
<circle cx="589" cy="97.45" r="4" fill="#fac31a"/>
<circle cx="596.85" cy="97.45" r="4" fill="#f9aa1c"/>
<circle cx="604.7" cy="97.45" r="4" fill="#fcd35e"/>
<circle cx="612.55" cy="97.45" r="3.15" fill="#fcd35e"/>
<circle cx="620.4" cy="97.45" r="2.25" fill="#fde2a2"/>
<circle cx="573.3" cy="106" r="2.25" fill="#fcd35e"/>
<circle cx="581.15" cy="106" r="4" fill="#f9aa1c"/>
<circle cx="589" cy="106" r="2.25" fill="#fac31a"/>
<circle cx="596.85" cy="106" r="2.25" fill="#fcd35e"/>
<circle cx="604.7" cy="106" r="2.25" fill="#f9aa1c"/>
<circle cx="612.55" cy="106" r="2.25" fill="#fac31a"/>
<circle cx="620.4" cy="106" r="2.25" fill="#fde2a2"/>
<circle cx="573.3" cy="114.55" r="2.25" fill="#f0602b"/>
<circle cx="581.15" cy="114.55" r="2.25" fill="#f0602b"/>
<circle cx="589" cy="114.55" r="2.25" fill="#f47d22"/>
<circle cx="596.85" cy="114.55" r="2.25" fill="#f0602b"/>
<circle cx="604.7" cy="114.55" r="2.25" fill="#f47d22"/>
<circle cx="612.55" cy="114.55" r="2.25" fill="#f9aa1c"/>
<circle cx="620.4" cy="114.55" r="2.25" fill="#f9aa1c"/>
<circle cx="573.3" cy="123.1" r="4" fill="#f9aa1c"/>
<circle cx="581.15" cy="123.1" r="4" fill="#f9aa1c"/>
<circle cx="589" cy="123.1" r="4" fill="#fac31a"/>
<circle cx="596.85" cy="123.1" r="4" fill="#f9aa1c"/>
<circle cx="604.7" cy="123.1" r="4" fill="#fac31a"/>
<circle cx="612.55" cy="123.1" r="4" fill="#fac31a"/>
<circle cx="620.4" cy="123.1" r="4" fill="#fcd35e"/>
<line x1="568.4" y1="128.4" x2="624.5" y2="128.4" stroke="#333" stroke-width="1.0"/>
<line x1="573.3" y1="128.4" x2="573.3" y2="130.4" stroke="#333" stroke-width="0.8"/>
<text x="576.2" y="132" font-size="8.3" text-anchor="end" font-style="italic" transform="rotate(-90 576.2 132)">Cox4i1</text>
<line x1="581.15" y1="128.4" x2="581.15" y2="130.4" stroke="#333" stroke-width="0.8"/>
<text x="584.05" y="132" font-size="8.3" text-anchor="end" font-style="italic" transform="rotate(-90 584.05 132)">Cox5b</text>
<line x1="589" y1="128.4" x2="589" y2="130.4" stroke="#333" stroke-width="0.8"/>
<text x="591.9" y="132" font-size="8.3" text-anchor="end" font-style="italic" transform="rotate(-90 591.9 132)">Cox8a</text>
<line x1="596.85" y1="128.4" x2="596.85" y2="130.4" stroke="#333" stroke-width="0.8"/>
<text x="599.75" y="132" font-size="8.3" text-anchor="end" font-style="italic" transform="rotate(-90 599.75 132)">Cox5a</text>
<line x1="604.7" y1="128.4" x2="604.7" y2="130.4" stroke="#333" stroke-width="0.8"/>
<text x="607.6" y="132" font-size="8.3" text-anchor="end" font-style="italic" transform="rotate(-90 607.6 132)">Cox6b1</text>
<line x1="612.55" y1="128.4" x2="612.55" y2="130.4" stroke="#333" stroke-width="0.8"/>
<text x="615.45" y="132" font-size="8.3" text-anchor="end" font-style="italic" transform="rotate(-90 615.45 132)">Cox7a2</text>
<line x1="620.4" y1="128.4" x2="620.4" y2="130.4" stroke="#333" stroke-width="0.8"/>
<text x="623.3" y="132" font-size="8.3" text-anchor="end" font-style="italic" transform="rotate(-90 623.3 132)">Cox6c</text>
<rect x="628.4" y="0.4" width="55.8" height="14.8" fill="#fff" stroke="#333" stroke-width="0.95" rx="0.6"/>
<text x="656.3" y="10.4" font-size="7.4" text-anchor="middle">Complex V</text>
<circle cx="633" cy="20.5" r="4" fill="#27398d"/>
<circle cx="640.8" cy="20.5" r="2.25" fill="#f9aa1c"/>
<circle cx="648.6" cy="20.5" r="2.25" fill="#fac31a"/>
<circle cx="656.4" cy="20.5" r="2.25" fill="#f47d22"/>
<circle cx="664.2" cy="20.5" r="2.25" fill="#f47d22"/>
<circle cx="672" cy="20.5" r="2.25" fill="#f0602b"/>
<circle cx="679.8" cy="20.5" r="2.25" fill="#f7951f"/>
<circle cx="640.8" cy="29.05" r="2.25" fill="#fac31a"/>
<circle cx="648.6" cy="29.05" r="2.25" fill="#fcd35e"/>
<circle cx="656.4" cy="29.05" r="2.25" fill="#fde2a2"/>
<circle cx="664.2" cy="29.05" r="2.25" fill="#fdf3da"/>
<circle cx="672" cy="29.05" r="2.25" fill="#fcd35e"/>
<circle cx="679.8" cy="29.05" r="2.25" fill="#fac31a"/>
<circle cx="648.6" cy="37.6" r="2.25" fill="#fde2a2"/>
<circle cx="656.4" cy="37.6" r="2.25" fill="#27398d"/>
<circle cx="664.2" cy="37.6" r="2.25" fill="#b9c0e1"/>
<circle cx="672" cy="37.6" r="2.25" fill="#27398d"/>
<circle cx="679.8" cy="37.6" r="2.25" fill="#fac31a"/>
<circle cx="640.8" cy="46.15" r="2.25" fill="#5064ad"/>
<circle cx="648.6" cy="46.15" r="2.25" fill="#fcd35e"/>
<circle cx="656.4" cy="46.15" r="2.25" fill="#fcd35e"/>
<circle cx="664.2" cy="46.15" r="2.25" fill="#f47d22"/>
<circle cx="672" cy="46.15" r="2.25" fill="#fde2a2"/>
<circle cx="679.8" cy="46.15" r="2.25" fill="#fcd35e"/>
<circle cx="640.8" cy="54.7" r="2.25" fill="#f9aa1c"/>
<circle cx="648.6" cy="54.7" r="2.25" fill="#fcd35e"/>
<circle cx="656.4" cy="54.7" r="2.25" fill="#fdf3da"/>
<circle cx="664.2" cy="54.7" r="2.25" fill="#f9aa1c"/>
<circle cx="672" cy="54.7" r="2.25" fill="#f47d22"/>
<circle cx="679.8" cy="54.7" r="2.25" fill="#f9aa1c"/>
<circle cx="633" cy="63.25" r="4" fill="#b9c0e1"/>
<circle cx="640.8" cy="63.25" r="2.25" fill="#fac31a"/>
<circle cx="648.6" cy="63.25" r="2.25" fill="#fac31a"/>
<circle cx="656.4" cy="63.25" r="2.25" fill="#fcd35e"/>
<circle cx="664.2" cy="63.25" r="2.25" fill="#f9aa1c"/>
<circle cx="672" cy="63.25" r="2.25" fill="#fdf3da"/>
<circle cx="679.8" cy="63.25" r="2.25" fill="#fde2a2"/>
<circle cx="633" cy="71.8" r="4" fill="#e1e4f1"/>
<circle cx="640.8" cy="71.8" r="4" fill="#fac31a"/>
<circle cx="648.6" cy="71.8" r="4" fill="#fac31a"/>
<circle cx="656.4" cy="71.8" r="4" fill="#fcd35e"/>
<circle cx="664.2" cy="71.8" r="4" fill="#fac31a"/>
<circle cx="672" cy="71.8" r="4" fill="#fcd35e"/>
<circle cx="679.8" cy="71.8" r="4" fill="#fcd35e"/>
<circle cx="633" cy="80.35" r="4" fill="#8c99cd"/>
<circle cx="640.8" cy="80.35" r="4" fill="#f9aa1c"/>
<circle cx="648.6" cy="80.35" r="4" fill="#f9aa1c"/>
<circle cx="656.4" cy="80.35" r="4" fill="#fac31a"/>
<circle cx="664.2" cy="80.35" r="4" fill="#fac31a"/>
<circle cx="672" cy="80.35" r="4" fill="#fac31a"/>
<circle cx="679.8" cy="80.35" r="4" fill="#fac31a"/>
<circle cx="640.8" cy="88.9" r="4" fill="#fac31a"/>
<circle cx="648.6" cy="88.9" r="4" fill="#f9aa1c"/>
<circle cx="656.4" cy="88.9" r="2.25" fill="#fcd35e"/>
<circle cx="664.2" cy="88.9" r="4" fill="#fac31a"/>
<circle cx="672" cy="88.9" r="2.25" fill="#fcd35e"/>
<circle cx="679.8" cy="88.9" r="4" fill="#fac31a"/>
<circle cx="633" cy="97.45" r="2.25" fill="#e1e4f1"/>
<circle cx="640.8" cy="97.45" r="4" fill="#fac31a"/>
<circle cx="648.6" cy="97.45" r="4" fill="#fac31a"/>
<circle cx="656.4" cy="97.45" r="4" fill="#fcd35e"/>
<circle cx="664.2" cy="97.45" r="4" fill="#fac31a"/>
<circle cx="672" cy="97.45" r="2.25" fill="#fcd35e"/>
<circle cx="679.8" cy="97.45" r="4" fill="#fac31a"/>
<circle cx="640.8" cy="106" r="2.25" fill="#fcd35e"/>
<circle cx="648.6" cy="106" r="2.25" fill="#fcd35e"/>
<circle cx="656.4" cy="106" r="2.25" fill="#fcd35e"/>
<circle cx="664.2" cy="106" r="2.25" fill="#fcd35e"/>
<circle cx="672" cy="106" r="2.25" fill="#fcd35e"/>
<circle cx="679.8" cy="106" r="2.25" fill="#fcd35e"/>
<circle cx="633" cy="114.55" r="2.25" fill="#e1e4f1"/>
<circle cx="640.8" cy="114.55" r="2.25" fill="#f0602b"/>
<circle cx="648.6" cy="114.55" r="2.25" fill="#f0602b"/>
<circle cx="656.4" cy="114.55" r="2.25" fill="#f9aa1c"/>
<circle cx="664.2" cy="114.55" r="2.25" fill="#fac31a"/>
<circle cx="672" cy="114.55" r="2.25" fill="#f0602b"/>
<circle cx="679.8" cy="114.55" r="2.25" fill="#f9aa1c"/>
<circle cx="633" cy="123.1" r="4" fill="#8c99cd"/>
<circle cx="640.8" cy="123.1" r="4" fill="#f9aa1c"/>
<circle cx="648.6" cy="123.1" r="4" fill="#fac31a"/>
<circle cx="656.4" cy="123.1" r="4" fill="#fac31a"/>
<circle cx="664.2" cy="123.1" r="4" fill="#f9aa1c"/>
<circle cx="672" cy="123.1" r="4" fill="#fac31a"/>
<circle cx="679.8" cy="123.1" r="4" fill="#fac31a"/>
<line x1="628.4" y1="128.4" x2="684.2" y2="128.4" stroke="#333" stroke-width="1.0"/>
<line x1="633" y1="128.4" x2="633" y2="130.4" stroke="#333" stroke-width="0.8"/>
<text x="635.9" y="132" font-size="8.3" text-anchor="end" font-style="italic" transform="rotate(-90 635.9 132)">Atp5o</text>
<line x1="640.8" y1="128.4" x2="640.8" y2="130.4" stroke="#333" stroke-width="0.8"/>
<text x="643.7" y="132" font-size="8.3" text-anchor="end" font-style="italic" transform="rotate(-90 643.7 132)">Atp5h</text>
<line x1="648.6" y1="128.4" x2="648.6" y2="130.4" stroke="#333" stroke-width="0.8"/>
<text x="651.5" y="132" font-size="8.3" text-anchor="end" font-style="italic" transform="rotate(-90 651.5 132)">Atp5g1</text>
<line x1="656.4" y1="128.4" x2="656.4" y2="130.4" stroke="#333" stroke-width="0.8"/>
<text x="659.3" y="132" font-size="8.3" text-anchor="end" font-style="italic" transform="rotate(-90 659.3 132)">Atp5l</text>
<line x1="664.2" y1="128.4" x2="664.2" y2="130.4" stroke="#333" stroke-width="0.8"/>
<text x="667.1" y="132" font-size="8.3" text-anchor="end" font-style="italic" transform="rotate(-90 667.1 132)">Atp5j</text>
<line x1="672" y1="128.4" x2="672" y2="130.4" stroke="#333" stroke-width="0.8"/>
<text x="674.9" y="132" font-size="8.3" text-anchor="end" font-style="italic" transform="rotate(-90 674.9 132)">Atp5g2</text>
<line x1="679.8" y1="128.4" x2="679.8" y2="130.4" stroke="#333" stroke-width="0.8"/>
<text x="682.7" y="132" font-size="8.3" text-anchor="end" font-style="italic" transform="rotate(-90 682.7 132)">Atp5d</text>
<rect x="404.5" y="166.4" width="134" height="15.2" fill="#fff" stroke="#333" stroke-width="0.95" rx="0.6"/>
<text x="471.5" y="176.8" font-size="7.4" text-anchor="middle">RP large subunit</text>
<circle cx="409.3" cy="187.3" r="2.25" fill="#f47d22"/>
<circle cx="417.14" cy="187.3" r="3.15" fill="#f0602b"/>
<circle cx="424.98" cy="187.3" r="2.25" fill="#f0602b"/>
<circle cx="432.82" cy="187.3" r="3.15" fill="#f0602b"/>
<circle cx="440.66" cy="187.3" r="2.25" fill="#f47d22"/>
<circle cx="448.5" cy="187.3" r="2.25" fill="#f0602b"/>
<circle cx="456.34" cy="187.3" r="2.25" fill="#f0602b"/>
<circle cx="464.18" cy="187.3" r="3.15" fill="#f0602b"/>
<circle cx="472.02" cy="187.3" r="3.15" fill="#f0602b"/>
<circle cx="479.86" cy="187.3" r="3.15" fill="#f0602b"/>
<circle cx="487.7" cy="187.3" r="2.25" fill="#f47d22"/>
<circle cx="495.54" cy="187.3" r="2.25" fill="#f7951f"/>
<circle cx="503.38" cy="187.3" r="2.25" fill="#f47d22"/>
<circle cx="511.22" cy="187.3" r="4" fill="#e9493c"/>
<circle cx="519.06" cy="187.3" r="3.15" fill="#f0602b"/>
<circle cx="526.9" cy="187.3" r="3.15" fill="#f0602b"/>
<circle cx="534.74" cy="187.3" r="2.25" fill="#f0602b"/>
<circle cx="409.3" cy="195.86" r="2.25" fill="#fde2a2"/>
<circle cx="417.14" cy="195.86" r="2.25" fill="#f9aa1c"/>
<circle cx="424.98" cy="195.86" r="2.25" fill="#f9aa1c"/>
<circle cx="432.82" cy="195.86" r="2.25" fill="#f7951f"/>
<circle cx="440.66" cy="195.86" r="2.25" fill="#fcd35e"/>
<circle cx="448.5" cy="195.86" r="2.25" fill="#f9aa1c"/>
<circle cx="456.34" cy="195.86" r="2.25" fill="#fac31a"/>
<circle cx="464.18" cy="195.86" r="2.25" fill="#fcd35e"/>
<circle cx="472.02" cy="195.86" r="2.25" fill="#fde2a2"/>
<circle cx="479.86" cy="195.86" r="2.25" fill="#fac31a"/>
<circle cx="487.7" cy="195.86" r="2.25" fill="#fac31a"/>
<circle cx="495.54" cy="195.86" r="2.25" fill="#fcd35e"/>
<circle cx="503.38" cy="195.86" r="2.25" fill="#fde2a2"/>
<circle cx="511.22" cy="195.86" r="2.25" fill="#fcd35e"/>
<circle cx="519.06" cy="195.86" r="2.25" fill="#fcd35e"/>
<circle cx="526.9" cy="195.86" r="2.25" fill="#fac31a"/>
<circle cx="534.74" cy="195.86" r="2.25" fill="#fac31a"/>
<circle cx="409.3" cy="204.42" r="2.25" fill="#fcd35e"/>
<circle cx="417.14" cy="204.42" r="2.25" fill="#f7951f"/>
<circle cx="424.98" cy="204.42" r="2.25" fill="#fac31a"/>
<circle cx="432.82" cy="204.42" r="2.25" fill="#f7951f"/>
<circle cx="440.66" cy="204.42" r="2.25" fill="#fcd35e"/>
<circle cx="448.5" cy="204.42" r="2.25" fill="#fde2a2"/>
<circle cx="456.34" cy="204.42" r="2.25" fill="#fac31a"/>
<circle cx="464.18" cy="204.42" r="2.25" fill="#fac31a"/>
<circle cx="472.02" cy="204.42" r="2.25" fill="#fac31a"/>
<circle cx="479.86" cy="204.42" r="2.25" fill="#fac31a"/>
<circle cx="487.7" cy="204.42" r="2.25" fill="#f9aa1c"/>
<circle cx="495.54" cy="204.42" r="2.25" fill="#f7951f"/>
<circle cx="503.38" cy="204.42" r="2.25" fill="#fcd35e"/>
<circle cx="511.22" cy="204.42" r="2.25" fill="#fac31a"/>
<circle cx="519.06" cy="204.42" r="2.25" fill="#f9aa1c"/>
<circle cx="526.9" cy="204.42" r="2.25" fill="#f7951f"/>
<circle cx="534.74" cy="204.42" r="2.25" fill="#f9aa1c"/>
<circle cx="409.3" cy="212.98" r="2.25" fill="#fde2a2"/>
<circle cx="417.14" cy="212.98" r="2.25" fill="#fac31a"/>
<circle cx="424.98" cy="212.98" r="2.25" fill="#fde2a2"/>
<circle cx="440.66" cy="212.98" r="2.25" fill="#fcd35e"/>
<circle cx="448.5" cy="212.98" r="2.25" fill="#f9aa1c"/>
<circle cx="456.34" cy="212.98" r="2.25" fill="#f7951f"/>
<circle cx="464.18" cy="212.98" r="2.25" fill="#fac31a"/>
<circle cx="472.02" cy="212.98" r="2.25" fill="#fac31a"/>
<circle cx="479.86" cy="212.98" r="2.25" fill="#fcd35e"/>
<circle cx="487.7" cy="212.98" r="2.25" fill="#fcd35e"/>
<circle cx="495.54" cy="212.98" r="2.25" fill="#f9aa1c"/>
<circle cx="503.38" cy="212.98" r="2.25" fill="#fdf3da"/>
<circle cx="511.22" cy="212.98" r="2.25" fill="#fde2a2"/>
<circle cx="519.06" cy="212.98" r="2.25" fill="#f9aa1c"/>
<circle cx="526.9" cy="212.98" r="2.25" fill="#fde2a2"/>
<circle cx="534.74" cy="212.98" r="2.25" fill="#fde2a2"/>
<circle cx="409.3" cy="221.54" r="2.25" fill="#f9aa1c"/>
<circle cx="417.14" cy="221.54" r="3.15" fill="#f7951f"/>
<circle cx="424.98" cy="221.54" r="2.25" fill="#f9aa1c"/>
<circle cx="432.82" cy="221.54" r="2.25" fill="#f9aa1c"/>
<circle cx="440.66" cy="221.54" r="3.15" fill="#f7951f"/>
<circle cx="448.5" cy="221.54" r="2.25" fill="#f9aa1c"/>
<circle cx="456.34" cy="221.54" r="2.25" fill="#f47d22"/>
<circle cx="464.18" cy="221.54" r="3.15" fill="#f7951f"/>
<circle cx="472.02" cy="221.54" r="2.25" fill="#f7951f"/>
<circle cx="479.86" cy="221.54" r="2.25" fill="#fac31a"/>
<circle cx="487.7" cy="221.54" r="2.25" fill="#f7951f"/>
<circle cx="495.54" cy="221.54" r="2.25" fill="#f0602b"/>
<circle cx="503.38" cy="221.54" r="2.25" fill="#f9aa1c"/>
<circle cx="511.22" cy="221.54" r="4" fill="#f47d22"/>
<circle cx="519.06" cy="221.54" r="4" fill="#f7951f"/>
<circle cx="526.9" cy="221.54" r="2.25" fill="#f9aa1c"/>
<circle cx="534.74" cy="221.54" r="2.25" fill="#f9aa1c"/>
<circle cx="409.3" cy="230.1" r="2.25" fill="#f9aa1c"/>
<circle cx="417.14" cy="230.1" r="4" fill="#f9aa1c"/>
<circle cx="424.98" cy="230.1" r="2.25" fill="#f9aa1c"/>
<circle cx="432.82" cy="230.1" r="4" fill="#f9aa1c"/>
<circle cx="440.66" cy="230.1" r="2.25" fill="#f9aa1c"/>
<circle cx="448.5" cy="230.1" r="2.25" fill="#f7951f"/>
<circle cx="456.34" cy="230.1" r="4" fill="#f7951f"/>
<circle cx="464.18" cy="230.1" r="3.15" fill="#f9aa1c"/>
<circle cx="472.02" cy="230.1" r="2.25" fill="#f9aa1c"/>
<circle cx="479.86" cy="230.1" r="4" fill="#f9aa1c"/>
<circle cx="487.7" cy="230.1" r="2.25" fill="#f7951f"/>
<circle cx="495.54" cy="230.1" r="2.25" fill="#f7951f"/>
<circle cx="503.38" cy="230.1" r="3.15" fill="#f9aa1c"/>
<circle cx="511.22" cy="230.1" r="4" fill="#f9aa1c"/>
<circle cx="519.06" cy="230.1" r="3.15" fill="#f9aa1c"/>
<circle cx="526.9" cy="230.1" r="4" fill="#f9aa1c"/>
<circle cx="534.74" cy="230.1" r="2.25" fill="#f9aa1c"/>
<circle cx="409.3" cy="238.66" r="4" fill="#fac31a"/>
<circle cx="417.14" cy="238.66" r="4" fill="#f9aa1c"/>
<circle cx="424.98" cy="238.66" r="4" fill="#f9aa1c"/>
<circle cx="432.82" cy="238.66" r="4" fill="#f9aa1c"/>
<circle cx="440.66" cy="238.66" r="4" fill="#fac31a"/>
<circle cx="448.5" cy="238.66" r="4" fill="#f9aa1c"/>
<circle cx="456.34" cy="238.66" r="4" fill="#f9aa1c"/>
<circle cx="464.18" cy="238.66" r="4" fill="#f9aa1c"/>
<circle cx="472.02" cy="238.66" r="4" fill="#f9aa1c"/>
<circle cx="479.86" cy="238.66" r="4" fill="#f9aa1c"/>
<circle cx="487.7" cy="238.66" r="4" fill="#f9aa1c"/>
<circle cx="495.54" cy="238.66" r="4" fill="#f9aa1c"/>
<circle cx="503.38" cy="238.66" r="4" fill="#fcd35e"/>
<circle cx="511.22" cy="238.66" r="4" fill="#f9aa1c"/>
<circle cx="519.06" cy="238.66" r="4" fill="#fac31a"/>
<circle cx="526.9" cy="238.66" r="4" fill="#f9aa1c"/>
<circle cx="534.74" cy="238.66" r="4" fill="#f9aa1c"/>
<circle cx="409.3" cy="247.22" r="4" fill="#f9aa1c"/>
<circle cx="417.14" cy="247.22" r="4" fill="#f9aa1c"/>
<circle cx="424.98" cy="247.22" r="4" fill="#f9aa1c"/>
<circle cx="432.82" cy="247.22" r="4" fill="#f9aa1c"/>
<circle cx="440.66" cy="247.22" r="4" fill="#f9aa1c"/>
<circle cx="448.5" cy="247.22" r="4" fill="#f9aa1c"/>
<circle cx="456.34" cy="247.22" r="4" fill="#f7951f"/>
<circle cx="464.18" cy="247.22" r="4" fill="#f9aa1c"/>
<circle cx="472.02" cy="247.22" r="4" fill="#f7951f"/>
<circle cx="479.86" cy="247.22" r="4" fill="#f9aa1c"/>
<circle cx="487.7" cy="247.22" r="4" fill="#f9aa1c"/>
<circle cx="495.54" cy="247.22" r="4" fill="#f9aa1c"/>
<circle cx="503.38" cy="247.22" r="4" fill="#fac31a"/>
<circle cx="511.22" cy="247.22" r="4" fill="#f9aa1c"/>
<circle cx="519.06" cy="247.22" r="4" fill="#f9aa1c"/>
<circle cx="526.9" cy="247.22" r="4" fill="#f9aa1c"/>
<circle cx="534.74" cy="247.22" r="4" fill="#f9aa1c"/>
<circle cx="409.3" cy="255.78" r="4" fill="#fcd35e"/>
<circle cx="417.14" cy="255.78" r="4" fill="#fac31a"/>
<circle cx="424.98" cy="255.78" r="4" fill="#fac31a"/>
<circle cx="432.82" cy="255.78" r="4" fill="#fac31a"/>
<circle cx="440.66" cy="255.78" r="4" fill="#fac31a"/>
<circle cx="448.5" cy="255.78" r="4" fill="#f9aa1c"/>
<circle cx="456.34" cy="255.78" r="4" fill="#f9aa1c"/>
<circle cx="464.18" cy="255.78" r="4" fill="#fcd35e"/>
<circle cx="472.02" cy="255.78" r="4" fill="#fac31a"/>
<circle cx="479.86" cy="255.78" r="4" fill="#fac31a"/>
<circle cx="487.7" cy="255.78" r="4" fill="#f9aa1c"/>
<circle cx="495.54" cy="255.78" r="4" fill="#fac31a"/>
<circle cx="503.38" cy="255.78" r="4" fill="#fcd35e"/>
<circle cx="511.22" cy="255.78" r="4" fill="#fac31a"/>
<circle cx="519.06" cy="255.78" r="4" fill="#fcd35e"/>
<circle cx="526.9" cy="255.78" r="4" fill="#fcd35e"/>
<circle cx="534.74" cy="255.78" r="4" fill="#fac31a"/>
<circle cx="409.3" cy="264.34" r="4" fill="#fac31a"/>
<circle cx="417.14" cy="264.34" r="4" fill="#f9aa1c"/>
<circle cx="424.98" cy="264.34" r="4" fill="#f9aa1c"/>
<circle cx="432.82" cy="264.34" r="4" fill="#f7951f"/>
<circle cx="440.66" cy="264.34" r="4" fill="#fac31a"/>
<circle cx="448.5" cy="264.34" r="4" fill="#f9aa1c"/>
<circle cx="456.34" cy="264.34" r="4" fill="#f9aa1c"/>
<circle cx="464.18" cy="264.34" r="4" fill="#fac31a"/>
<circle cx="472.02" cy="264.34" r="4" fill="#f9aa1c"/>
<circle cx="479.86" cy="264.34" r="4" fill="#f9aa1c"/>
<circle cx="487.7" cy="264.34" r="4" fill="#f9aa1c"/>
<circle cx="495.54" cy="264.34" r="4" fill="#f9aa1c"/>
<circle cx="503.38" cy="264.34" r="4" fill="#fcd35e"/>
<circle cx="511.22" cy="264.34" r="4" fill="#f9aa1c"/>
<circle cx="519.06" cy="264.34" r="4" fill="#fac31a"/>
<circle cx="526.9" cy="264.34" r="4" fill="#f9aa1c"/>
<circle cx="534.74" cy="264.34" r="4" fill="#fac31a"/>
<circle cx="409.3" cy="272.9" r="4" fill="#fac31a"/>
<circle cx="417.14" cy="272.9" r="4" fill="#f9aa1c"/>
<circle cx="424.98" cy="272.9" r="4" fill="#f9aa1c"/>
<circle cx="432.82" cy="272.9" r="4" fill="#fac31a"/>
<circle cx="440.66" cy="272.9" r="4" fill="#fac31a"/>
<circle cx="448.5" cy="272.9" r="4" fill="#f9aa1c"/>
<circle cx="456.34" cy="272.9" r="4" fill="#f7951f"/>
<circle cx="464.18" cy="272.9" r="4" fill="#fac31a"/>
<circle cx="472.02" cy="272.9" r="4" fill="#f9aa1c"/>
<circle cx="479.86" cy="272.9" r="4" fill="#f9aa1c"/>
<circle cx="487.7" cy="272.9" r="3.15" fill="#f9aa1c"/>
<circle cx="495.54" cy="272.9" r="4" fill="#f9aa1c"/>
<circle cx="503.38" cy="272.9" r="2.25" fill="#fac31a"/>
<circle cx="511.22" cy="272.9" r="4" fill="#f9aa1c"/>
<circle cx="519.06" cy="272.9" r="3.15" fill="#fac31a"/>
<circle cx="526.9" cy="272.9" r="3.15" fill="#fac31a"/>
<circle cx="534.74" cy="272.9" r="2.25" fill="#fac31a"/>
<circle cx="409.3" cy="281.46" r="2.25" fill="#f7951f"/>
<circle cx="417.14" cy="281.46" r="2.25" fill="#f0602b"/>
<circle cx="424.98" cy="281.46" r="2.25" fill="#f7951f"/>
<circle cx="432.82" cy="281.46" r="2.25" fill="#f47d22"/>
<circle cx="440.66" cy="281.46" r="2.25" fill="#f47d22"/>
<circle cx="448.5" cy="281.46" r="2.25" fill="#f7951f"/>
<circle cx="456.34" cy="281.46" r="3.15" fill="#f0602b"/>
<circle cx="464.18" cy="281.46" r="3.15" fill="#f0602b"/>
<circle cx="472.02" cy="281.46" r="3.15" fill="#e9493c"/>
<circle cx="479.86" cy="281.46" r="2.25" fill="#f7951f"/>
<circle cx="487.7" cy="281.46" r="2.25" fill="#f7951f"/>
<circle cx="495.54" cy="281.46" r="4" fill="#f0602b"/>
<circle cx="503.38" cy="281.46" r="2.25" fill="#f7951f"/>
<circle cx="511.22" cy="281.46" r="2.25" fill="#f7951f"/>
<circle cx="519.06" cy="281.46" r="2.25" fill="#f7951f"/>
<circle cx="526.9" cy="281.46" r="2.25" fill="#f7951f"/>
<circle cx="534.74" cy="281.46" r="2.25" fill="#f7951f"/>
<circle cx="409.3" cy="290.02" r="4" fill="#f9aa1c"/>
<circle cx="417.14" cy="290.02" r="4" fill="#f9aa1c"/>
<circle cx="424.98" cy="290.02" r="4" fill="#f9aa1c"/>
<circle cx="432.82" cy="290.02" r="4" fill="#f9aa1c"/>
<circle cx="440.66" cy="290.02" r="4" fill="#fac31a"/>
<circle cx="448.5" cy="290.02" r="4" fill="#f9aa1c"/>
<circle cx="456.34" cy="290.02" r="4" fill="#f9aa1c"/>
<circle cx="464.18" cy="290.02" r="4" fill="#f9aa1c"/>
<circle cx="472.02" cy="290.02" r="4" fill="#f7951f"/>
<circle cx="479.86" cy="290.02" r="4" fill="#f9aa1c"/>
<circle cx="487.7" cy="290.02" r="4" fill="#f9aa1c"/>
<circle cx="495.54" cy="290.02" r="4" fill="#f9aa1c"/>
<circle cx="503.38" cy="290.02" r="4" fill="#fac31a"/>
<circle cx="511.22" cy="290.02" r="4" fill="#f9aa1c"/>
<circle cx="519.06" cy="290.02" r="4" fill="#fac31a"/>
<circle cx="526.9" cy="290.02" r="4" fill="#f9aa1c"/>
<circle cx="534.74" cy="290.02" r="4" fill="#f9aa1c"/>
<line x1="404.5" y1="295" x2="538.5" y2="295" stroke="#333" stroke-width="1.0"/>
<line x1="409.3" y1="295" x2="409.3" y2="297" stroke="#333" stroke-width="0.8"/>
<text x="412.2" y="298.6" font-size="8.3" text-anchor="end" font-style="italic" transform="rotate(-90 412.2 298.6)">Rplp1</text>
<line x1="417.14" y1="295" x2="417.14" y2="297" stroke="#333" stroke-width="0.8"/>
<text x="420.04" y="298.6" font-size="8.3" text-anchor="end" font-style="italic" transform="rotate(-90 420.04 298.6)">Rpl23</text>
<line x1="424.98" y1="295" x2="424.98" y2="297" stroke="#333" stroke-width="0.8"/>
<text x="427.88" y="298.6" font-size="8.3" text-anchor="end" font-style="italic" transform="rotate(-90 427.88 298.6)">Rpl26</text>
<line x1="432.82" y1="295" x2="432.82" y2="297" stroke="#333" stroke-width="0.8"/>
<text x="435.72" y="298.6" font-size="8.3" text-anchor="end" font-style="italic" transform="rotate(-90 435.72 298.6)">Rpl18</text>
<line x1="440.66" y1="295" x2="440.66" y2="297" stroke="#333" stroke-width="0.8"/>
<text x="443.56" y="298.6" font-size="8.3" text-anchor="end" font-style="italic" transform="rotate(-90 443.56 298.6)">Rpl27a</text>
<line x1="448.5" y1="295" x2="448.5" y2="297" stroke="#333" stroke-width="0.8"/>
<text x="451.4" y="298.6" font-size="8.3" text-anchor="end" font-style="italic" transform="rotate(-90 451.4 298.6)">Rpl11</text>
<line x1="456.34" y1="295" x2="456.34" y2="297" stroke="#333" stroke-width="0.8"/>
<text x="459.24" y="298.6" font-size="8.3" text-anchor="end" font-style="italic" transform="rotate(-90 459.24 298.6)">Rpl32</text>
<line x1="464.18" y1="295" x2="464.18" y2="297" stroke="#333" stroke-width="0.8"/>
<text x="467.08" y="298.6" font-size="8.3" text-anchor="end" font-style="italic" transform="rotate(-90 467.08 298.6)">Rpl30</text>
<line x1="472.02" y1="295" x2="472.02" y2="297" stroke="#333" stroke-width="0.8"/>
<text x="474.92" y="298.6" font-size="8.3" text-anchor="end" font-style="italic" transform="rotate(-90 474.92 298.6)">Rpl10</text>
<line x1="479.86" y1="295" x2="479.86" y2="297" stroke="#333" stroke-width="0.8"/>
<text x="482.76" y="298.6" font-size="8.3" text-anchor="end" font-style="italic" transform="rotate(-90 482.76 298.6)">Rpl17</text>
<line x1="487.7" y1="295" x2="487.7" y2="297" stroke="#333" stroke-width="0.8"/>
<text x="490.6" y="298.6" font-size="8.3" text-anchor="end" font-style="italic" transform="rotate(-90 490.6 298.6)">Rpl13</text>
<line x1="495.54" y1="295" x2="495.54" y2="297" stroke="#333" stroke-width="0.8"/>
<text x="498.44" y="298.6" font-size="8.3" text-anchor="end" font-style="italic" transform="rotate(-90 498.44 298.6)">Rpl28</text>
<line x1="503.38" y1="295" x2="503.38" y2="297" stroke="#333" stroke-width="0.8"/>
<text x="506.28" y="298.6" font-size="8.3" text-anchor="end" font-style="italic" transform="rotate(-90 506.28 298.6)">Rpl35a</text>
<line x1="511.22" y1="295" x2="511.22" y2="297" stroke="#333" stroke-width="0.8"/>
<text x="514.12" y="298.6" font-size="8.3" text-anchor="end" font-style="italic" transform="rotate(-90 514.12 298.6)">Rpl9</text>
<line x1="519.06" y1="295" x2="519.06" y2="297" stroke="#333" stroke-width="0.8"/>
<text x="521.96" y="298.6" font-size="8.3" text-anchor="end" font-style="italic" transform="rotate(-90 521.96 298.6)">Rpl34</text>
<line x1="526.9" y1="295" x2="526.9" y2="297" stroke="#333" stroke-width="0.8"/>
<text x="529.8" y="298.6" font-size="8.3" text-anchor="end" font-style="italic" transform="rotate(-90 529.8 298.6)">Rpl18a</text>
<line x1="534.74" y1="295" x2="534.74" y2="297" stroke="#333" stroke-width="0.8"/>
<text x="537.64" y="298.6" font-size="8.3" text-anchor="end" font-style="italic" transform="rotate(-90 537.64 298.6)">Rpl21</text>
<line x1="404.5" y1="181.6" x2="404.5" y2="295" stroke="#333" stroke-width="1.0"/>
<line x1="402.5" y1="187.3" x2="404.5" y2="187.3" stroke="#333" stroke-width="0.8"/>
<text x="399.7" y="190.2" font-size="8.1" text-anchor="end">NK</text>
<line x1="402.5" y1="195.86" x2="404.5" y2="195.86" stroke="#333" stroke-width="0.8"/>
<text x="399.7" y="198.76" font-size="8.1" text-anchor="end">CD8 T cell</text>
<line x1="402.5" y1="204.42" x2="404.5" y2="204.42" stroke="#333" stroke-width="0.8"/>
<text x="399.7" y="207.32" font-size="8.1" text-anchor="end">CD4 T cell</text>
<line x1="402.5" y1="212.98" x2="404.5" y2="212.98" stroke="#333" stroke-width="0.8"/>
<text x="399.7" y="215.88" font-size="8.1" text-anchor="end" fill="#1a1a1a"><tspan font-family="Liberation Serif" font-size="8.1">γδ</tspan> T cell</text>
<line x1="402.5" y1="221.54" x2="404.5" y2="221.54" stroke="#333" stroke-width="0.8"/>
<text x="399.7" y="224.44" font-size="8.1" text-anchor="end">Treg</text>
<line x1="402.5" y1="230.1" x2="404.5" y2="230.1" stroke="#333" stroke-width="0.8"/>
<text x="399.7" y="233" font-size="8.1" text-anchor="end">TAN</text>
<line x1="402.5" y1="238.66" x2="404.5" y2="238.66" stroke="#333" stroke-width="0.8"/>
<text x="399.7" y="241.56" font-size="8.1" text-anchor="end">Mono</text>
<line x1="402.5" y1="247.22" x2="404.5" y2="247.22" stroke="#333" stroke-width="0.8"/>
<text x="399.7" y="250.12" font-size="8.1" text-anchor="end">TAM</text>
<line x1="402.5" y1="255.78" x2="404.5" y2="255.78" stroke="#333" stroke-width="0.8"/>
<text x="399.7" y="258.68" font-size="8.1" text-anchor="end">cDC1</text>
<line x1="402.5" y1="264.34" x2="404.5" y2="264.34" stroke="#333" stroke-width="0.8"/>
<text x="399.7" y="267.24" font-size="8.1" text-anchor="end">cDC2</text>
<line x1="402.5" y1="272.9" x2="404.5" y2="272.9" stroke="#333" stroke-width="0.8"/>
<text x="399.7" y="275.8" font-size="8.1" text-anchor="end">mregDC</text>
<line x1="402.5" y1="281.46" x2="404.5" y2="281.46" stroke="#333" stroke-width="0.8"/>
<text x="399.7" y="284.36" font-size="8.1" text-anchor="end">pDC</text>
<line x1="402.5" y1="290.02" x2="404.5" y2="290.02" stroke="#333" stroke-width="0.8"/>
<text x="399.7" y="292.92" font-size="8.1" text-anchor="end">Dividing</text>
<rect x="547.4" y="166.4" width="133.4" height="15.2" fill="#fff" stroke="#333" stroke-width="0.95" rx="0.6"/>
<text x="614.1" y="176.8" font-size="7.4" text-anchor="middle">RP small subunit</text>
<circle cx="551.7" cy="187.3" r="4" fill="#f0602b"/>
<circle cx="559.5" cy="187.3" r="3.15" fill="#f0602b"/>
<circle cx="567.3" cy="187.3" r="2.25" fill="#f7951f"/>
<circle cx="575.1" cy="187.3" r="3.15" fill="#f0602b"/>
<circle cx="582.9" cy="187.3" r="3.15" fill="#f0602b"/>
<circle cx="590.7" cy="187.3" r="2.25" fill="#f0602b"/>
<circle cx="598.5" cy="187.3" r="4" fill="#f0602b"/>
<circle cx="606.3" cy="187.3" r="2.25" fill="#f7951f"/>
<circle cx="614.1" cy="187.3" r="2.25" fill="#f7951f"/>
<circle cx="621.9" cy="187.3" r="2.25" fill="#f0602b"/>
<circle cx="629.7" cy="187.3" r="2.25" fill="#f0602b"/>
<circle cx="637.5" cy="187.3" r="3.15" fill="#e9493c"/>
<circle cx="645.3" cy="187.3" r="2.25" fill="#f0602b"/>
<circle cx="653.1" cy="187.3" r="2.25" fill="#f7951f"/>
<circle cx="660.9" cy="187.3" r="3.15" fill="#f0602b"/>
<circle cx="668.7" cy="187.3" r="2.25" fill="#f7951f"/>
<circle cx="676.5" cy="187.3" r="2.25" fill="#f0602b"/>
<circle cx="551.7" cy="195.86" r="2.25" fill="#f9aa1c"/>
<circle cx="559.5" cy="195.86" r="2.25" fill="#fac31a"/>
<circle cx="567.3" cy="195.86" r="2.25" fill="#fde2a2"/>
<circle cx="575.1" cy="195.86" r="2.25" fill="#fac31a"/>
<circle cx="582.9" cy="195.86" r="2.25" fill="#fcd35e"/>
<circle cx="590.7" cy="195.86" r="2.25" fill="#fac31a"/>
<circle cx="598.5" cy="195.86" r="2.25" fill="#fac31a"/>
<circle cx="606.3" cy="195.86" r="2.25" fill="#fcd35e"/>
<circle cx="614.1" cy="195.86" r="2.25" fill="#fcd35e"/>
<circle cx="621.9" cy="195.86" r="2.25" fill="#fde2a2"/>
<circle cx="629.7" cy="195.86" r="2.25" fill="#fac31a"/>
<circle cx="637.5" cy="195.86" r="2.25" fill="#f9aa1c"/>
<circle cx="645.3" cy="195.86" r="2.25" fill="#f9aa1c"/>
<circle cx="653.1" cy="195.86" r="2.25" fill="#fde2a2"/>
<circle cx="660.9" cy="195.86" r="2.25" fill="#f9aa1c"/>
<circle cx="668.7" cy="195.86" r="2.25" fill="#8c99cd"/>
<circle cx="676.5" cy="195.86" r="2.25" fill="#fac31a"/>
<circle cx="551.7" cy="204.42" r="2.25" fill="#fdf3da"/>
<circle cx="559.5" cy="204.42" r="2.25" fill="#f7951f"/>
<circle cx="567.3" cy="204.42" r="2.25" fill="#fcd35e"/>
<circle cx="575.1" cy="204.42" r="2.25" fill="#f7951f"/>
<circle cx="582.9" cy="204.42" r="2.25" fill="#f9aa1c"/>
<circle cx="590.7" cy="204.42" r="2.25" fill="#f7951f"/>
<circle cx="598.5" cy="204.42" r="2.25" fill="#f7951f"/>
<circle cx="606.3" cy="204.42" r="2.25" fill="#f7951f"/>
<circle cx="614.1" cy="204.42" r="2.25" fill="#fac31a"/>
<circle cx="621.9" cy="204.42" r="2.25" fill="#fde2a2"/>
<circle cx="629.7" cy="204.42" r="2.25" fill="#f7951f"/>
<circle cx="637.5" cy="204.42" r="2.25" fill="#f9aa1c"/>
<circle cx="645.3" cy="204.42" r="2.25" fill="#f47d22"/>
<circle cx="653.1" cy="204.42" r="2.25" fill="#fcd35e"/>
<circle cx="660.9" cy="204.42" r="2.25" fill="#f7951f"/>
<circle cx="668.7" cy="204.42" r="2.25" fill="#fac31a"/>
<circle cx="676.5" cy="204.42" r="2.25" fill="#e1e4f1"/>
<circle cx="551.7" cy="212.98" r="2.25" fill="#fde2a2"/>
<circle cx="559.5" cy="212.98" r="2.25" fill="#fac31a"/>
<circle cx="567.3" cy="212.98" r="2.25" fill="#fcd35e"/>
<circle cx="575.1" cy="212.98" r="2.25" fill="#fde2a2"/>
<circle cx="582.9" cy="212.98" r="2.25" fill="#fde2a2"/>
<circle cx="590.7" cy="212.98" r="2.25" fill="#fde2a2"/>
<circle cx="598.5" cy="212.98" r="2.25" fill="#fac31a"/>
<circle cx="606.3" cy="212.98" r="2.25" fill="#27398d"/>
<circle cx="614.1" cy="212.98" r="2.25" fill="#fde2a2"/>
<circle cx="621.9" cy="212.98" r="2.25" fill="#f7951f"/>
<circle cx="629.7" cy="212.98" r="2.25" fill="#fac31a"/>
<circle cx="637.5" cy="212.98" r="2.25" fill="#fde2a2"/>
<circle cx="645.3" cy="212.98" r="2.25" fill="#f9aa1c"/>
<circle cx="653.1" cy="212.98" r="2.25" fill="#fdf3da"/>
<circle cx="660.9" cy="212.98" r="2.25" fill="#fde2a2"/>
<circle cx="668.7" cy="212.98" r="2.25" fill="#fdf3da"/>
<circle cx="676.5" cy="212.98" r="2.25" fill="#fde2a2"/>
<circle cx="551.7" cy="221.54" r="2.25" fill="#f7951f"/>
<circle cx="559.5" cy="221.54" r="2.25" fill="#f7951f"/>
<circle cx="567.3" cy="221.54" r="2.25" fill="#f7951f"/>
<circle cx="575.1" cy="221.54" r="2.25" fill="#f9aa1c"/>
<circle cx="582.9" cy="221.54" r="2.25" fill="#f7951f"/>
<circle cx="590.7" cy="221.54" r="3.15" fill="#f7951f"/>
<circle cx="598.5" cy="221.54" r="2.25" fill="#f9aa1c"/>
<circle cx="606.3" cy="221.54" r="2.25" fill="#f7951f"/>
<circle cx="614.1" cy="221.54" r="2.25" fill="#f9aa1c"/>
<circle cx="621.9" cy="221.54" r="2.25" fill="#f0602b"/>
<circle cx="629.7" cy="221.54" r="2.25" fill="#f7951f"/>
<circle cx="637.5" cy="221.54" r="2.25" fill="#f9aa1c"/>
<circle cx="645.3" cy="221.54" r="2.25" fill="#f47d22"/>
<circle cx="653.1" cy="221.54" r="2.25" fill="#fac31a"/>
<circle cx="660.9" cy="221.54" r="2.25" fill="#f7951f"/>
<circle cx="668.7" cy="221.54" r="3.15" fill="#f7951f"/>
<circle cx="676.5" cy="221.54" r="2.25" fill="#f9aa1c"/>
<circle cx="551.7" cy="230.1" r="4" fill="#f9aa1c"/>
<circle cx="559.5" cy="230.1" r="4" fill="#f9aa1c"/>
<circle cx="567.3" cy="230.1" r="4" fill="#f9aa1c"/>
<circle cx="575.1" cy="230.1" r="4" fill="#f9aa1c"/>
<circle cx="582.9" cy="230.1" r="3.15" fill="#f9aa1c"/>
<circle cx="590.7" cy="230.1" r="4" fill="#f7951f"/>
<circle cx="598.5" cy="230.1" r="4" fill="#fac31a"/>
<circle cx="606.3" cy="230.1" r="2.25" fill="#f7951f"/>
<circle cx="614.1" cy="230.1" r="4" fill="#fac31a"/>
<circle cx="621.9" cy="230.1" r="4" fill="#f7951f"/>
<circle cx="629.7" cy="230.1" r="4" fill="#f7951f"/>
<circle cx="637.5" cy="230.1" r="4" fill="#f7951f"/>
<circle cx="645.3" cy="230.1" r="2.25" fill="#f7951f"/>
<circle cx="653.1" cy="230.1" r="2.25" fill="#f9aa1c"/>
<circle cx="660.9" cy="230.1" r="4" fill="#f7951f"/>
<circle cx="668.7" cy="230.1" r="4" fill="#f9aa1c"/>
<circle cx="676.5" cy="230.1" r="3.15" fill="#f9aa1c"/>
<circle cx="551.7" cy="238.66" r="4" fill="#f9aa1c"/>
<circle cx="559.5" cy="238.66" r="4" fill="#f9aa1c"/>
<circle cx="567.3" cy="238.66" r="4" fill="#f9aa1c"/>
<circle cx="575.1" cy="238.66" r="4" fill="#f9aa1c"/>
<circle cx="582.9" cy="238.66" r="4" fill="#f9aa1c"/>
<circle cx="590.7" cy="238.66" r="4" fill="#f9aa1c"/>
<circle cx="598.5" cy="238.66" r="4" fill="#f9aa1c"/>
<circle cx="606.3" cy="238.66" r="4" fill="#f9aa1c"/>
<circle cx="614.1" cy="238.66" r="4" fill="#fac31a"/>
<circle cx="621.9" cy="238.66" r="4" fill="#f9aa1c"/>
<circle cx="629.7" cy="238.66" r="4" fill="#f9aa1c"/>
<circle cx="637.5" cy="238.66" r="4" fill="#f9aa1c"/>
<circle cx="645.3" cy="238.66" r="4" fill="#f9aa1c"/>
<circle cx="653.1" cy="238.66" r="4" fill="#fac31a"/>
<circle cx="660.9" cy="238.66" r="4" fill="#f9aa1c"/>
<circle cx="668.7" cy="238.66" r="4" fill="#f9aa1c"/>
<circle cx="676.5" cy="238.66" r="4" fill="#fac31a"/>
<circle cx="551.7" cy="247.22" r="4" fill="#f7951f"/>
<circle cx="559.5" cy="247.22" r="4" fill="#f9aa1c"/>
<circle cx="567.3" cy="247.22" r="4" fill="#f9aa1c"/>
<circle cx="575.1" cy="247.22" r="4" fill="#f9aa1c"/>
<circle cx="582.9" cy="247.22" r="4" fill="#f9aa1c"/>
<circle cx="590.7" cy="247.22" r="4" fill="#f9aa1c"/>
<circle cx="598.5" cy="247.22" r="4" fill="#f9aa1c"/>
<circle cx="606.3" cy="247.22" r="4" fill="#f9aa1c"/>
<circle cx="614.1" cy="247.22" r="4" fill="#f9aa1c"/>
<circle cx="621.9" cy="247.22" r="4" fill="#f9aa1c"/>
<circle cx="629.7" cy="247.22" r="4" fill="#f7951f"/>
<circle cx="637.5" cy="247.22" r="4" fill="#f7951f"/>
<circle cx="645.3" cy="247.22" r="4" fill="#f9aa1c"/>
<circle cx="653.1" cy="247.22" r="4" fill="#f7951f"/>
<circle cx="660.9" cy="247.22" r="4" fill="#f9aa1c"/>
<circle cx="668.7" cy="247.22" r="4" fill="#f9aa1c"/>
<circle cx="676.5" cy="247.22" r="4" fill="#f9aa1c"/>
<circle cx="551.7" cy="255.78" r="4" fill="#f9aa1c"/>
<circle cx="559.5" cy="255.78" r="4" fill="#fac31a"/>
<circle cx="567.3" cy="255.78" r="4" fill="#fcd35e"/>
<circle cx="575.1" cy="255.78" r="4" fill="#f9aa1c"/>
<circle cx="582.9" cy="255.78" r="4" fill="#fac31a"/>
<circle cx="590.7" cy="255.78" r="4" fill="#fac31a"/>
<circle cx="598.5" cy="255.78" r="4" fill="#fac31a"/>
<circle cx="606.3" cy="255.78" r="3.15" fill="#fde2a2"/>
<circle cx="614.1" cy="255.78" r="2.25" fill="#fde2a2"/>
<circle cx="621.9" cy="255.78" r="4" fill="#f9aa1c"/>
<circle cx="629.7" cy="255.78" r="4" fill="#f9aa1c"/>
<circle cx="637.5" cy="255.78" r="4" fill="#f9aa1c"/>
<circle cx="645.3" cy="255.78" r="4" fill="#f9aa1c"/>
<circle cx="653.1" cy="255.78" r="2.25" fill="#fde2a2"/>
<circle cx="660.9" cy="255.78" r="4" fill="#f9aa1c"/>
<circle cx="668.7" cy="255.78" r="4" fill="#fcd35e"/>
<circle cx="676.5" cy="255.78" r="4" fill="#fcd35e"/>
<circle cx="551.7" cy="264.34" r="4" fill="#f9aa1c"/>
<circle cx="559.5" cy="264.34" r="4" fill="#f9aa1c"/>
<circle cx="567.3" cy="264.34" r="4" fill="#fac31a"/>
<circle cx="575.1" cy="264.34" r="4" fill="#f9aa1c"/>
<circle cx="582.9" cy="264.34" r="4" fill="#fac31a"/>
<circle cx="590.7" cy="264.34" r="4" fill="#f9aa1c"/>
<circle cx="598.5" cy="264.34" r="4" fill="#f9aa1c"/>
<circle cx="606.3" cy="264.34" r="4" fill="#fac31a"/>
<circle cx="614.1" cy="264.34" r="4" fill="#fac31a"/>
<circle cx="621.9" cy="264.34" r="4" fill="#f9aa1c"/>
<circle cx="629.7" cy="264.34" r="4" fill="#f9aa1c"/>
<circle cx="637.5" cy="264.34" r="4" fill="#f9aa1c"/>
<circle cx="645.3" cy="264.34" r="4" fill="#f7951f"/>
<circle cx="653.1" cy="264.34" r="4" fill="#fcd35e"/>
<circle cx="660.9" cy="264.34" r="4" fill="#f9aa1c"/>
<circle cx="668.7" cy="264.34" r="4" fill="#fac31a"/>
<circle cx="676.5" cy="264.34" r="4" fill="#fac31a"/>
<circle cx="551.7" cy="272.9" r="4" fill="#f9aa1c"/>
<circle cx="559.5" cy="272.9" r="4" fill="#fac31a"/>
<circle cx="567.3" cy="272.9" r="4" fill="#fac31a"/>
<circle cx="575.1" cy="272.9" r="4" fill="#fac31a"/>
<circle cx="582.9" cy="272.9" r="2.25" fill="#fac31a"/>
<circle cx="590.7" cy="272.9" r="4" fill="#f9aa1c"/>
<circle cx="598.5" cy="272.9" r="3.15" fill="#fac31a"/>
<circle cx="606.3" cy="272.9" r="2.25" fill="#fde2a2"/>
<circle cx="614.1" cy="272.9" r="4" fill="#fac31a"/>
<circle cx="621.9" cy="272.9" r="4" fill="#f9aa1c"/>
<circle cx="629.7" cy="272.9" r="3.15" fill="#f9aa1c"/>
<circle cx="637.5" cy="272.9" r="4" fill="#f9aa1c"/>
<circle cx="645.3" cy="272.9" r="4" fill="#f9aa1c"/>
<circle cx="653.1" cy="272.9" r="2.25" fill="#fde2a2"/>
<circle cx="660.9" cy="272.9" r="2.25" fill="#fac31a"/>
<circle cx="668.7" cy="272.9" r="2.25" fill="#fde2a2"/>
<circle cx="676.5" cy="272.9" r="2.25" fill="#fcd35e"/>
<circle cx="551.7" cy="281.46" r="4" fill="#f0602b"/>
<circle cx="559.5" cy="281.46" r="2.25" fill="#f7951f"/>
<circle cx="567.3" cy="281.46" r="2.25" fill="#f7951f"/>
<circle cx="575.1" cy="281.46" r="2.25" fill="#f7951f"/>
<circle cx="582.9" cy="281.46" r="4" fill="#f0602b"/>
<circle cx="590.7" cy="281.46" r="2.25" fill="#f7951f"/>
<circle cx="598.5" cy="281.46" r="2.25" fill="#f7951f"/>
<circle cx="606.3" cy="281.46" r="2.25" fill="#f7951f"/>
<circle cx="614.1" cy="281.46" r="2.25" fill="#f0602b"/>
<circle cx="621.9" cy="281.46" r="3.15" fill="#f0602b"/>
<circle cx="629.7" cy="281.46" r="3.15" fill="#f0602b"/>
<circle cx="637.5" cy="281.46" r="2.25" fill="#f7951f"/>
<circle cx="645.3" cy="281.46" r="2.25" fill="#f7951f"/>
<circle cx="653.1" cy="281.46" r="2.25" fill="#fac31a"/>
<circle cx="660.9" cy="281.46" r="2.25" fill="#f7951f"/>
<circle cx="668.7" cy="281.46" r="2.25" fill="#f9aa1c"/>
<circle cx="676.5" cy="281.46" r="3.15" fill="#f0602b"/>
<circle cx="551.7" cy="290.02" r="4" fill="#f9aa1c"/>
<circle cx="559.5" cy="290.02" r="4" fill="#f9aa1c"/>
<circle cx="567.3" cy="290.02" r="4" fill="#f9aa1c"/>
<circle cx="575.1" cy="290.02" r="4" fill="#f9aa1c"/>
<circle cx="582.9" cy="290.02" r="4" fill="#fac31a"/>
<circle cx="590.7" cy="290.02" r="4" fill="#f9aa1c"/>
<circle cx="598.5" cy="290.02" r="4" fill="#f9aa1c"/>
<circle cx="606.3" cy="290.02" r="4" fill="#f9aa1c"/>
<circle cx="614.1" cy="290.02" r="4" fill="#f9aa1c"/>
<circle cx="621.9" cy="290.02" r="4" fill="#f9aa1c"/>
<circle cx="629.7" cy="290.02" r="4" fill="#f9aa1c"/>
<circle cx="637.5" cy="290.02" r="4" fill="#f9aa1c"/>
<circle cx="645.3" cy="290.02" r="4" fill="#f9aa1c"/>
<circle cx="653.1" cy="290.02" r="4" fill="#fac31a"/>
<circle cx="660.9" cy="290.02" r="4" fill="#f9aa1c"/>
<circle cx="668.7" cy="290.02" r="4" fill="#f9aa1c"/>
<circle cx="676.5" cy="290.02" r="4" fill="#fac31a"/>
<line x1="547.4" y1="295" x2="680.8" y2="295" stroke="#333" stroke-width="1.0"/>
<line x1="551.7" y1="295" x2="551.7" y2="297" stroke="#333" stroke-width="0.8"/>
<text x="554.6" y="298.6" font-size="8.3" text-anchor="end" font-style="italic" transform="rotate(-90 554.6 298.6)">Rps27a</text>
<line x1="559.5" y1="295" x2="559.5" y2="297" stroke="#333" stroke-width="0.8"/>
<text x="562.4" y="298.6" font-size="8.3" text-anchor="end" font-style="italic" transform="rotate(-90 562.4 298.6)">Rps16</text>
<line x1="567.3" y1="295" x2="567.3" y2="297" stroke="#333" stroke-width="0.8"/>
<text x="570.2" y="298.6" font-size="8.3" text-anchor="end" font-style="italic" transform="rotate(-90 570.2 298.6)">Rps12</text>
<line x1="575.1" y1="295" x2="575.1" y2="297" stroke="#333" stroke-width="0.8"/>
<text x="578" y="298.6" font-size="8.3" text-anchor="end" font-style="italic" transform="rotate(-90 578 298.6)">Rps10</text>
<line x1="582.9" y1="295" x2="582.9" y2="297" stroke="#333" stroke-width="0.8"/>
<text x="585.8" y="298.6" font-size="8.3" text-anchor="end" font-style="italic" transform="rotate(-90 585.8 298.6)">Rps8</text>
<line x1="590.7" y1="295" x2="590.7" y2="297" stroke="#333" stroke-width="0.8"/>
<text x="593.6" y="298.6" font-size="8.3" text-anchor="end" font-style="italic" transform="rotate(-90 593.6 298.6)">Rps11</text>
<line x1="598.5" y1="295" x2="598.5" y2="297" stroke="#333" stroke-width="0.8"/>
<text x="601.4" y="298.6" font-size="8.3" text-anchor="end" font-style="italic" transform="rotate(-90 601.4 298.6)">Rps13</text>
<line x1="606.3" y1="295" x2="606.3" y2="297" stroke="#333" stroke-width="0.8"/>
<text x="609.2" y="298.6" font-size="8.3" text-anchor="end" font-style="italic" transform="rotate(-90 609.2 298.6)">Rps19</text>
<line x1="614.1" y1="295" x2="614.1" y2="297" stroke="#333" stroke-width="0.8"/>
<text x="617" y="298.6" font-size="8.3" text-anchor="end" font-style="italic" transform="rotate(-90 617 298.6)">Rps9</text>
<line x1="621.9" y1="295" x2="621.9" y2="297" stroke="#333" stroke-width="0.8"/>
<text x="624.8" y="298.6" font-size="8.3" text-anchor="end" font-style="italic" transform="rotate(-90 624.8 298.6)">Rps2</text>
<line x1="629.7" y1="295" x2="629.7" y2="297" stroke="#333" stroke-width="0.8"/>
<text x="632.6" y="298.6" font-size="8.3" text-anchor="end" font-style="italic" transform="rotate(-90 632.6 298.6)">Rps18</text>
<line x1="637.5" y1="295" x2="637.5" y2="297" stroke="#333" stroke-width="0.8"/>
<text x="640.4" y="298.6" font-size="8.3" text-anchor="end" font-style="italic" transform="rotate(-90 640.4 298.6)">Rps15a</text>
<line x1="645.3" y1="295" x2="645.3" y2="297" stroke="#333" stroke-width="0.8"/>
<text x="648.2" y="298.6" font-size="8.3" text-anchor="end" font-style="italic" transform="rotate(-90 648.2 298.6)">Rps7</text>
<line x1="653.1" y1="295" x2="653.1" y2="297" stroke="#333" stroke-width="0.8"/>
<text x="656" y="298.6" font-size="8.3" text-anchor="end" font-style="italic" transform="rotate(-90 656 298.6)">Rps15</text>
<line x1="660.9" y1="295" x2="660.9" y2="297" stroke="#333" stroke-width="0.8"/>
<text x="663.8" y="298.6" font-size="8.3" text-anchor="end" font-style="italic" transform="rotate(-90 663.8 298.6)">Rps5</text>
<line x1="668.7" y1="295" x2="668.7" y2="297" stroke="#333" stroke-width="0.8"/>
<text x="671.6" y="298.6" font-size="8.3" text-anchor="end" font-style="italic" transform="rotate(-90 671.6 298.6)">Rps23</text>
<line x1="676.5" y1="295" x2="676.5" y2="297" stroke="#333" stroke-width="0.8"/>
<text x="679.4" y="298.6" font-size="8.3" text-anchor="end" font-style="italic" transform="rotate(-90 679.4 298.6)">Rps25</text>
<text x="393.2" y="351.5" font-size="8.0" text-anchor="middle" fill="#111">Average</text>
<text x="394.3" y="360.8" font-size="8.0" text-anchor="middle" fill="#111">log<tspan font-size="5" dy="1.9">2</tspan><tspan dy="-1.9"> fold change</tspan></text>
<text x="404.1" y="335.6" font-size="6.87" fill="#111">Downregulated by EP2iEP4i</text>
<text x="496" y="335.6" font-size="6.82" fill="#111">Upregulated by EP2iEP4i</text>
<line x1="462" y1="341.3" x2="490.4" y2="341.3" stroke="#111" stroke-width="0.9"/>
<path d="M458.6 341.3 L463.2 339.5 L463.2 343.1 Z" fill="#111" stroke="none" stroke-width="1"/>
<line x1="494.3" y1="341.3" x2="520.6" y2="341.3" stroke="#111" stroke-width="0.9"/>
<path d="M524.2 341.3 L519.6 339.5 L519.6 343.1 Z" fill="#111" stroke="none" stroke-width="1"/>
<defs>
<linearGradient id="gb" x1="0" x2="1" y1="0" y2="0">
<stop offset="0" stop-color="#2a1f86"/><stop offset="0.35" stop-color="#1f2b83"/><stop offset="0.65" stop-color="#2d4494"/><stop offset="0.82" stop-color="#5a6fb0"/><stop offset="1" stop-color="#ffffff"/>
</linearGradient>
<linearGradient id="gy" x1="0" x2="1" y1="0" y2="0">
<stop offset="0" stop-color="#ffffff"/><stop offset="0.08" stop-color="#fde9a6"/><stop offset="0.25" stop-color="#fcc51a"/><stop offset="0.45" stop-color="#f8a01e"/><stop offset="0.7" stop-color="#f26d2a"/><stop offset="1" stop-color="#e83a4a"/>
</linearGradient>
<linearGradient id="gv" x1="0" x2="0" y1="0" y2="1">
<stop offset="0" stop-color="#e8404a"/><stop offset="0.35" stop-color="#f36d2b"/><stop offset="0.75" stop-color="#f9a21c"/><stop offset="1" stop-color="#fdd24a"/>
</linearGradient>
<linearGradient id="gv2" x1="0" x2="0" y1="0" y2="1">
<stop offset="0" stop-color="#2f4896"/><stop offset="0.5" stop-color="#233584"/><stop offset="1" stop-color="#2a1f80"/>
</linearGradient>
</defs>
<rect x="444.9" y="346.1" width="47.4" height="10.5" fill="url(#gb)"/>
<rect x="492.3" y="346.1" width="48.6" height="10.5" fill="url(#gy)"/>
<line x1="453.9" y1="346.1" x2="453.9" y2="347.8" stroke="#fff" stroke-width="0.7"/>
<line x1="453.9" y1="354.9" x2="453.9" y2="356.6" stroke="#fff" stroke-width="0.7"/>
<line x1="472.8" y1="346.1" x2="472.8" y2="347.8" stroke="#fff" stroke-width="0.7"/>
<line x1="472.8" y1="354.9" x2="472.8" y2="356.6" stroke="#fff" stroke-width="0.7"/>
<line x1="511.5" y1="346.1" x2="511.5" y2="347.8" stroke="#fff" stroke-width="0.7"/>
<line x1="511.5" y1="354.9" x2="511.5" y2="356.6" stroke="#fff" stroke-width="0.7"/>
<line x1="531.1" y1="346.1" x2="531.1" y2="347.8" stroke="#fff" stroke-width="0.7"/>
<line x1="531.1" y1="354.9" x2="531.1" y2="356.6" stroke="#fff" stroke-width="0.7"/>
<text x="453.9" y="364.6" font-size="6.3" text-anchor="middle" fill="#222">−1</text>
<text x="472.8" y="364.6" font-size="6.3" text-anchor="middle" fill="#222">−0.5</text>
<text x="492.5" y="364.6" font-size="6.3" text-anchor="middle" fill="#222">0</text>
<text x="511.5" y="364.6" font-size="6.3" text-anchor="middle" fill="#222">0.5</text>
<text x="531.1" y="364.6" font-size="6.3" text-anchor="middle" fill="#222">1</text>
<text x="621" y="345.7" font-size="8.2" text-anchor="middle" fill="#111">Adjusted <tspan font-style="italic">P</tspan>-value</text>
<circle cx="557" cy="356" r="1.9" fill="#000"/>
<text x="560.5" y="358.4" font-size="6.8" fill="#111">&gt; 0.05</text>
<circle cx="590.4" cy="356" r="2.6" fill="#000"/>
<text x="594.6" y="358.4" font-size="6.8" fill="#111">&lt; 0.05</text>
<circle cx="623.7" cy="356" r="3.3" fill="#000"/>
<text x="628.6" y="358.4" font-size="6.8" fill="#111">&lt; 0.01</text>
<circle cx="656.6" cy="356" r="3.85" fill="#000"/>
<text x="662.05" y="358.4" font-size="6.8" fill="#111">&lt; 0.001</text>
<text x="3.6" y="381.9" font-size="11" font-weight="bold" fill="#000">d</text>
<text x="45.8" y="380.7" font-size="8.17">HALLMARK_IL2_STAT5_SIGNALING</text>
<rect x="49.4" y="386.1" width="109.4" height="11.3" fill="#fff" stroke="#333" stroke-width="0.9"/>
<text x="104.1" y="395" font-size="8.1" text-anchor="middle" fill="#111">Day 1.5</text>
<rect x="195.3" y="386.1" width="108.3" height="11.3" fill="#fff" stroke="#333" stroke-width="0.9"/>
<text x="249.5" y="395" font-size="8.1" text-anchor="middle" fill="#111">Day 6</text>
<line x1="27.8" y1="391" x2="27.8" y2="445" stroke="#222" stroke-width="0.9"/>
<path d="M26.0 392.6 L29.6 392.6 L27.8 388.0 Z" fill="#222" stroke="none" stroke-width="1"/>
<text x="22.3" y="432.7" font-size="7.95" text-anchor="middle" fill="#111" transform="rotate(-90 22.3 432.7)">Running enrichment</text>
<text x="29.9" y="457.6" font-size="7.95" text-anchor="middle" fill="#111" transform="rotate(-90 29.9 457.6)">score</text>
<text x="46.3" y="472.2" font-size="8.1" fill="#111">Genes rank</text>
<line x1="90" y1="470" x2="300" y2="470" stroke="#222" stroke-width="0.9"/>
<path d="M299.2 468.2 L299.2 471.8 L303.8 470 Z" fill="#222" stroke="none" stroke-width="1"/>
<line x1="49.8" y1="402.5" x2="49.8" y2="450.1" stroke="#333" stroke-width="0.9"/>
<line x1="49.8" y1="450.1" x2="158.8" y2="450.1" stroke="#333" stroke-width="0.9"/>
<line x1="47.8" y1="412.7" x2="49.8" y2="412.7" stroke="#333" stroke-width="0.8"/>
<text x="47" y="415.18" font-size="6.9" text-anchor="end" fill="#333">0.0</text>
<line x1="47.8" y1="424.5" x2="49.8" y2="424.5" stroke="#333" stroke-width="0.8"/>
<text x="47" y="426.98" font-size="6.9" text-anchor="end" fill="#333">−0.2</text>
<line x1="47.8" y1="436.2" x2="49.8" y2="436.2" stroke="#333" stroke-width="0.8"/>
<text x="47" y="438.68" font-size="6.9" text-anchor="end" fill="#333">−0.4</text>
<line x1="47.8" y1="448" x2="49.8" y2="448" stroke="#333" stroke-width="0.8"/>
<text x="47" y="450.48" font-size="6.9" text-anchor="end" fill="#333">−0.6</text>
<line x1="54.5" y1="450.1" x2="54.5" y2="452.1" stroke="#333" stroke-width="0.8"/>
<text x="54.5" y="458.7" font-size="6.7" text-anchor="middle" fill="#333">0</text>
<line x1="81" y1="450.1" x2="81" y2="452.1" stroke="#333" stroke-width="0.8"/>
<text x="81" y="458.7" font-size="6.7" text-anchor="middle" fill="#333">3000</text>
<line x1="107.5" y1="450.1" x2="107.5" y2="452.1" stroke="#333" stroke-width="0.8"/>
<text x="107.5" y="458.7" font-size="6.7" text-anchor="middle" fill="#333">6000</text>
<line x1="134" y1="450.1" x2="134" y2="452.1" stroke="#333" stroke-width="0.8"/>
<text x="134" y="458.7" font-size="6.7" text-anchor="middle" fill="#333">9000</text>
<line x1="54.06" y1="441.7" x2="54.06" y2="447.9" stroke="#1a9090" stroke-width="0.9" stroke-opacity="0.56"/>
<line x1="54.67" y1="441.7" x2="54.67" y2="447.9" stroke="#1a9090" stroke-width="0.5" stroke-opacity="0.52"/>
<line x1="55.4" y1="441.7" x2="55.4" y2="447.9" stroke="#1a9090" stroke-width="0.6" stroke-opacity="0.86"/>
<line x1="55.78" y1="441.7" x2="55.78" y2="447.9" stroke="#1a9090" stroke-width="0.5" stroke-opacity="0.87"/>
<line x1="56.33" y1="441.7" x2="56.33" y2="447.9" stroke="#1a9090" stroke-width="0.9" stroke-opacity="0.77"/>
<line x1="57.05" y1="441.7" x2="57.05" y2="447.9" stroke="#1a9090" stroke-width="0.5" stroke-opacity="0.60"/>
<line x1="57.42" y1="441.7" x2="57.42" y2="447.9" stroke="#1a9090" stroke-width="0.9" stroke-opacity="0.89"/>
<line x1="58.07" y1="441.7" x2="58.07" y2="447.9" stroke="#1a9090" stroke-width="0.9" stroke-opacity="0.60"/>
<line x1="58.64" y1="441.7" x2="58.64" y2="447.9" stroke="#1a9090" stroke-width="0.6" stroke-opacity="0.98"/>
<line x1="59.35" y1="441.7" x2="59.35" y2="447.9" stroke="#1a9090" stroke-width="0.5" stroke-opacity="0.71"/>
<line x1="60" y1="441.7" x2="60" y2="447.9" stroke="#1a9090" stroke-width="0.7" stroke-opacity="0.92"/>
<line x1="60.19" y1="441.7" x2="60.19" y2="447.9" stroke="#1a9090" stroke-width="0.9" stroke-opacity="0.57"/>
<line x1="60.7" y1="441.7" x2="60.7" y2="447.9" stroke="#1a9090" stroke-width="0.9" stroke-opacity="0.87"/>
<line x1="61.53" y1="441.7" x2="61.53" y2="447.9" stroke="#1a9090" stroke-width="0.9" stroke-opacity="0.61"/>
<line x1="62.11" y1="441.7" x2="62.11" y2="447.9" stroke="#1a9090" stroke-width="0.6" stroke-opacity="0.60"/>
<line x1="62.56" y1="441.7" x2="62.56" y2="447.9" stroke="#1a9090" stroke-width="0.7" stroke-opacity="0.63"/>
<line x1="63.05" y1="441.7" x2="63.05" y2="447.9" stroke="#1a9090" stroke-width="0.7" stroke-opacity="0.70"/>
<line x1="63.88" y1="441.7" x2="63.88" y2="447.9" stroke="#1a9090" stroke-width="0.5" stroke-opacity="0.99"/>
<line x1="64.35" y1="441.7" x2="64.35" y2="447.9" stroke="#1a9090" stroke-width="0.6" stroke-opacity="0.65"/>
<line x1="66.34" y1="441.7" x2="66.34" y2="447.9" stroke="#1a9090" stroke-width="0.7" stroke-opacity="0.91"/>
<line x1="66.73" y1="441.7" x2="66.73" y2="447.9" stroke="#1a9090" stroke-width="0.7" stroke-opacity="0.43"/>
<line x1="67.66" y1="441.7" x2="67.66" y2="447.9" stroke="#1a9090" stroke-width="0.9" stroke-opacity="0.36"/>
<line x1="68.08" y1="441.7" x2="68.08" y2="447.9" stroke="#1a9090" stroke-width="0.6" stroke-opacity="0.50"/>
<line x1="68.62" y1="441.7" x2="68.62" y2="447.9" stroke="#1a9090" stroke-width="0.7" stroke-opacity="0.43"/>
<line x1="69.41" y1="441.7" x2="69.41" y2="447.9" stroke="#1a9090" stroke-width="0.5" stroke-opacity="0.81"/>
<line x1="69.94" y1="441.7" x2="69.94" y2="447.9" stroke="#1a9090" stroke-width="0.5" stroke-opacity="0.87"/>
<line x1="70.91" y1="441.7" x2="70.91" y2="447.9" stroke="#1a9090" stroke-width="0.6" stroke-opacity="0.43"/>
<line x1="71.41" y1="441.7" x2="71.41" y2="447.9" stroke="#1a9090" stroke-width="0.9" stroke-opacity="0.86"/>
<line x1="71.71" y1="441.7" x2="71.71" y2="447.9" stroke="#1a9090" stroke-width="0.7" stroke-opacity="0.70"/>
<line x1="72.73" y1="441.7" x2="72.73" y2="447.9" stroke="#1a9090" stroke-width="0.9" stroke-opacity="0.94"/>
<line x1="73.25" y1="441.7" x2="73.25" y2="447.9" stroke="#1a9090" stroke-width="0.5" stroke-opacity="0.32"/>
<line x1="73.79" y1="441.7" x2="73.79" y2="447.9" stroke="#1a9090" stroke-width="0.9" stroke-opacity="0.82"/>
<line x1="74.66" y1="441.7" x2="74.66" y2="447.9" stroke="#1a9090" stroke-width="0.7" stroke-opacity="0.80"/>
<line x1="75.04" y1="441.7" x2="75.04" y2="447.9" stroke="#1a9090" stroke-width="0.9" stroke-opacity="0.81"/>
<line x1="75.6" y1="441.7" x2="75.6" y2="447.9" stroke="#1a9090" stroke-width="0.9" stroke-opacity="0.31"/>
<line x1="76.34" y1="441.7" x2="76.34" y2="447.9" stroke="#1a9090" stroke-width="0.5" stroke-opacity="0.59"/>
<line x1="76.74" y1="441.7" x2="76.74" y2="447.9" stroke="#1a9090" stroke-width="0.5" stroke-opacity="0.67"/>
<line x1="77.76" y1="441.7" x2="77.76" y2="447.9" stroke="#1a9090" stroke-width="0.6" stroke-opacity="0.88"/>
<line x1="78.39" y1="441.7" x2="78.39" y2="447.9" stroke="#1a9090" stroke-width="0.6" stroke-opacity="0.86"/>
<line x1="78.82" y1="441.7" x2="78.82" y2="447.9" stroke="#1a9090" stroke-width="0.9" stroke-opacity="0.66"/>
<line x1="79.28" y1="441.7" x2="79.28" y2="447.9" stroke="#1a9090" stroke-width="0.9" stroke-opacity="0.43"/>
<line x1="79.95" y1="441.7" x2="79.95" y2="447.9" stroke="#1a9090" stroke-width="0.7" stroke-opacity="0.83"/>
<line x1="80.48" y1="441.7" x2="80.48" y2="447.9" stroke="#1a9090" stroke-width="0.7" stroke-opacity="0.38"/>
<line x1="81.41" y1="441.7" x2="81.41" y2="447.9" stroke="#1a9090" stroke-width="0.9" stroke-opacity="0.91"/>
<line x1="81.96" y1="441.7" x2="81.96" y2="447.9" stroke="#1a9090" stroke-width="0.5" stroke-opacity="0.41"/>
<line x1="82.66" y1="441.7" x2="82.66" y2="447.9" stroke="#1a9090" stroke-width="0.6" stroke-opacity="0.43"/>
<line x1="83.1" y1="441.7" x2="83.1" y2="447.9" stroke="#1a9090" stroke-width="0.9" stroke-opacity="0.50"/>
<line x1="83.98" y1="441.7" x2="83.98" y2="447.9" stroke="#1a9090" stroke-width="0.6" stroke-opacity="0.50"/>
<line x1="84.62" y1="441.7" x2="84.62" y2="447.9" stroke="#1a9090" stroke-width="0.5" stroke-opacity="0.48"/>
<line x1="84.8" y1="441.7" x2="84.8" y2="447.9" stroke="#1a9090" stroke-width="0.7" stroke-opacity="0.70"/>
<line x1="85.54" y1="441.7" x2="85.54" y2="447.9" stroke="#1a9090" stroke-width="0.7" stroke-opacity="0.43"/>
<line x1="86.14" y1="441.7" x2="86.14" y2="447.9" stroke="#1a9090" stroke-width="0.9" stroke-opacity="0.32"/>
<line x1="86.85" y1="441.7" x2="86.85" y2="447.9" stroke="#1a9090" stroke-width="0.6" stroke-opacity="0.43"/>
<line x1="87.44" y1="441.7" x2="87.44" y2="447.9" stroke="#1a9090" stroke-width="0.7" stroke-opacity="0.49"/>
<line x1="87.96" y1="441.7" x2="87.96" y2="447.9" stroke="#1a9090" stroke-width="0.6" stroke-opacity="0.44"/>
<line x1="88.97" y1="441.7" x2="88.97" y2="447.9" stroke="#1a9090" stroke-width="0.9" stroke-opacity="0.75"/>
<line x1="89.38" y1="441.7" x2="89.38" y2="447.9" stroke="#1a9090" stroke-width="0.6" stroke-opacity="0.72"/>
<line x1="89.99" y1="441.7" x2="89.99" y2="447.9" stroke="#1a9090" stroke-width="0.6" stroke-opacity="0.34"/>
<line x1="90.55" y1="441.7" x2="90.55" y2="447.9" stroke="#1a9090" stroke-width="0.5" stroke-opacity="0.61"/>
<line x1="91.52" y1="441.7" x2="91.52" y2="447.9" stroke="#1a9090" stroke-width="0.7" stroke-opacity="0.48"/>
<line x1="92.03" y1="441.7" x2="92.03" y2="447.9" stroke="#1a9090" stroke-width="0.6" stroke-opacity="0.50"/>
<line x1="92.57" y1="441.7" x2="92.57" y2="447.9" stroke="#1a9090" stroke-width="0.6" stroke-opacity="0.56"/>
<line x1="93.02" y1="441.7" x2="93.02" y2="447.9" stroke="#1a9090" stroke-width="0.7" stroke-opacity="0.39"/>
<line x1="93.95" y1="441.7" x2="93.95" y2="447.9" stroke="#1a9090" stroke-width="0.6" stroke-opacity="0.74"/>
<line x1="94.16" y1="441.7" x2="94.16" y2="447.9" stroke="#1a9090" stroke-width="0.9" stroke-opacity="0.89"/>
<line x1="95.24" y1="441.7" x2="95.24" y2="447.9" stroke="#1a9090" stroke-width="0.7" stroke-opacity="0.74"/>
<line x1="95.55" y1="441.7" x2="95.55" y2="447.9" stroke="#1a9090" stroke-width="0.6" stroke-opacity="0.55"/>
<line x1="96.3" y1="441.7" x2="96.3" y2="447.9" stroke="#1a9090" stroke-width="0.9" stroke-opacity="0.44"/>
<line x1="96.67" y1="441.7" x2="96.67" y2="447.9" stroke="#1a9090" stroke-width="0.6" stroke-opacity="0.67"/>
<line x1="97.29" y1="441.7" x2="97.29" y2="447.9" stroke="#1a9090" stroke-width="0.7" stroke-opacity="0.92"/>
<line x1="98.03" y1="441.7" x2="98.03" y2="447.9" stroke="#1a9090" stroke-width="0.5" stroke-opacity="0.37"/>
<line x1="98.68" y1="441.7" x2="98.68" y2="447.9" stroke="#1a9090" stroke-width="0.9" stroke-opacity="0.77"/>
<line x1="99.21" y1="441.7" x2="99.21" y2="447.9" stroke="#1a9090" stroke-width="0.7" stroke-opacity="0.33"/>
<line x1="100.16" y1="441.7" x2="100.16" y2="447.9" stroke="#1a9090" stroke-width="0.6" stroke-opacity="0.91"/>
<line x1="100.66" y1="441.7" x2="100.66" y2="447.9" stroke="#1a9090" stroke-width="0.6" stroke-opacity="0.59"/>
<line x1="101.05" y1="441.7" x2="101.05" y2="447.9" stroke="#1a9090" stroke-width="0.9" stroke-opacity="0.62"/>
<line x1="101.86" y1="441.7" x2="101.86" y2="447.9" stroke="#1a9090" stroke-width="0.9" stroke-opacity="0.61"/>
<line x1="104.97" y1="441.7" x2="104.97" y2="447.9" stroke="#1a9090" stroke-width="0.7" stroke-opacity="0.30"/>
<line x1="105.36" y1="441.7" x2="105.36" y2="447.9" stroke="#1a9090" stroke-width="0.9" stroke-opacity="0.95"/>
<line x1="106.24" y1="441.7" x2="106.24" y2="447.9" stroke="#1a9090" stroke-width="0.9" stroke-opacity="0.34"/>
<line x1="106.86" y1="441.7" x2="106.86" y2="447.9" stroke="#1a9090" stroke-width="0.9" stroke-opacity="0.51"/>
<line x1="107.11" y1="441.7" x2="107.11" y2="447.9" stroke="#1a9090" stroke-width="0.5" stroke-opacity="0.44"/>
<line x1="107.93" y1="441.7" x2="107.93" y2="447.9" stroke="#1a9090" stroke-width="0.5" stroke-opacity="0.85"/>
<line x1="108.62" y1="441.7" x2="108.62" y2="447.9" stroke="#1a9090" stroke-width="0.9" stroke-opacity="0.57"/>
<line x1="108.85" y1="441.7" x2="108.85" y2="447.9" stroke="#1a9090" stroke-width="0.7" stroke-opacity="0.93"/>
<line x1="109.58" y1="441.7" x2="109.58" y2="447.9" stroke="#1a9090" stroke-width="0.5" stroke-opacity="0.66"/>
<line x1="110.18" y1="441.7" x2="110.18" y2="447.9" stroke="#1a9090" stroke-width="0.7" stroke-opacity="0.39"/>
<line x1="110.97" y1="441.7" x2="110.97" y2="447.9" stroke="#1a9090" stroke-width="0.6" stroke-opacity="0.87"/>
<line x1="111.45" y1="441.7" x2="111.45" y2="447.9" stroke="#1a9090" stroke-width="0.7" stroke-opacity="0.60"/>
<line x1="111.9" y1="441.7" x2="111.9" y2="447.9" stroke="#1a9090" stroke-width="0.9" stroke-opacity="0.92"/>
<line x1="112.69" y1="441.7" x2="112.69" y2="447.9" stroke="#1a9090" stroke-width="0.9" stroke-opacity="0.84"/>
<line x1="113.31" y1="441.7" x2="113.31" y2="447.9" stroke="#1a9090" stroke-width="0.5" stroke-opacity="0.57"/>
<line x1="113.6" y1="441.7" x2="113.6" y2="447.9" stroke="#1a9090" stroke-width="0.7" stroke-opacity="0.45"/>
<line x1="114.48" y1="441.7" x2="114.48" y2="447.9" stroke="#1a9090" stroke-width="0.5" stroke-opacity="0.93"/>
<line x1="115.04" y1="441.7" x2="115.04" y2="447.9" stroke="#1a9090" stroke-width="0.7" stroke-opacity="0.37"/>
<line x1="115.4" y1="441.7" x2="115.4" y2="447.9" stroke="#1a9090" stroke-width="0.9" stroke-opacity="0.81"/>
<line x1="115.96" y1="441.7" x2="115.96" y2="447.9" stroke="#1a9090" stroke-width="0.7" stroke-opacity="0.63"/>
<line x1="116.84" y1="441.7" x2="116.84" y2="447.9" stroke="#1a9090" stroke-width="0.9" stroke-opacity="0.65"/>
<line x1="117.27" y1="441.7" x2="117.27" y2="447.9" stroke="#1a9090" stroke-width="0.9" stroke-opacity="0.39"/>
<line x1="117.87" y1="441.7" x2="117.87" y2="447.9" stroke="#1a9090" stroke-width="0.7" stroke-opacity="0.34"/>
<line x1="118.38" y1="441.7" x2="118.38" y2="447.9" stroke="#1a9090" stroke-width="0.5" stroke-opacity="0.85"/>
<line x1="119.18" y1="441.7" x2="119.18" y2="447.9" stroke="#1a9090" stroke-width="0.6" stroke-opacity="0.38"/>
<line x1="119.67" y1="441.7" x2="119.67" y2="447.9" stroke="#1a9090" stroke-width="0.6" stroke-opacity="0.68"/>
<line x1="120.12" y1="441.7" x2="120.12" y2="447.9" stroke="#1a9090" stroke-width="0.9" stroke-opacity="0.65"/>
<line x1="120.87" y1="441.7" x2="120.87" y2="447.9" stroke="#1a9090" stroke-width="0.7" stroke-opacity="0.65"/>
<line x1="121.53" y1="441.7" x2="121.53" y2="447.9" stroke="#1a9090" stroke-width="0.6" stroke-opacity="0.72"/>
<line x1="121.84" y1="441.7" x2="121.84" y2="447.9" stroke="#1a9090" stroke-width="0.9" stroke-opacity="0.93"/>
<line x1="122.81" y1="441.7" x2="122.81" y2="447.9" stroke="#1a9090" stroke-width="0.6" stroke-opacity="0.77"/>
<line x1="123.15" y1="441.7" x2="123.15" y2="447.9" stroke="#1a9090" stroke-width="0.6" stroke-opacity="0.93"/>
<line x1="123.76" y1="441.7" x2="123.76" y2="447.9" stroke="#1a9090" stroke-width="0.7" stroke-opacity="0.39"/>
<line x1="124.51" y1="441.7" x2="124.51" y2="447.9" stroke="#1a9090" stroke-width="0.6" stroke-opacity="0.62"/>
<line x1="125.11" y1="441.7" x2="125.11" y2="447.9" stroke="#1a9090" stroke-width="0.9" stroke-opacity="0.52"/>
<line x1="125.48" y1="441.7" x2="125.48" y2="447.9" stroke="#1a9090" stroke-width="0.6" stroke-opacity="0.80"/>
<line x1="126.13" y1="441.7" x2="126.13" y2="447.9" stroke="#1a9090" stroke-width="0.6" stroke-opacity="0.50"/>
<line x1="126.82" y1="441.7" x2="126.82" y2="447.9" stroke="#1a9090" stroke-width="0.9" stroke-opacity="0.78"/>
<line x1="127.24" y1="441.7" x2="127.24" y2="447.9" stroke="#1a9090" stroke-width="0.5" stroke-opacity="0.86"/>
<line x1="128.02" y1="441.7" x2="128.02" y2="447.9" stroke="#1a9090" stroke-width="0.7" stroke-opacity="0.89"/>
<line x1="128.64" y1="441.7" x2="128.64" y2="447.9" stroke="#1a9090" stroke-width="0.5" stroke-opacity="0.34"/>
<line x1="129.23" y1="441.7" x2="129.23" y2="447.9" stroke="#1a9090" stroke-width="0.7" stroke-opacity="0.85"/>
<line x1="129.71" y1="441.7" x2="129.71" y2="447.9" stroke="#1a9090" stroke-width="0.7" stroke-opacity="0.45"/>
<line x1="130.22" y1="441.7" x2="130.22" y2="447.9" stroke="#1a9090" stroke-width="0.5" stroke-opacity="0.49"/>
<line x1="131.07" y1="441.7" x2="131.07" y2="447.9" stroke="#1a9090" stroke-width="0.5" stroke-opacity="0.56"/>
<line x1="131.24" y1="441.7" x2="131.24" y2="447.9" stroke="#1a9090" stroke-width="0.7" stroke-opacity="0.56"/>
<line x1="131.88" y1="441.7" x2="131.88" y2="447.9" stroke="#1a9090" stroke-width="0.5" stroke-opacity="0.32"/>
<line x1="132.65" y1="441.7" x2="132.65" y2="447.9" stroke="#1a9090" stroke-width="0.7" stroke-opacity="0.56"/>
<line x1="133.39" y1="441.7" x2="133.39" y2="447.9" stroke="#1a9090" stroke-width="0.5" stroke-opacity="0.76"/>
<line x1="133.72" y1="441.7" x2="133.72" y2="447.9" stroke="#1a9090" stroke-width="0.9" stroke-opacity="0.46"/>
<line x1="134.59" y1="441.7" x2="134.59" y2="447.9" stroke="#1a9090" stroke-width="0.9" stroke-opacity="0.53"/>
<line x1="134.95" y1="441.7" x2="134.95" y2="447.9" stroke="#1a9090" stroke-width="0.6" stroke-opacity="0.95"/>
<line x1="135.8" y1="441.7" x2="135.8" y2="447.9" stroke="#1a9090" stroke-width="0.6" stroke-opacity="0.76"/>
<line x1="136.36" y1="441.7" x2="136.36" y2="447.9" stroke="#1a9090" stroke-width="0.6" stroke-opacity="0.67"/>
<line x1="136.86" y1="441.7" x2="136.86" y2="447.9" stroke="#1a9090" stroke-width="0.5" stroke-opacity="0.69"/>
<line x1="137.53" y1="441.7" x2="137.53" y2="447.9" stroke="#1a9090" stroke-width="0.6" stroke-opacity="0.48"/>
<line x1="137.93" y1="441.7" x2="137.93" y2="447.9" stroke="#1a9090" stroke-width="0.6" stroke-opacity="0.52"/>
<line x1="138.43" y1="441.7" x2="138.43" y2="447.9" stroke="#1a9090" stroke-width="0.6" stroke-opacity="0.75"/>
<line x1="139.01" y1="441.7" x2="139.01" y2="447.9" stroke="#1a9090" stroke-width="0.7" stroke-opacity="0.53"/>
<line x1="139.93" y1="441.7" x2="139.93" y2="447.9" stroke="#1a9090" stroke-width="0.9" stroke-opacity="0.60"/>
<line x1="140.13" y1="441.7" x2="140.13" y2="447.9" stroke="#1a9090" stroke-width="0.5" stroke-opacity="0.71"/>
<line x1="140.55" y1="441.7" x2="140.55" y2="447.9" stroke="#1a9090" stroke-width="0.9" stroke-opacity="0.77"/>
<line x1="141.21" y1="441.7" x2="141.21" y2="447.9" stroke="#1a9090" stroke-width="0.9" stroke-opacity="0.76"/>
<line x1="141.73" y1="441.7" x2="141.73" y2="447.9" stroke="#1a9090" stroke-width="0.5" stroke-opacity="0.76"/>
<line x1="142.04" y1="441.7" x2="142.04" y2="447.9" stroke="#1a9090" stroke-width="0.5" stroke-opacity="0.75"/>
<line x1="142.92" y1="441.7" x2="142.92" y2="447.9" stroke="#1a9090" stroke-width="0.7" stroke-opacity="0.97"/>
<line x1="143.33" y1="441.7" x2="143.33" y2="447.9" stroke="#1a9090" stroke-width="0.5" stroke-opacity="0.70"/>
<line x1="143.71" y1="441.7" x2="143.71" y2="447.9" stroke="#1a9090" stroke-width="0.6" stroke-opacity="0.58"/>
<line x1="144.18" y1="441.7" x2="144.18" y2="447.9" stroke="#1a9090" stroke-width="0.6" stroke-opacity="0.84"/>
<line x1="144.57" y1="441.7" x2="144.57" y2="447.9" stroke="#1a9090" stroke-width="0.7" stroke-opacity="0.83"/>
<line x1="145.15" y1="441.7" x2="145.15" y2="447.9" stroke="#1a9090" stroke-width="0.7" stroke-opacity="0.63"/>
<line x1="145.79" y1="441.7" x2="145.79" y2="447.9" stroke="#1a9090" stroke-width="0.5" stroke-opacity="0.81"/>
<line x1="146.02" y1="441.7" x2="146.02" y2="447.9" stroke="#1a9090" stroke-width="0.5" stroke-opacity="0.70"/>
<line x1="146.69" y1="441.7" x2="146.69" y2="447.9" stroke="#1a9090" stroke-width="0.9" stroke-opacity="0.78"/>
<line x1="147.05" y1="441.7" x2="147.05" y2="447.9" stroke="#1a9090" stroke-width="0.9" stroke-opacity="0.75"/>
<line x1="147.8" y1="441.7" x2="147.8" y2="447.9" stroke="#1a9090" stroke-width="0.6" stroke-opacity="0.97"/>
<line x1="148.02" y1="441.7" x2="148.02" y2="447.9" stroke="#1a9090" stroke-width="0.6" stroke-opacity="0.69"/>
<line x1="148.73" y1="441.7" x2="148.73" y2="447.9" stroke="#1a9090" stroke-width="0.6" stroke-opacity="0.69"/>
<line x1="149.03" y1="441.7" x2="149.03" y2="447.9" stroke="#1a9090" stroke-width="0.5" stroke-opacity="0.63"/>
<line x1="149.51" y1="441.7" x2="149.51" y2="447.9" stroke="#1a9090" stroke-width="0.5" stroke-opacity="0.61"/>
<line x1="150.1" y1="441.7" x2="150.1" y2="447.9" stroke="#1a9090" stroke-width="0.7" stroke-opacity="0.72"/>
<line x1="150.52" y1="441.7" x2="150.52" y2="447.9" stroke="#1a9090" stroke-width="0.9" stroke-opacity="0.53"/>
<line x1="151.18" y1="441.7" x2="151.18" y2="447.9" stroke="#1a9090" stroke-width="0.5" stroke-opacity="0.53"/>
<line x1="151.7" y1="441.7" x2="151.7" y2="447.9" stroke="#1a9090" stroke-width="0.5" stroke-opacity="0.58"/>
<line x1="152.14" y1="441.7" x2="152.14" y2="447.9" stroke="#1a9090" stroke-width="0.5" stroke-opacity="0.54"/>
<line x1="152.49" y1="441.7" x2="152.49" y2="447.9" stroke="#1a9090" stroke-width="0.9" stroke-opacity="0.57"/>
<line x1="153.27" y1="441.7" x2="153.27" y2="447.9" stroke="#1a9090" stroke-width="0.7" stroke-opacity="0.99"/>
<line x1="153.51" y1="441.7" x2="153.51" y2="447.9" stroke="#1a9090" stroke-width="0.5" stroke-opacity="0.88"/>
<line x1="154.3" y1="441.7" x2="154.3" y2="447.9" stroke="#1a9090" stroke-width="0.9" stroke-opacity="0.94"/>
<line x1="49.8" y1="412.7" x2="158.8" y2="412.7" stroke="#888" stroke-width="1.1"/>
<line x1="49.8" y1="404.5" x2="158.8" y2="404.5" stroke="#444" stroke-width="1.0" stroke-dasharray="5.4 6.2"/>
<line x1="49.8" y1="436.2" x2="158.8" y2="436.2" stroke="#444" stroke-width="1.0" stroke-dasharray="5.4 6.2"/>
<path d="M54.6 413.04 L54.71 412.14 L54.87 410.47 L55.1 409.24 L55.36 408.43 L55.69 407.91 L56.2 407.05 L56.99 406.19 L57.97 405.07 L59 404.5 L60.03 404.74 L61.11 405.16 L62.2 405.57 L63.21 405.51 L64.23 405.45 L65.5 405.41 L67.17 405.64 L69.09 405.94 L71 406.5 L72.8 407.37 L74.59 408.37 L76.5 409.37 L78.59 410.22 L80.79 411.15 L83 412.07 L85.15 412.87 L87.31 414.21 L89.6 415.3 L92.13 416.71 L94.77 418.15 L97.3 419.6 L99.54 420.75 L101.66 421.82 L103.9 423.09 L106.43 424.07 L109.08 425.29 L111.6 426.45 L113.85 427.41 L115.97 428.34 L118.1 429.4 L120.29 430.77 L122.5 431.78 L124.7 432.75 L126.9 433.8 L129.11 434.3 L131.3 435.11 L133.51 435.31 L135.71 435.75 L137.8 435.85 L139.75 435.97 L141.59 435.56 L143.3 435.22 L144.91 434.85 L146.4 434.23 L147.7 433.5 L148.77 432.45 L149.64 430.94 L150.4 429.39 L151.01 427.5 L151.5 425.24 L152 423.1 L152.61 420.58 L153.23 418.51 L153.7 416.49 L153.91 414.98 L153.97 413.76 L154 413.18" fill="none" stroke="#35a3a3" stroke-width="1.45" stroke-linejoin="round" stroke-linecap="round"/>
<text x="51.6" y="423.5" font-size="7.8" fill="#111">NES -1.547</text>
<text x="51.6" y="431.6" font-size="7.8" fill="#111"><tspan font-style="italic">P</tspan><tspan font-size="4.6" dy="2">adj</tspan><tspan dy="-2"> 0.0093</tspan></text>
<line x1="195.3" y1="402.5" x2="195.3" y2="450.1" stroke="#333" stroke-width="0.9"/>
<line x1="195.3" y1="450.1" x2="303.6" y2="450.1" stroke="#333" stroke-width="0.9"/>
<line x1="193.3" y1="404.5" x2="195.3" y2="404.5" stroke="#333" stroke-width="0.8"/>
<text x="192.5" y="406.98" font-size="6.9" text-anchor="end" fill="#333">0.4</text>
<line x1="193.3" y1="415.2" x2="195.3" y2="415.2" stroke="#333" stroke-width="0.8"/>
<text x="192.5" y="417.68" font-size="6.9" text-anchor="end" fill="#333">0.2</text>
<line x1="193.3" y1="426" x2="195.3" y2="426" stroke="#333" stroke-width="0.8"/>
<text x="192.5" y="428.48" font-size="6.9" text-anchor="end" fill="#333">0.0</text>
<line x1="193.3" y1="437.2" x2="195.3" y2="437.2" stroke="#333" stroke-width="0.8"/>
<text x="192.5" y="439.68" font-size="6.9" text-anchor="end" fill="#333">−0.2</text>
<line x1="193.3" y1="448" x2="195.3" y2="448" stroke="#333" stroke-width="0.8"/>
<text x="192.5" y="450.48" font-size="6.9" text-anchor="end" fill="#333">−0.4</text>
<line x1="199.8" y1="450.1" x2="199.8" y2="452.1" stroke="#333" stroke-width="0.8"/>
<text x="199.8" y="458.7" font-size="6.7" text-anchor="middle" fill="#333">0</text>
<line x1="227.2" y1="450.1" x2="227.2" y2="452.1" stroke="#333" stroke-width="0.8"/>
<text x="227.2" y="458.7" font-size="6.7" text-anchor="middle" fill="#333">3000</text>
<line x1="254.6" y1="450.1" x2="254.6" y2="452.1" stroke="#333" stroke-width="0.8"/>
<text x="254.6" y="458.7" font-size="6.7" text-anchor="middle" fill="#333">6000</text>
<line x1="282" y1="450.1" x2="282" y2="452.1" stroke="#333" stroke-width="0.8"/>
<text x="282" y="458.7" font-size="6.7" text-anchor="middle" fill="#333">9000</text>
<line x1="199.87" y1="443" x2="199.87" y2="448.5" stroke="#1a9090" stroke-width="0.7" stroke-opacity="0.69"/>
<line x1="200.52" y1="443" x2="200.52" y2="448.5" stroke="#1a9090" stroke-width="0.5" stroke-opacity="0.70"/>
<line x1="200.97" y1="443" x2="200.97" y2="448.5" stroke="#1a9090" stroke-width="0.7" stroke-opacity="0.64"/>
<line x1="201.44" y1="443" x2="201.44" y2="448.5" stroke="#1a9090" stroke-width="0.9" stroke-opacity="0.81"/>
<line x1="201.71" y1="443" x2="201.71" y2="448.5" stroke="#1a9090" stroke-width="0.6" stroke-opacity="0.60"/>
<line x1="202.2" y1="443" x2="202.2" y2="448.5" stroke="#1a9090" stroke-width="0.6" stroke-opacity="0.79"/>
<line x1="202.75" y1="443" x2="202.75" y2="448.5" stroke="#1a9090" stroke-width="0.6" stroke-opacity="0.98"/>
<line x1="203.05" y1="443" x2="203.05" y2="448.5" stroke="#1a9090" stroke-width="0.5" stroke-opacity="0.73"/>
<line x1="203.67" y1="443" x2="203.67" y2="448.5" stroke="#1a9090" stroke-width="0.6" stroke-opacity="0.64"/>
<line x1="203.92" y1="443" x2="203.92" y2="448.5" stroke="#1a9090" stroke-width="0.5" stroke-opacity="0.77"/>
<line x1="204.39" y1="443" x2="204.39" y2="448.5" stroke="#1a9090" stroke-width="0.9" stroke-opacity="0.69"/>
<line x1="204.74" y1="443" x2="204.74" y2="448.5" stroke="#1a9090" stroke-width="0.6" stroke-opacity="0.97"/>
<line x1="205.25" y1="443" x2="205.25" y2="448.5" stroke="#1a9090" stroke-width="0.7" stroke-opacity="0.93"/>
<line x1="205.7" y1="443" x2="205.7" y2="448.5" stroke="#1a9090" stroke-width="0.5" stroke-opacity="0.83"/>
<line x1="206.14" y1="443" x2="206.14" y2="448.5" stroke="#1a9090" stroke-width="0.7" stroke-opacity="0.69"/>
<line x1="206.4" y1="443" x2="206.4" y2="448.5" stroke="#1a9090" stroke-width="0.7" stroke-opacity="0.87"/>
<line x1="206.96" y1="443" x2="206.96" y2="448.5" stroke="#1a9090" stroke-width="0.9" stroke-opacity="0.63"/>
<line x1="207.25" y1="443" x2="207.25" y2="448.5" stroke="#1a9090" stroke-width="0.6" stroke-opacity="0.67"/>
<line x1="207.93" y1="443" x2="207.93" y2="448.5" stroke="#1a9090" stroke-width="0.5" stroke-opacity="0.64"/>
<line x1="208.16" y1="443" x2="208.16" y2="448.5" stroke="#1a9090" stroke-width="0.7" stroke-opacity="0.70"/>
<line x1="208.6" y1="443" x2="208.6" y2="448.5" stroke="#1a9090" stroke-width="0.5" stroke-opacity="0.62"/>
<line x1="209.16" y1="443" x2="209.16" y2="448.5" stroke="#1a9090" stroke-width="0.7" stroke-opacity="0.80"/>
<line x1="209.75" y1="443" x2="209.75" y2="448.5" stroke="#1a9090" stroke-width="0.6" stroke-opacity="0.80"/>
<line x1="210.07" y1="443" x2="210.07" y2="448.5" stroke="#1a9090" stroke-width="0.6" stroke-opacity="0.81"/>
<line x1="210.37" y1="443" x2="210.37" y2="448.5" stroke="#1a9090" stroke-width="0.7" stroke-opacity="0.75"/>
<line x1="210.8" y1="443" x2="210.8" y2="448.5" stroke="#1a9090" stroke-width="0.6" stroke-opacity="0.94"/>
<line x1="211.37" y1="443" x2="211.37" y2="448.5" stroke="#1a9090" stroke-width="0.7" stroke-opacity="0.93"/>
<line x1="211.65" y1="443" x2="211.65" y2="448.5" stroke="#1a9090" stroke-width="0.5" stroke-opacity="0.70"/>
<line x1="212.21" y1="443" x2="212.21" y2="448.5" stroke="#1a9090" stroke-width="0.5" stroke-opacity="0.64"/>
<line x1="212.68" y1="443" x2="212.68" y2="448.5" stroke="#1a9090" stroke-width="0.7" stroke-opacity="0.99"/>
<line x1="213.18" y1="443" x2="213.18" y2="448.5" stroke="#1a9090" stroke-width="0.6" stroke-opacity="0.77"/>
<line x1="213.5" y1="443" x2="213.5" y2="448.5" stroke="#1a9090" stroke-width="0.7" stroke-opacity="0.63"/>
<line x1="213.93" y1="443" x2="213.93" y2="448.5" stroke="#1a9090" stroke-width="0.7" stroke-opacity="0.98"/>
<line x1="214.24" y1="443" x2="214.24" y2="448.5" stroke="#1a9090" stroke-width="0.6" stroke-opacity="0.89"/>
<line x1="214.69" y1="443" x2="214.69" y2="448.5" stroke="#1a9090" stroke-width="0.7" stroke-opacity="0.88"/>
<line x1="215.25" y1="443" x2="215.25" y2="448.5" stroke="#1a9090" stroke-width="0.9" stroke-opacity="0.96"/>
<line x1="215.55" y1="443" x2="215.55" y2="448.5" stroke="#1a9090" stroke-width="0.6" stroke-opacity="0.91"/>
<line x1="216.26" y1="443" x2="216.26" y2="448.5" stroke="#1a9090" stroke-width="0.6" stroke-opacity="0.62"/>
<line x1="216.62" y1="443" x2="216.62" y2="448.5" stroke="#1a9090" stroke-width="0.9" stroke-opacity="0.91"/>
<line x1="216.9" y1="443" x2="216.9" y2="448.5" stroke="#1a9090" stroke-width="0.6" stroke-opacity="0.76"/>
<line x1="217.59" y1="443" x2="217.59" y2="448.5" stroke="#1a9090" stroke-width="0.6" stroke-opacity="0.99"/>
<line x1="217.91" y1="443" x2="217.91" y2="448.5" stroke="#1a9090" stroke-width="0.5" stroke-opacity="0.62"/>
<line x1="218.13" y1="443" x2="218.13" y2="448.5" stroke="#1a9090" stroke-width="0.7" stroke-opacity="0.93"/>
<line x1="218.57" y1="443" x2="218.57" y2="448.5" stroke="#1a9090" stroke-width="0.7" stroke-opacity="0.63"/>
<line x1="219.03" y1="443" x2="219.03" y2="448.5" stroke="#1a9090" stroke-width="0.6" stroke-opacity="0.95"/>
<line x1="219.78" y1="443" x2="219.78" y2="448.5" stroke="#1a9090" stroke-width="0.5" stroke-opacity="0.95"/>
<line x1="219.98" y1="443" x2="219.98" y2="448.5" stroke="#1a9090" stroke-width="0.6" stroke-opacity="0.67"/>
<line x1="220.48" y1="443" x2="220.48" y2="448.5" stroke="#1a9090" stroke-width="0.6" stroke-opacity="0.63"/>
<line x1="222.08" y1="443" x2="222.08" y2="448.5" stroke="#1a9090" stroke-width="0.5" stroke-opacity="0.41"/>
<line x1="222.78" y1="443" x2="222.78" y2="448.5" stroke="#1a9090" stroke-width="0.7" stroke-opacity="0.56"/>
<line x1="224.3" y1="443" x2="224.3" y2="448.5" stroke="#1a9090" stroke-width="0.7" stroke-opacity="0.89"/>
<line x1="228.8" y1="443" x2="228.8" y2="448.5" stroke="#1a9090" stroke-width="0.5" stroke-opacity="0.64"/>
<line x1="230.25" y1="443" x2="230.25" y2="448.5" stroke="#1a9090" stroke-width="0.5" stroke-opacity="0.41"/>
<line x1="231.11" y1="443" x2="231.11" y2="448.5" stroke="#1a9090" stroke-width="0.6" stroke-opacity="0.68"/>
<line x1="231.8" y1="443" x2="231.8" y2="448.5" stroke="#1a9090" stroke-width="0.6" stroke-opacity="0.58"/>
<line x1="232.76" y1="443" x2="232.76" y2="448.5" stroke="#1a9090" stroke-width="0.6" stroke-opacity="0.72"/>
<line x1="233.57" y1="443" x2="233.57" y2="448.5" stroke="#1a9090" stroke-width="0.6" stroke-opacity="0.69"/>
<line x1="234.87" y1="443" x2="234.87" y2="448.5" stroke="#1a9090" stroke-width="0.9" stroke-opacity="0.32"/>
<line x1="235.87" y1="443" x2="235.87" y2="448.5" stroke="#1a9090" stroke-width="0.7" stroke-opacity="0.79"/>
<line x1="236.55" y1="443" x2="236.55" y2="448.5" stroke="#1a9090" stroke-width="0.6" stroke-opacity="0.81"/>
<line x1="237.33" y1="443" x2="237.33" y2="448.5" stroke="#1a9090" stroke-width="0.5" stroke-opacity="0.62"/>
<line x1="237.92" y1="443" x2="237.92" y2="448.5" stroke="#1a9090" stroke-width="0.9" stroke-opacity="0.52"/>
<line x1="238.91" y1="443" x2="238.91" y2="448.5" stroke="#1a9090" stroke-width="0.7" stroke-opacity="0.88"/>
<line x1="239.94" y1="443" x2="239.94" y2="448.5" stroke="#1a9090" stroke-width="0.6" stroke-opacity="0.90"/>
<line x1="240.63" y1="443" x2="240.63" y2="448.5" stroke="#1a9090" stroke-width="0.6" stroke-opacity="0.57"/>
<line x1="241.58" y1="443" x2="241.58" y2="448.5" stroke="#1a9090" stroke-width="0.6" stroke-opacity="0.44"/>
<line x1="242.52" y1="443" x2="242.52" y2="448.5" stroke="#1a9090" stroke-width="0.5" stroke-opacity="0.87"/>
<line x1="243.57" y1="443" x2="243.57" y2="448.5" stroke="#1a9090" stroke-width="0.9" stroke-opacity="0.38"/>
<line x1="244.66" y1="443" x2="244.66" y2="448.5" stroke="#1a9090" stroke-width="0.9" stroke-opacity="0.59"/>
<line x1="245.6" y1="443" x2="245.6" y2="448.5" stroke="#1a9090" stroke-width="0.9" stroke-opacity="0.64"/>
<line x1="246.77" y1="443" x2="246.77" y2="448.5" stroke="#1a9090" stroke-width="0.6" stroke-opacity="0.45"/>
<line x1="247.67" y1="443" x2="247.67" y2="448.5" stroke="#1a9090" stroke-width="0.5" stroke-opacity="0.51"/>
<line x1="248.57" y1="443" x2="248.57" y2="448.5" stroke="#1a9090" stroke-width="0.6" stroke-opacity="0.53"/>
<line x1="249.4" y1="443" x2="249.4" y2="448.5" stroke="#1a9090" stroke-width="0.5" stroke-opacity="0.74"/>
<line x1="250.23" y1="443" x2="250.23" y2="448.5" stroke="#1a9090" stroke-width="0.5" stroke-opacity="0.64"/>
<line x1="251.27" y1="443" x2="251.27" y2="448.5" stroke="#1a9090" stroke-width="0.7" stroke-opacity="0.65"/>
<line x1="251.61" y1="443" x2="251.61" y2="448.5" stroke="#1a9090" stroke-width="0.9" stroke-opacity="0.67"/>
<line x1="252.68" y1="443" x2="252.68" y2="448.5" stroke="#1a9090" stroke-width="0.5" stroke-opacity="0.70"/>
<line x1="253.88" y1="443" x2="253.88" y2="448.5" stroke="#1a9090" stroke-width="0.5" stroke-opacity="0.82"/>
<line x1="254.35" y1="443" x2="254.35" y2="448.5" stroke="#1a9090" stroke-width="0.7" stroke-opacity="0.67"/>
<line x1="255.91" y1="443" x2="255.91" y2="448.5" stroke="#1a9090" stroke-width="0.6" stroke-opacity="0.42"/>
<line x1="256.2" y1="443" x2="256.2" y2="448.5" stroke="#1a9090" stroke-width="0.5" stroke-opacity="0.74"/>
<line x1="257.63" y1="443" x2="257.63" y2="448.5" stroke="#1a9090" stroke-width="0.6" stroke-opacity="0.62"/>
<line x1="258.23" y1="443" x2="258.23" y2="448.5" stroke="#1a9090" stroke-width="0.5" stroke-opacity="0.76"/>
<line x1="259.37" y1="443" x2="259.37" y2="448.5" stroke="#1a9090" stroke-width="0.6" stroke-opacity="0.80"/>
<line x1="259.89" y1="443" x2="259.89" y2="448.5" stroke="#1a9090" stroke-width="0.9" stroke-opacity="0.55"/>
<line x1="261.39" y1="443" x2="261.39" y2="448.5" stroke="#1a9090" stroke-width="0.6" stroke-opacity="0.41"/>
<line x1="261.9" y1="443" x2="261.9" y2="448.5" stroke="#1a9090" stroke-width="0.5" stroke-opacity="0.63"/>
<line x1="266.63" y1="443" x2="266.63" y2="448.5" stroke="#1a9090" stroke-width="0.7" stroke-opacity="0.89"/>
<line x1="267.4" y1="443" x2="267.4" y2="448.5" stroke="#1a9090" stroke-width="0.6" stroke-opacity="0.69"/>
<line x1="268.07" y1="443" x2="268.07" y2="448.5" stroke="#1a9090" stroke-width="0.9" stroke-opacity="0.44"/>
<line x1="268.9" y1="443" x2="268.9" y2="448.5" stroke="#1a9090" stroke-width="0.9" stroke-opacity="0.58"/>
<line x1="269.59" y1="443" x2="269.59" y2="448.5" stroke="#1a9090" stroke-width="0.9" stroke-opacity="0.49"/>
<line x1="269.99" y1="443" x2="269.99" y2="448.5" stroke="#1a9090" stroke-width="0.5" stroke-opacity="0.84"/>
<line x1="270.83" y1="443" x2="270.83" y2="448.5" stroke="#1a9090" stroke-width="0.6" stroke-opacity="0.53"/>
<line x1="271.37" y1="443" x2="271.37" y2="448.5" stroke="#1a9090" stroke-width="0.5" stroke-opacity="0.51"/>
<line x1="271.98" y1="443" x2="271.98" y2="448.5" stroke="#1a9090" stroke-width="0.5" stroke-opacity="0.72"/>
<line x1="273" y1="443" x2="273" y2="448.5" stroke="#1a9090" stroke-width="0.5" stroke-opacity="0.65"/>
<line x1="273.41" y1="443" x2="273.41" y2="448.5" stroke="#1a9090" stroke-width="0.5" stroke-opacity="0.47"/>
<line x1="274.35" y1="443" x2="274.35" y2="448.5" stroke="#1a9090" stroke-width="0.5" stroke-opacity="0.58"/>
<line x1="274.9" y1="443" x2="274.9" y2="448.5" stroke="#1a9090" stroke-width="0.6" stroke-opacity="0.98"/>
<line x1="275.19" y1="443" x2="275.19" y2="448.5" stroke="#1a9090" stroke-width="0.5" stroke-opacity="0.78"/>
<line x1="276.19" y1="443" x2="276.19" y2="448.5" stroke="#1a9090" stroke-width="0.5" stroke-opacity="0.64"/>
<line x1="276.98" y1="443" x2="276.98" y2="448.5" stroke="#1a9090" stroke-width="0.7" stroke-opacity="0.97"/>
<line x1="277.64" y1="443" x2="277.64" y2="448.5" stroke="#1a9090" stroke-width="0.7" stroke-opacity="0.85"/>
<line x1="278.04" y1="443" x2="278.04" y2="448.5" stroke="#1a9090" stroke-width="0.9" stroke-opacity="0.89"/>
<line x1="278.83" y1="443" x2="278.83" y2="448.5" stroke="#1a9090" stroke-width="0.7" stroke-opacity="0.52"/>
<line x1="279.57" y1="443" x2="279.57" y2="448.5" stroke="#1a9090" stroke-width="0.7" stroke-opacity="0.54"/>
<line x1="280.27" y1="443" x2="280.27" y2="448.5" stroke="#1a9090" stroke-width="0.9" stroke-opacity="0.78"/>
<line x1="280.52" y1="443" x2="280.52" y2="448.5" stroke="#1a9090" stroke-width="0.6" stroke-opacity="0.61"/>
<line x1="281.43" y1="443" x2="281.43" y2="448.5" stroke="#1a9090" stroke-width="0.9" stroke-opacity="0.55"/>
<line x1="281.95" y1="443" x2="281.95" y2="448.5" stroke="#1a9090" stroke-width="0.5" stroke-opacity="0.35"/>
<line x1="282.53" y1="443" x2="282.53" y2="448.5" stroke="#1a9090" stroke-width="0.5" stroke-opacity="0.66"/>
<line x1="283.23" y1="443" x2="283.23" y2="448.5" stroke="#1a9090" stroke-width="0.6" stroke-opacity="0.41"/>
<line x1="283.95" y1="443" x2="283.95" y2="448.5" stroke="#1a9090" stroke-width="0.9" stroke-opacity="0.92"/>
<line x1="284.6" y1="443" x2="284.6" y2="448.5" stroke="#1a9090" stroke-width="0.5" stroke-opacity="0.48"/>
<line x1="285.59" y1="443" x2="285.59" y2="448.5" stroke="#1a9090" stroke-width="0.9" stroke-opacity="0.87"/>
<line x1="286.23" y1="443" x2="286.23" y2="448.5" stroke="#1a9090" stroke-width="0.9" stroke-opacity="0.81"/>
<line x1="286.55" y1="443" x2="286.55" y2="448.5" stroke="#1a9090" stroke-width="0.9" stroke-opacity="0.48"/>
<line x1="287.28" y1="443" x2="287.28" y2="448.5" stroke="#1a9090" stroke-width="0.9" stroke-opacity="0.79"/>
<line x1="287.82" y1="443" x2="287.82" y2="448.5" stroke="#1a9090" stroke-width="0.7" stroke-opacity="0.80"/>
<line x1="288.72" y1="443" x2="288.72" y2="448.5" stroke="#1a9090" stroke-width="0.5" stroke-opacity="0.75"/>
<line x1="289.07" y1="443" x2="289.07" y2="448.5" stroke="#1a9090" stroke-width="0.5" stroke-opacity="0.47"/>
<line x1="290.2" y1="443" x2="290.2" y2="448.5" stroke="#1a9090" stroke-width="0.6" stroke-opacity="0.86"/>
<line x1="290.67" y1="443" x2="290.67" y2="448.5" stroke="#1a9090" stroke-width="0.5" stroke-opacity="0.55"/>
<line x1="291.44" y1="443" x2="291.44" y2="448.5" stroke="#1a9090" stroke-width="0.5" stroke-opacity="0.72"/>
<line x1="291.99" y1="443" x2="291.99" y2="448.5" stroke="#1a9090" stroke-width="0.5" stroke-opacity="0.90"/>
<line x1="292.41" y1="443" x2="292.41" y2="448.5" stroke="#1a9090" stroke-width="0.7" stroke-opacity="0.64"/>
<line x1="293.38" y1="443" x2="293.38" y2="448.5" stroke="#1a9090" stroke-width="0.9" stroke-opacity="0.36"/>
<line x1="293.99" y1="443" x2="293.99" y2="448.5" stroke="#1a9090" stroke-width="0.6" stroke-opacity="0.93"/>
<line x1="294.53" y1="443" x2="294.53" y2="448.5" stroke="#1a9090" stroke-width="0.9" stroke-opacity="0.36"/>
<line x1="295.26" y1="443" x2="295.26" y2="448.5" stroke="#1a9090" stroke-width="0.7" stroke-opacity="0.62"/>
<line x1="295.95" y1="443" x2="295.95" y2="448.5" stroke="#1a9090" stroke-width="0.6" stroke-opacity="0.66"/>
<line x1="296.6" y1="443" x2="296.6" y2="448.5" stroke="#1a9090" stroke-width="0.9" stroke-opacity="0.85"/>
<line x1="296.97" y1="443" x2="296.97" y2="448.5" stroke="#1a9090" stroke-width="0.6" stroke-opacity="0.86"/>
<line x1="298.03" y1="443" x2="298.03" y2="448.5" stroke="#1a9090" stroke-width="0.5" stroke-opacity="0.84"/>
<line x1="298.45" y1="443" x2="298.45" y2="448.5" stroke="#1a9090" stroke-width="0.9" stroke-opacity="0.61"/>
<line x1="299.01" y1="443" x2="299.01" y2="448.5" stroke="#1a9090" stroke-width="0.7" stroke-opacity="0.56"/>
<line x1="299.85" y1="443" x2="299.85" y2="448.5" stroke="#1a9090" stroke-width="0.5" stroke-opacity="0.60"/>
<line x1="195.3" y1="426" x2="303.6" y2="426" stroke="#222" stroke-width="1.1"/>
<line x1="195.3" y1="404.5" x2="303.6" y2="404.5" stroke="#808080" stroke-width="1.0" stroke-dasharray="5.4 6.2"/>
<line x1="195.3" y1="437.2" x2="303.6" y2="437.2" stroke="#808080" stroke-width="1.0" stroke-dasharray="5.4 6.2"/>
<path d="M200.1 426.27 L200.17 423.87 L200.27 420.63 L200.4 417.62 L200.52 415.28 L200.66 413.65 L200.9 412.14 L201.29 410.79 L201.79 409.48 L202.3 408.94 L202.76 408.21 L203.23 408.08 L203.9 407.6 L204.87 407.36 L206.04 406.94 L207.2 406.66 L208.26 406.3 L209.32 405.93 L210.5 405.6 L211.89 405.34 L213.39 405.04 L214.9 404.91 L216.41 405.05 L217.92 405.18 L219.3 405.39 L220.45 405.29 L221.47 405.47 L222.5 405.62 L223.51 405.8 L224.53 406.52 L225.8 407.11 L227.39 407.89 L229.22 408.82 L231.3 409.85 L233.66 411.17 L236.26 412.75 L239 414.1 L241.99 415.73 L245.13 417.5 L248 419.06 L250.38 420.19 L252.5 421.18 L254.6 422.39 L256.77 423.79 L258.93 425.11 L261.1 426.29 L263.29 427.54 L265.5 428.52 L267.7 429.52 L269.9 430.39 L272.11 431.45 L274.3 432.26 L276.51 432.65 L278.71 433.02 L280.8 433.43 L282.71 433.79 L284.5 434.42 L286.3 435.08 L288.22 435.39 L290.14 435.83 L291.8 436 L293.05 436.31 L294.05 436.73 L295 436.78 L296.04 436.4 L297.04 436.19 L297.8 435.68 L298.2 435.01 L298.37 434.14 L298.5 432.89 L298.67 430.63 L298.81 428.16 L298.9 426.23" fill="none" stroke="#35a3a3" stroke-width="1.45" stroke-linejoin="round" stroke-linecap="round"/>
<text x="201.8" y="425.4" font-size="6.8" fill="#111">NES 1.6556</text>
<text x="201.8" y="432.1" font-size="6.8" fill="#111"><tspan font-style="italic">P</tspan><tspan font-size="4.2" dy="2">adj</tspan><tspan dy="-2"> 0.0089</tspan></text>
<text x="320.6" y="382.2" font-size="11" font-weight="bold" fill="#000">e</text>
<rect x="333.7" y="385.5" width="11.7" height="32" fill="#fff" stroke="#333" stroke-width="0.9"/>
<text x="342.35" y="401.5" font-size="8.1" text-anchor="middle" fill="#111" transform="rotate(-90 342.35 401.5)">Day 1.5</text>
<rect x="333.7" y="422.4" width="11.7" height="32.1" fill="#fff" stroke="#333" stroke-width="0.9"/>
<text x="342.35" y="438.45" font-size="8.1" text-anchor="middle" fill="#111" transform="rotate(-90 342.35 438.45)">Day 6</text>
<rect x="395.8" y="389.1" width="12.85" height="13.1" fill="#fdd98a" stroke="#fff" stroke-width="0.35"/>
<rect x="408.6" y="389.1" width="12.85" height="13.1" fill="#2a2386" stroke="#fff" stroke-width="0.35"/>
<rect x="421.4" y="389.1" width="12.85" height="13.1" fill="#f9b11e" stroke="#fff" stroke-width="0.35"/>
<rect x="434.2" y="389.1" width="12.85" height="13.1" fill="#b7bcdc" stroke="#fff" stroke-width="0.35"/>
<rect x="408.6" y="402.2" width="12.85" height="13.1" fill="#1f3283" stroke="#fff" stroke-width="0.35"/>
<rect x="421.4" y="402.2" width="12.85" height="13.1" fill="#fdd98a" stroke="#fff" stroke-width="0.35"/>
<rect x="434.2" y="402.2" width="12.85" height="13.1" fill="#213a8d" stroke="#fff" stroke-width="0.35"/>
<rect x="395.8" y="425.9" width="12.85" height="13.1" fill="#273f8f" stroke="#fff" stroke-width="0.35"/>
<rect x="408.6" y="425.9" width="12.85" height="13.1" fill="#fbc93a" stroke="#fff" stroke-width="0.35"/>
<rect x="421.4" y="425.9" width="12.85" height="13.1" fill="#fef5e2" stroke="#fff" stroke-width="0.35"/>
<rect x="434.2" y="425.9" width="12.85" height="13.1" fill="#3a54a0" stroke="#fff" stroke-width="0.35"/>
<rect x="395.8" y="439" width="12.85" height="13.1" fill="#f7941f" stroke="#fff" stroke-width="0.35"/>
<rect x="408.6" y="439" width="12.85" height="13.1" fill="#f68b22" stroke="#fff" stroke-width="0.35"/>
<rect x="421.4" y="439" width="12.85" height="13.1" fill="#fef2dd" stroke="#fff" stroke-width="0.35"/>
<rect x="434.2" y="439" width="12.85" height="13.1" fill="#f7961f" stroke="#fff" stroke-width="0.35"/>
<line x1="394.3" y1="388.1" x2="394.3" y2="416.4" stroke="#333" stroke-width="0.9"/>
<line x1="394.3" y1="425" x2="394.3" y2="453.6" stroke="#333" stroke-width="0.9"/>
<line x1="394.3" y1="453.6" x2="447.6" y2="453.6" stroke="#333" stroke-width="0.9"/>
<line x1="392.3" y1="395.6" x2="394.3" y2="395.6" stroke="#333" stroke-width="0.8"/>
<text x="391.4" y="398.5" font-size="8.3" text-anchor="end" fill="#111">CD8 T cell</text>
<line x1="392.3" y1="408.7" x2="394.3" y2="408.7" stroke="#333" stroke-width="0.8"/>
<text x="391.4" y="411.6" font-size="8.3" text-anchor="end" fill="#111">CD4 T cell</text>
<line x1="392.3" y1="432.4" x2="394.3" y2="432.4" stroke="#333" stroke-width="0.8"/>
<text x="391.4" y="435.3" font-size="8.3" text-anchor="end" fill="#111">CD8 T cell</text>
<line x1="392.3" y1="445.5" x2="394.3" y2="445.5" stroke="#333" stroke-width="0.8"/>
<text x="391.4" y="448.4" font-size="8.3" text-anchor="end" fill="#111">CD4 T cell</text>
<line x1="402.23" y1="453.6" x2="402.23" y2="455.6" stroke="#333" stroke-width="0.8"/>
<text x="405.23" y="456.4" font-size="8.5" text-anchor="end" font-style="italic" fill="#111" transform="rotate(-90 405.23 456.4)">Il2</text>
<line x1="415.03" y1="453.6" x2="415.03" y2="455.6" stroke="#333" stroke-width="0.8"/>
<text x="418.03" y="456.4" font-size="8.5" text-anchor="end" font-style="italic" fill="#111" transform="rotate(-90 418.03 456.4)">Il2ra</text>
<line x1="427.82" y1="453.6" x2="427.82" y2="455.6" stroke="#333" stroke-width="0.8"/>
<text x="430.82" y="456.4" font-size="8.5" text-anchor="end" font-style="italic" fill="#111" transform="rotate(-90 430.82 456.4)">Il2rb</text>
<line x1="440.62" y1="453.6" x2="440.62" y2="455.6" stroke="#333" stroke-width="0.8"/>
<text x="443.62" y="456.4" font-size="8.5" text-anchor="end" font-style="italic" fill="#111" transform="rotate(-90 443.62 456.4)">Il2rg</text>
<text x="482.4" y="389.4" font-size="7.9" text-anchor="middle" fill="#111">Average log<tspan font-size="4.8" dy="1.8">2</tspan></text>
<text x="482.4" y="399.4" font-size="7.9" text-anchor="middle" fill="#111">fold change</text>
<text x="482.4" y="409.3" font-size="7.95" text-anchor="middle" fill="#111">(EP2iEP4i/Vehicle)</text>
<rect x="477.6" y="414.2" width="9.9" height="28.6" fill="url(#gv)"/>
<rect x="477.6" y="443.6" width="9.9" height="30.3" fill="url(#gv2)"/>
<line x1="477.6" y1="416.4" x2="479.2" y2="416.4" stroke="#fff" stroke-width="0.7"/>
<line x1="485.9" y1="416.4" x2="487.5" y2="416.4" stroke="#fff" stroke-width="0.7"/>
<text x="492.6" y="418.8" font-size="6.7" text-anchor="middle" fill="#222">2</text>
<line x1="477.6" y1="430.3" x2="479.2" y2="430.3" stroke="#fff" stroke-width="0.7"/>
<line x1="485.9" y1="430.3" x2="487.5" y2="430.3" stroke="#fff" stroke-width="0.7"/>
<text x="492.6" y="432.7" font-size="6.7" text-anchor="middle" fill="#222">1</text>
<line x1="477.6" y1="444.5" x2="479.2" y2="444.5" stroke="#fff" stroke-width="0.7"/>
<line x1="485.9" y1="444.5" x2="487.5" y2="444.5" stroke="#fff" stroke-width="0.7"/>
<text x="492.6" y="446.9" font-size="6.7" text-anchor="middle" fill="#222">0</text>
<line x1="477.6" y1="458.4" x2="479.2" y2="458.4" stroke="#fff" stroke-width="0.7"/>
<line x1="485.9" y1="458.4" x2="487.5" y2="458.4" stroke="#fff" stroke-width="0.7"/>
<text x="492.6" y="460.8" font-size="6.7" text-anchor="middle" fill="#222">−1</text>
<line x1="477.6" y1="472.1" x2="479.2" y2="472.1" stroke="#fff" stroke-width="0.7"/>
<line x1="485.9" y1="472.1" x2="487.5" y2="472.1" stroke="#fff" stroke-width="0.7"/>
<text x="492.6" y="474.5" font-size="6.7" text-anchor="middle" fill="#222">−2</text>
</svg>
</body></html>
